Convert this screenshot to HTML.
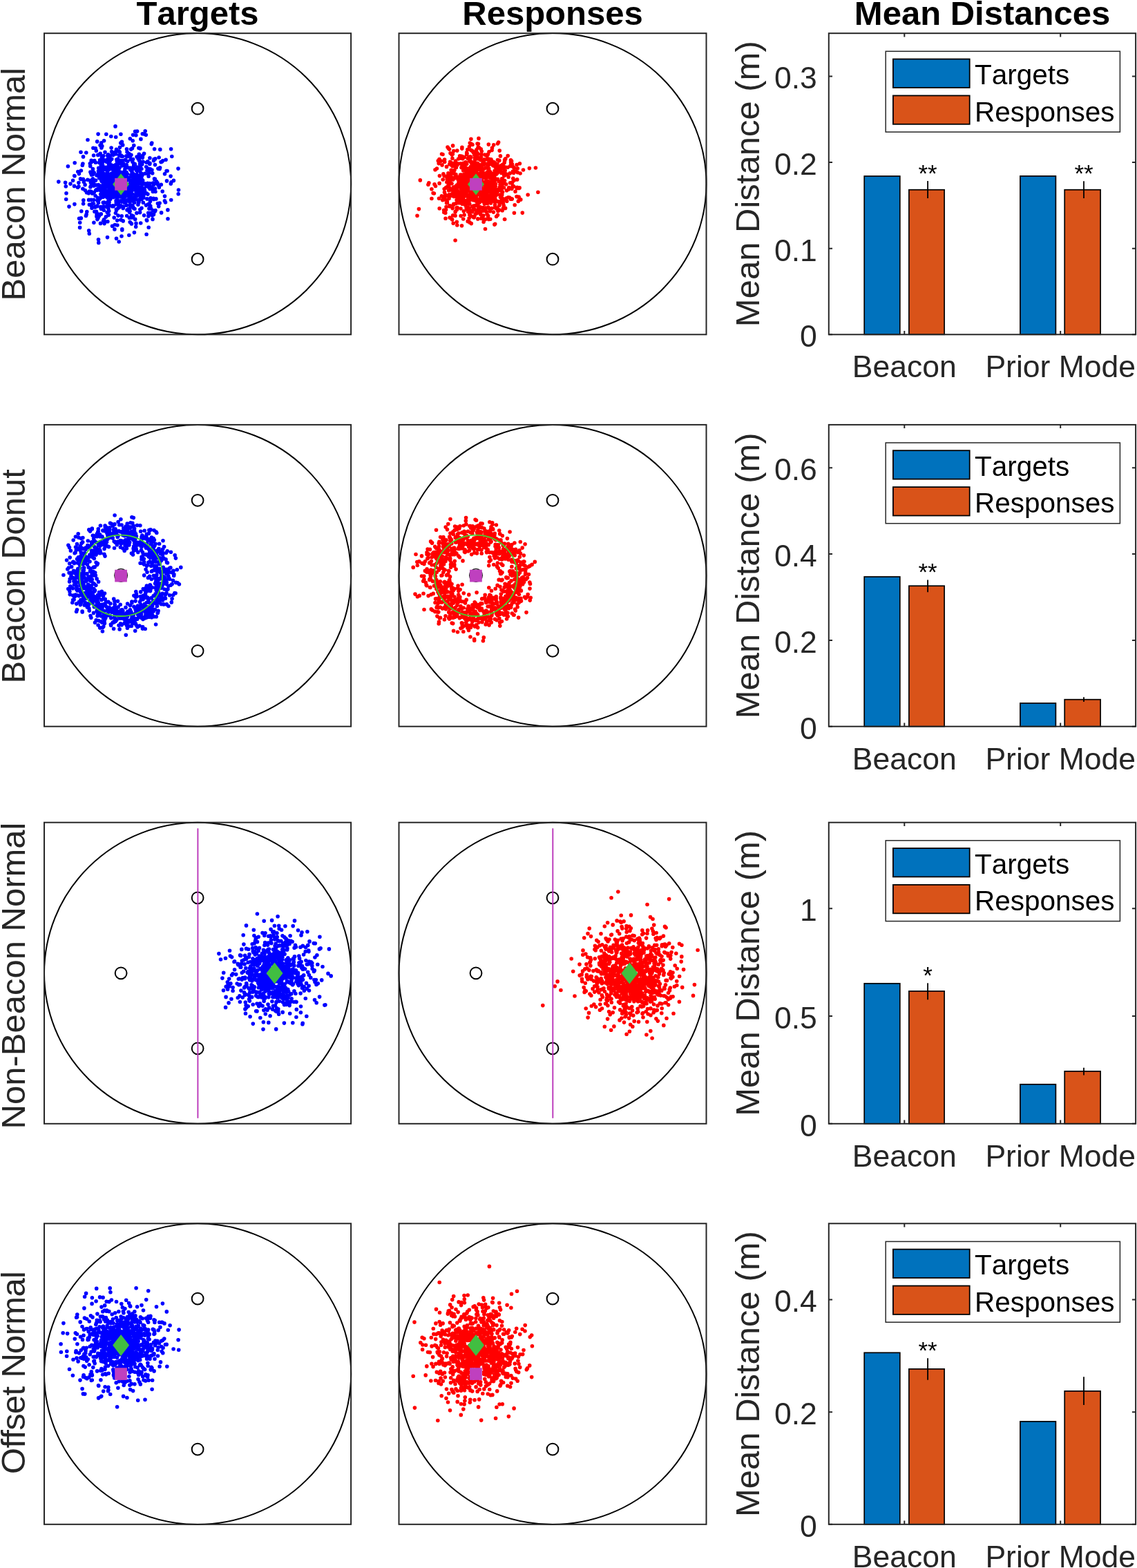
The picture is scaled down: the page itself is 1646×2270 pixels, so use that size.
<!DOCTYPE html>
<html><head><meta charset="utf-8"><style>html,body{margin:0;padding:0;background:#fff;overflow:hidden}svg{display:block}</style></head><body>
<svg width="1646" height="2270" viewBox="0 0 1646 2270" font-family="'Liberation Sans', Arial, Helvetica, sans-serif" style="font-kerning:none">
<rect width="1646" height="2270" fill="#fff"/>
<text x="286" y="35.8" font-size="49" font-weight="bold" text-anchor="middle" fill="#000">Targets</text>
<text x="800" y="35.8" font-size="49" font-weight="bold" text-anchor="middle" fill="#000">Responses</text>
<text x="1422" y="35.8" font-size="49" font-weight="bold" text-anchor="middle" fill="#000">Mean Distances</text>
<text transform="translate(36 266.6) rotate(-90)" font-size="49" text-anchor="middle" fill="#262626">Beacon Normal</text>
<text transform="translate(36 834.3) rotate(-90)" font-size="49" text-anchor="middle" fill="#262626">Beacon Donut</text>
<text transform="translate(36 1412.5) rotate(-90)" font-size="49" text-anchor="middle" fill="#262626">Non-Beacon Normal</text>
<text transform="translate(36 1987.1) rotate(-90)" font-size="49" text-anchor="middle" fill="#262626" textLength="293.9">Offset Normal</text>
<path d="M177.9 263.7h0M189.8 269.2h0M162.7 275.1h0M205 288.5h0M158.9 237.6h0M160.7 267.7h0M121.6 261.7h0M146.4 249.9h0M162.5 259.5h0M184.5 290.7h0M172.1 298.2h0M159.8 274.8h0M195.8 268.9h0M157.9 245.6h0M164.5 271.8h0M151.8 261.9h0M171.4 279.2h0M180 274.9h0M160 263.8h0M193.1 301.1h0M146.1 301.6h0M206 284.7h0M181.1 259.5h0M208.6 311.8h0M216.5 297h0M183.3 239h0M174.9 281.8h0M145.4 275.8h0M184.9 282.8h0M147.8 251.5h0M165 239.8h0M215.1 255.3h0M182.6 260.8h0M211.5 297.1h0M189.6 216.1h0M176.2 282.5h0M198.1 252.5h0M217 236.4h0M159.8 288.3h0M176.2 312.8h0M179.4 252.2h0M166.4 241.7h0M145.7 281.2h0M188.4 296.5h0M157.7 305.6h0M168.4 303h0M165.1 249.8h0M180.8 290.5h0M178.8 253.3h0M144.2 234.5h0M186.6 289.5h0M171.3 242h0M195.1 237.3h0M158.6 281h0M123.3 275.6h0M161.7 269.3h0M173.3 271.4h0M191 249.3h0M207.7 283.5h0M194.5 293.5h0M193.2 286.2h0M176.8 233.9h0M171.9 249.1h0M142.3 272.7h0M162 243.1h0M151.1 272.9h0M183.3 297.2h0M174.7 290.7h0M207.3 293.2h0M120.6 295h0M182.9 276.5h0M183.6 275.6h0M182.4 258.5h0M131.3 264.2h0M156.6 291.6h0M168.4 268.7h0M155.5 255h0M174.8 232.6h0M182 264.3h0M147.8 211.6h0M186.9 259.9h0M162.9 261.3h0M216.8 265.6h0M177 232.5h0M212.9 287.9h0M199.6 267.8h0M196.1 275.3h0M189.2 263.2h0M141.2 290.4h0M130.5 261.2h0M170.3 242.8h0M189.2 262.1h0M165 278.7h0M164.1 298.7h0M183.1 255.8h0M130.3 236.7h0M200 265.6h0M168.5 304.5h0M145.5 253.3h0M164.2 280.2h0M159.8 252.6h0M138.1 283.5h0M193.6 255.8h0M178.8 237h0M164.2 298.4h0M178.2 319.9h0M156.9 280.1h0M170.6 279.8h0M174.9 253.8h0M173.3 220.4h0M160.1 282.3h0M163.5 298h0M198.1 263.2h0M164.2 243.6h0M159 232.9h0M202.8 303.3h0M146.2 239.6h0M134.4 244.6h0M204.9 258.8h0M194.7 255.5h0M215.5 271.3h0M166.3 325.5h0M167.6 238.7h0M179.7 265.9h0M199.6 245.6h0M193.6 286.4h0M159.7 270.5h0M155.9 320.7h0M158.9 256.3h0M150.5 258.8h0M174.9 284.4h0M161 262.5h0M142.5 247.7h0M238.4 290.7h0M157.1 236h0M152.6 266.3h0M175.8 249.6h0M145.5 299.5h0M185.4 258.1h0M170 254.6h0M107.5 269.4h0M150.4 243.7h0M160.3 283.6h0M148.1 233.8h0M189.8 284.1h0M153 279.7h0M168.3 273.7h0M146 285.9h0M202.7 281.4h0M181 266.2h0M171.7 252.2h0M176.3 276.2h0M169 256.1h0M203.3 241.3h0M198.7 270.8h0M156.6 260.1h0M153.9 282.3h0M183.1 253.9h0M149.7 273.7h0M197.1 264.1h0M184.7 258.1h0M176.6 260.1h0M181.8 232h0M189.9 261.5h0M183.3 258.9h0M182.4 242.1h0M202.4 227.6h0M151.1 272.2h0M208.7 273.1h0M169.3 234h0M170.7 266.3h0M213.9 281.1h0M139.9 313.4h0M166 246.5h0M209 265.6h0M166.6 271.8h0M194.5 289.6h0M143.4 312.7h0M196.8 258h0M156.2 244.5h0M177.9 251.8h0M157.5 285.4h0M183.4 257.7h0M191.9 298.2h0M149.9 252.9h0M196.7 283.3h0M180.3 293.5h0M150 232.7h0M155.1 269.6h0M156.7 255.5h0M152.6 252.5h0M151.9 275.2h0M193.3 255.7h0M170.3 253.4h0M187.3 268.8h0M211.7 241.6h0M183.4 277h0M166.8 280.2h0M142 315.5h0M144.2 287.9h0M149.3 293.2h0M166.2 270.4h0M176.3 292.1h0M167.7 198.5h0M157.6 271h0M164.9 284.5h0M198.4 263.4h0M140.8 298.6h0M200 259.9h0M223.5 258.7h0M148.9 263.2h0M199.8 245.2h0M219.9 246.1h0M197 279.3h0M171.5 291.6h0M140.6 298h0M173.6 254.3h0M192.3 291.1h0M192.8 312.7h0M199.9 296.3h0M162.6 269.2h0M188 266.3h0M182 276.6h0M194.5 264.4h0M167 247.7h0M154.5 293.7h0M173.1 284.8h0M145.2 222.2h0M150.9 293.1h0M199.6 274.4h0M156.6 263.7h0M168.2 258.8h0M117.4 247h0M170.7 301.6h0M178.7 299h0M166 260.9h0M187.6 307.3h0M163.9 268.9h0M158.8 239.7h0M158.6 258.8h0M206.2 266.8h0M156.9 270h0M180.1 251.2h0M201.3 223.3h0M170.1 282h0M144.3 275.1h0M204.8 277.2h0M136.2 250h0M203.4 273.6h0M174.8 276.9h0M191.6 250.5h0M168.4 270h0M162.5 263.7h0M204.9 244.5h0M219.4 310h0M135.6 263.5h0M182.9 249.2h0M158 261.3h0M192.1 255h0M217.1 273.4h0M172.7 300.1h0M189.5 275.2h0M167.4 308.5h0M193.7 262.1h0M138.8 275.3h0M148.7 227.3h0M168.6 273.2h0M204.5 273.2h0M193.6 238.6h0M174.5 269.6h0M194.9 269.4h0M193.5 255.2h0M183.3 276.3h0M146.3 270.8h0M167.7 223h0M197.1 258.4h0M155.4 258.1h0M178.2 301.4h0M171.2 277.6h0M206.6 279h0M199.6 255.8h0M192.8 265.4h0M199.8 243.7h0M157.1 295.9h0M170.5 258.5h0M176.8 250.9h0M205.7 238h0M171.6 274.7h0M172.6 248.3h0M155.1 276.5h0M151.3 281.6h0M140 254h0M175.9 238h0M190 266.3h0M151.2 231.8h0M139 267.9h0M148.4 235.4h0M169.7 319.1h0M181.4 284.3h0M179.9 284.8h0M144.2 256.8h0M181.1 266.3h0M170.6 251.4h0M169.1 248.9h0M119.3 239.3h0M186 302.6h0M216.8 269h0M195.6 287.6h0M159.1 227.7h0M175.8 226.2h0M167.7 280.7h0M142.4 267.5h0M203.6 275.1h0M187.1 287.6h0M214.9 270.2h0M203.3 265.3h0M162.5 274h0M161.1 253.6h0M161.1 214h0M177.5 237.7h0M172.6 300.1h0M163.1 254.3h0M206.4 279.3h0M197.5 258.6h0M192.3 251h0M159.5 280.5h0M161.3 284.4h0M230.1 228h0M157.7 292.5h0M171.7 293.5h0M151.8 274.4h0M171.6 270h0M182.7 238.7h0M150.3 298.9h0M181.8 269.2h0M174 275h0M148.5 243.8h0M205.1 270.2h0M194.6 252.8h0M206.7 274.7h0M186.1 279.4h0M156.7 223.8h0M150.3 304.3h0M205 258.8h0M168.1 290.6h0M171.2 236.9h0M204.2 277.7h0M117.2 259.5h0M178.4 277.8h0M178.5 252.1h0M172.4 273.5h0M168.9 258.2h0M203.8 245h0M167 220h0M187.5 285.8h0M187.7 287.9h0M185.2 274.6h0M186 260.6h0M202.4 258.7h0M141.4 286.3h0M217.6 244.7h0M172.7 251h0M166.3 267.8h0M146.5 260.4h0M141.3 253.7h0M147.8 242.4h0M135.5 294.8h0M186.8 222.6h0M161.3 251.3h0M159.2 233.5h0M192.4 257.6h0M185.8 278.9h0M206.7 225h0M215 295.9h0M188.2 321.6h0M179.8 285.6h0M158.1 292.8h0M178.9 256.4h0M223.7 259.7h0M175.3 262.2h0M157.7 279h0M192 274.9h0M120.8 289.9h0M167 238.8h0M188.9 279.7h0M151.1 323.6h0M147.2 226.9h0M148.5 299.4h0M171 258.2h0M173.6 253h0M159.2 252h0M191.3 290.2h0M150.8 272.3h0M193.2 241.9h0M163.5 242.9h0M145.4 269.1h0M158.1 281.3h0M174.4 276.2h0M168.3 252.1h0M173 266.6h0M158.8 276.6h0M192.2 270.4h0M214.5 252.2h0M187 257.3h0M180.4 247.7h0M200.7 270.8h0M202.5 237.6h0M163.7 246.2h0M162.8 250.8h0M172.3 266.4h0M174.1 254h0M179.4 286.9h0M154.3 266.8h0M173.3 277.5h0M173.6 266.4h0M152.3 267.2h0M153.8 278.6h0M172.7 267.7h0M154.6 285.2h0M191 286.6h0M226.3 265.5h0M202.7 263.9h0M184.1 275.2h0M181.1 281.9h0M168.1 267.7h0M187.4 307h0M155.7 225.2h0M163.9 268.8h0M179.1 268.9h0M202.3 289.2h0M173.9 256h0M167.1 258.6h0M169.9 230.6h0M164.4 257h0M170.7 260.9h0M190.5 254.5h0M165 279.2h0M169.6 271.7h0M190.4 276.5h0M180.8 262.2h0M190.7 270.8h0M163.4 263.3h0M147 244.6h0M131.7 251.1h0M205.8 254h0M193.2 266.7h0M158.9 297.5h0M188.4 226.5h0M199 242h0M171 282.1h0M168.2 292.5h0M192.6 230.5h0M164.2 273.2h0M161.8 261.8h0M193.4 274h0M153.9 270.8h0M161 238.8h0M149.1 273.3h0M174.4 266.9h0M148.7 262.5h0M151.2 245.4h0M171.3 234.9h0M190.4 323.9h0M185.6 242.8h0M168.8 231h0M166.4 278.4h0M188.6 243h0M181.9 293.3h0M215.4 250.6h0M155.2 268h0M107.7 254.5h0M168.8 256.2h0M138.6 261.1h0M157.2 284.2h0M153.9 260.3h0M169.7 279.8h0M116.5 258.9h0M192.5 258.4h0M139.9 274.3h0M182.8 260.5h0M148.4 249.7h0M167.8 246.6h0M130.9 249.1h0M173.6 255.1h0M173.3 268.7h0M195.7 317.4h0M191.9 234.5h0M113.9 264.6h0M176.7 240h0M181.3 249.1h0M184.3 259.3h0M184.2 226.7h0M165 263.3h0M142.3 310h0M162.6 298.7h0M159.8 261.5h0M202.3 273.7h0M179.5 272.9h0M143.6 257.8h0M153.1 271.3h0M162.5 265.7h0M173.3 265.9h0M174.3 251.7h0M150.8 251.5h0M199.7 275.4h0M188.5 298.5h0M147.9 278.5h0M150.3 259.1h0M186.2 303.9h0M157.1 264.6h0M201.6 232.5h0M183.4 259.7h0M154.8 270.1h0M188.7 245.8h0M183.8 270.7h0M146.5 302.5h0M200.1 247h0M161.6 284.5h0M163.7 224.4h0M199.2 267h0M132.2 277.5h0M203.9 286.9h0M139.5 306.4h0M201 292.8h0M202.6 307.6h0M258 244.1h0M176.8 331.7h0M125.5 278.8h0M149.6 266h0M192.6 195.3h0M138.3 214.7h0M166.5 241.3h0M231.1 244.4h0M238.5 251.7h0M185.1 268.2h0M175.5 225h0M187.4 281h0M183.8 289.7h0M144.7 255.7h0M150.6 203.7h0M188.6 243.2h0M172.2 350h0M183.6 270.7h0M214.8 312.9h0M242.1 247.5h0M241.5 261.9h0M132.2 232.4h0M216 295h0M222.5 232.6h0M162.5 222.4h0M102 266.1h0M233.6 307.9h0M146.3 309.9h0M153.7 278.3h0M205.6 251.7h0M142.3 290.8h0M168.5 246.3h0M198.5 258.8h0M189.2 231h0M201.8 231.7h0M160.8 197.5h0M217.9 270.2h0M192.2 203.8h0M180.7 252.2h0M219.3 208.6h0M188.1 305.8h0M130.9 270.8h0M134.9 268.3h0M187.4 315.5h0M181.3 241.2h0M196.4 266.8h0M215 244.4h0M224.5 273h0M184 303.9h0M155.4 247.8h0M193.8 263.6h0M176.8 251.8h0M163.7 298.7h0M247.6 215.7h0M231.1 294.1h0M219.7 273.4h0M147.9 259.3h0M140.7 204.9h0M172.2 276.3h0M164.6 273.8h0M117.8 305.8h0M169.2 268.2h0M201.5 245.9h0M220.6 272.4h0M148.7 285.3h0M148.1 275.4h0M183.7 312.5h0M191.4 272.3h0M226.4 262.5h0M155.4 247.9h0M229 267.9h0M153.8 194.3h0M136.4 278.3h0M196.7 328.3h0M149.3 285.2h0M133 301.3h0M190.4 311.7h0M199.1 278h0M170.4 238.1h0M196.9 195.7h0M168.2 295.6h0M132.4 297.9h0M211.3 269.6h0M169.4 287.3h0M198.8 257.5h0M212.3 318.6h0M223.6 215.7h0M182.9 225.8h0M198.6 283.2h0M204.9 276.2h0M169.5 238.7h0M191.1 246.9h0M189.7 253.4h0M141.8 224.4h0M205 270.6h0M147.1 245.2h0M142.5 346.7h0M189.3 273.6h0M231.6 242.8h0M134.5 248.1h0M181.5 259.2h0M162.2 272.4h0M158.5 225.8h0M202.4 256.3h0M163.6 285.2h0M189.9 224.3h0M146.9 213.9h0M129.3 277.1h0M155.8 230.6h0M124.4 312.5h0M158.2 274.1h0M170.7 230h0M189.6 269.9h0M222.1 287.3h0M126.9 260.2h0M169.1 262h0M127 202.5h0M168.2 277.7h0M128.7 333.9h0M197.5 246.7h0M135.6 225h0M216.8 237.4h0M200.6 274.4h0M151.6 269.9h0M129.4 296.2h0M136.8 232.6h0M198.8 247.4h0M243 316.7h0M112.5 271.2h0M168.5 345.3h0M153.4 242.4h0M166.6 257.6h0M140.4 275.2h0M154 234.1h0M230.4 271.2h0M134.9 214.3h0M161.6 219.5h0M125.8 306.6h0M168.5 244.8h0M180.9 244.8h0M176.8 332.9h0M172.9 243.3h0M131.9 289.3h0M167.9 280.9h0M114.4 251.6h0M177.8 285.4h0M183.8 255.7h0M221.4 265h0M172.3 274.2h0M124.8 221h0M187.8 275.6h0M187.9 292.4h0M176.5 236.8h0M221.6 304.7h0M238.5 284.1h0M180.8 276.5h0M188.3 200.7h0M171.6 256.1h0M191.3 280.9h0M166 253.1h0M128.3 279.7h0M160.3 256.3h0M217.6 308.2h0M165.9 331.9h0M204.1 270.7h0M143.6 235.5h0M211.3 195.3h0M239.5 293h0M162.5 327.2h0M184 220.1h0M149.8 225.6h0M129.3 338.3h0M177.7 258.6h0M203.3 286.7h0M147.8 227.7h0M100 299.1h0M163.4 297.9h0M173.5 213.3h0M149.6 320h0M149.8 282.9h0M208.9 194.1h0M212.9 246.7h0M151 319.2h0M155.1 307.2h0M160.4 281.2h0M214.7 308.2h0M167 182.9h0M241.1 247.5h0M224.5 238.6h0M161 272.6h0M176 342h0M112.8 248.6h0M187.5 285.3h0M178.6 276.3h0M215.3 248.2h0M156.4 264.6h0M202.9 214.9h0M247.1 255.1h0M153.1 255.3h0M135.5 233.3h0M164.3 285.6h0M203.5 253.2h0M165.1 284.7h0M105.6 261.3h0M215.2 329.2h0M168.5 216.3h0M153.3 313.9h0M251.4 261.4h0M119.9 273.3h0M205 301.2h0M135.9 322.3h0M217.8 298.4h0M147.2 262.6h0M131.6 269.3h0M186.5 288.9h0M130.7 240.4h0M95.3 269.8h0M136.9 306.3h0M155.3 286.1h0M161.1 265.9h0M167.4 222.4h0M207 234.1h0M156.2 297.3h0M206.3 193.8h0M181.6 272.7h0M184.3 251.8h0M144.8 272.7h0M195 302.2h0M170.8 234.9h0M200.9 214.2h0M147.5 241.6h0M173.4 272.1h0M247.7 289.5h0M209.8 251.2h0M134.5 252.6h0M155.5 343.6h0M229.7 298.8h0M172.2 218.9h0M163.5 243.9h0M147.2 283.1h0M168.9 271.6h0M188.2 243.4h0M225.9 287.9h0M180.3 289.2h0M159.9 260.4h0M224.3 305.9h0M183.5 215.9h0M213.8 233.9h0M200.3 292.7h0M191 314.9h0M114.6 316.2h0M165.2 252.7h0M178.9 287.2h0M187.1 257.1h0M204.8 257.6h0M225 304.6h0M150.6 317.8h0M128.6 289.4h0M248.8 226.5h0M162 240.7h0M228.9 244.1h0M174.9 284.9h0M214.5 295.7h0M142.1 194.1h0M212.1 269.7h0M199.3 244.6h0M175 318.2h0M120.3 259.4h0M117.3 315.9h0M181.3 231.2h0M114 270.1h0M180.4 260.4h0M224.7 229.9h0M203.7 323h0M153.5 299.1h0M231.8 216.4h0M152 220.2h0M194.4 336.6h0M123.1 267.6h0M198.9 289.1h0M156.8 300.9h0M189.2 263.4h0M165.2 315.1h0M180.9 239.2h0M156.6 278.3h0M191.5 214.8h0M208.6 222.2h0M108 254.7h0M187.6 302.8h0M132.5 253.3h0M213.7 265.2h0M217.5 291.4h0M119.9 237.1h0M206.7 261.2h0M142.8 351.4h0M142.7 243.3h0M164.2 255.3h0M195.6 282.4h0M215.9 301.9h0M193.8 210.6h0M203.8 250.3h0M135.8 268.9h0M200.1 230h0M135.8 289.3h0M213.8 246.7h0M183.1 267.3h0M225 277.5h0M108.2 235.8h0M221 317.4h0M224.3 259h0M142.4 293.6h0M170.6 257.7h0M149.8 279.6h0M141.9 251.8h0M248 263.8h0M221.2 275h0M190.7 273.7h0M258.2 280.8h0M185.6 273.4h0M156.9 311.4h0M145.1 210.2h0M184.8 283.8h0M131.1 277.1h0M174.7 207.1h0M96 279.7h0M175.1 297.8h0M125.1 310.5h0M179.4 283.6h0M247.3 265.9h0M168.6 250.9h0M121.4 263.5h0M120.5 226.9h0M107.9 295.6h0M171 312.1h0M154 252.3h0M148.6 231.5h0M222.5 310.4h0M158.2 272.1h0M233.3 267.2h0M98.4 240.8h0M223 230.6h0M220.7 250.7h0M202.4 247.4h0M149.6 254.9h0M95.7 288.5h0M94.6 264.3h0M133.6 279.9h0M222.5 267.5h0M163.6 277.4h0M192.6 299.6h0M157.4 310.7h0M137 261.2h0M258.5 275h0M203.2 282.8h0M186.8 340.5h0M177.7 209.9h0M168 274.8h0M154.8 245.6h0M222.5 288.4h0M235.2 277.1h0M134.4 258.9h0M164.7 254.7h0M203.9 201.4h0M169.9 326h0M133.5 294.7h0M176.4 205.4h0M140.9 317.6h0M150 269.9h0M172.5 225h0M218.6 302h0M191 261.7h0M144.6 231.9h0M210.2 189.7h0M212 279.9h0M193.1 267.1h0M138.4 235.2h0M169.9 283.4h0M221.4 277.5h0M195.4 238h0M207.9 286.3h0M242.9 303.9h0M177.4 226.5h0M234.4 234.1h0M188 305.7h0M206.4 228.1h0M140 310.6h0M146.7 206.9h0M132 235.1h0M160.8 278.7h0M187.2 257h0M147.6 278.5h0M156.9 302.2h0M163 244.9h0M220.4 312h0M235.6 232.8h0M212.7 319.3h0M184.8 233.6h0M170.9 290.5h0M180.4 271.7h0M212.1 339.2h0M233 234.6h0M115.6 329.4h0M228 264.7h0M115.7 322.2h0M157.4 237.6h0M167.8 270.9h0M117 220.3h0M174.2 268.7h0M218.1 286.8h0M198.6 190.1h0M178 286.5h0M179.1 279.3h0M197 323.4h0M215.3 247.4h0M215.3 250h0M182.9 279.1h0M174.7 259.9h0M185.2 279.3h0M84.8 263.1h0M145.5 323.4h0M181.3 239.2h0M192.4 271.9h0M195.6 190.2h0M161.8 230.2h0M228.4 294.6h0M165.9 262.9h0M171.1 247.6h0M139.3 218.3h0M216.9 228.7h0M190.6 297.4h0M195.2 264.1h0M196.1 244.2h0M137.7 299.9h0M197.9 308.4h0M174.9 194.2h0M157.3 240.9h0M212.2 235.2h0M209.5 275.6h0M185.9 276.7h0M198.1 227.1h0M219.8 207h0M148.8 239.7h0M202.8 236.4h0M240.1 231.2h0M208.2 281.3h0" stroke="#0000FF" stroke-width="5.6" stroke-linecap="round" fill="none"/>
<circle cx="286.1" cy="157.2" r="8.4" fill="none" stroke="#000" stroke-width="2"/>
<circle cx="286.1" cy="375.2" r="8.4" fill="none" stroke="#000" stroke-width="2"/>
<path d="M175.1 251.2L187.1 266.8L175.1 282.4L163.1 266.8Z" fill="#41BE41"/>
<rect x="166.2" y="257.9" width="17.7" height="17.7" fill="#BF40BF"/>
<ellipse cx="286.1" cy="266.2" rx="222.1" ry="218.1" fill="none" stroke="#000" stroke-width="2"/>
<rect x="64" y="48.2" width="444.1" height="436.1" fill="none" stroke="#262626" stroke-width="2"/>
<path d="M701 288.9h0M700.6 231.6h0M717.3 278.8h0M675.4 282.4h0M701.6 274.7h0M691.8 281.5h0M669.6 262.4h0M677 282.9h0M692.2 258.9h0M668.3 259.8h0M691.2 259.3h0M728.5 293.9h0M685.9 255.4h0M697.2 272.6h0M752.4 236.7h0M680 321.9h0M709.8 284.7h0M676.1 222.3h0M695.9 269.7h0M655.4 248.3h0M688.9 241.2h0M688.2 269.3h0M692 253.1h0M708.2 290.8h0M700.3 244.7h0M712.2 253.2h0M716.5 237.8h0M717.5 266.2h0M654.8 258.3h0M692.6 274.1h0M662.5 236.9h0M696.8 254.1h0M697.8 287.3h0M643.2 273.6h0M726.5 258.7h0M667.5 287.1h0M698.3 290.9h0M681 226.7h0M687.8 254.7h0M713.5 272h0M643.7 234.5h0M716.6 285.1h0M672.4 266.7h0M703.9 279.4h0M716.4 273.7h0M688.2 259.8h0M721.6 206h0M687 267.6h0M649.7 275.7h0M672.1 290h0M687.4 284.8h0M726.3 277.1h0M665.6 225.9h0M741.8 263.7h0M671 270.6h0M685.4 289.8h0M692 267.1h0M670.3 279.4h0M661 284.7h0M735.2 225.6h0M654.7 282.7h0M666.6 253.1h0M680.9 281.1h0M679.2 274.3h0M685.9 243.9h0M681.7 241.1h0M691.2 236.4h0M659.3 306.1h0M689.5 265.3h0M705.8 255.4h0M684.4 278.2h0M699.2 235.4h0M715.2 250.8h0M660.4 242.4h0M679.7 310.7h0M656.9 271.1h0M629 266.7h0M717.1 260.4h0M672.7 273h0M711.3 284.7h0M748.2 272.4h0M673.8 263.3h0M688.9 269.7h0M690.1 271.4h0M642.5 289.1h0M674.3 235.1h0M709.5 302.3h0M705.3 271.1h0M716.5 236h0M668.4 269.1h0M645.9 271.3h0M677.7 299.9h0M692.2 223.1h0M723.2 271.3h0M706.9 238h0M660.1 276.8h0M671.5 266.1h0M654.3 317.2h0M662.9 258.8h0M705.5 249.3h0M684.1 251.5h0M687.1 235.1h0M678.3 261.2h0M681.3 268.3h0M682.5 287.1h0M681.6 263.1h0M671.7 252.5h0M654.3 280.8h0M657.9 246.6h0M701.4 277.6h0M679.4 212.2h0M703.2 273.8h0M650 287.5h0M670.7 236.3h0M693.8 261.9h0M696.9 223.4h0M743.6 250.5h0M646.3 283.5h0M680.7 275.5h0M681.2 265.1h0M698.1 246.6h0M710.7 254.1h0M665.8 268.8h0M703.9 260.6h0M666 283.5h0M640 238.9h0M692.1 230h0M691.8 265.3h0M717.1 242.1h0M672.8 275.7h0M670.7 247h0M716 265.7h0M639.4 283.7h0M715.8 254.6h0M682.8 279.9h0M664.6 278.6h0M696.8 248.5h0M650.6 260.7h0M665.6 293.8h0M695.2 287.9h0M694.9 273.8h0M668.3 284.8h0M742.8 258.4h0M673.8 262.5h0M677 247.8h0M695 258.9h0M732.7 266.8h0M700.4 292.5h0M682.3 305.5h0M672.7 244.9h0M680.4 263.7h0M650.4 265.8h0M642.6 304.3h0M688.7 249.4h0M664.7 256.4h0M684.5 238.5h0M664.3 261.7h0M675.9 292.1h0M724 267.2h0M704.7 230.7h0M709.5 265.9h0M705.1 310h0M624.9 273.8h0M659.1 282.7h0M652.9 253.4h0M696.9 283.3h0M693.2 245.3h0M674.9 290.6h0M690.8 221.3h0M715.5 278h0M716.3 257.7h0M715 238.1h0M707.5 253.5h0M710.6 293.9h0M669.7 265.4h0M692.1 298.9h0M711.6 233.8h0M704.3 286.9h0M675.4 302.8h0M651.7 234.4h0M706 294.2h0M671.6 281.3h0M694.4 307.8h0M691 293.5h0M664.8 261.8h0M688.2 297.5h0M707.8 246.5h0M710.8 287.6h0M687.8 259.8h0M685.4 221h0M696.5 273.1h0M665.9 286.8h0M651.2 251.9h0M677.2 320.4h0M644.6 281.9h0M718.3 276.9h0M725.3 239.7h0M624.9 287.5h0M656.3 257.9h0M656.8 295.2h0M716.1 247.3h0M717.2 270h0M687 268.3h0M685.1 283.4h0M700 257.3h0M720.2 250.2h0M699.3 278.1h0M733.9 253.1h0M741.5 271.5h0M685.4 248.6h0M708 268.1h0M659 236.3h0M674.9 248.5h0M722.6 303.9h0M716.2 276.4h0M678.6 268.2h0M716.7 324.3h0M717.5 259.2h0M692.1 253.7h0M668.3 261.8h0M696.7 316.3h0M692.5 303.4h0M742.3 268.9h0M737.6 286.1h0M678.9 273.9h0M691.7 260.5h0M685.2 270.6h0M703.6 242.9h0M690.7 225.6h0M698.6 283.6h0M695.8 274.5h0M708.1 248.8h0M684.1 280.5h0M720.1 277.4h0M720 301h0M687.1 244.6h0M656.7 271.1h0M723.2 274.1h0M696 256.5h0M707.3 209.1h0M697.7 267.5h0M650.8 237.7h0M656.2 296.7h0M665.2 284.8h0M708 273.8h0M653.1 250.2h0M739.5 231.9h0M666.9 262.4h0M714.5 273.5h0M712.5 237.9h0M718.4 282.1h0M644.8 308.3h0M757.5 246h0M692.6 304.5h0M648 213h0M653.4 251.4h0M674.2 283.1h0M698.8 233.1h0M707.5 317.4h0M725.7 293.5h0M691.6 293.3h0M663 287h0M688.5 297.3h0M704.5 237.3h0M694.7 299.6h0M658.3 251.7h0M668.7 226.4h0M718.9 302.1h0M714.2 273.3h0M689.5 273.2h0M669.8 290.9h0M721.3 291.9h0M675.6 268.9h0M686.2 315h0M696.2 215.9h0M702.6 317.6h0M710.9 290.5h0M692 213.5h0M638.5 233.1h0M687.3 275.1h0M711 257.6h0M718.8 259.2h0M670.6 289.7h0M660.3 269.3h0M681.4 228.2h0M648 254.3h0M675.1 300.8h0M701.9 224.1h0M666.2 285.8h0M746 277.2h0M700 317h0M690.3 258.4h0M650 252.9h0M691.3 228.7h0M694.7 290.7h0M683.9 286.5h0M711.9 278.8h0M740.8 287.8h0M682.2 248.4h0M666.5 279.6h0M744.4 261h0M681.5 312.4h0M636.4 254.6h0M718.6 242.1h0M677.2 257.3h0M710.2 270.5h0M702.7 282.8h0M691.9 296.7h0M669.9 228h0M639.5 223h0M675 294.6h0M696.1 250.6h0M660 252.5h0M679.3 251.5h0M649.5 253.9h0M720.5 208h0M684 209.5h0M696.3 246.6h0M630.5 269.5h0M743.7 269.7h0M724.7 264.8h0M628.4 280h0M678.9 227.3h0M713.8 274.5h0M675.8 290.2h0M665.7 284.1h0M663.7 281.2h0M659.1 307h0M698.4 305.4h0M667.1 253.9h0M660.1 294.6h0M704.5 293.2h0M682 282h0M669.8 229.7h0M641.9 251.9h0M675.1 249.8h0M675.6 274.5h0M674.2 243.1h0M659.1 312.2h0M736.3 274.1h0M674.4 270.3h0M657.6 273.8h0M691.1 281.1h0M718.6 313.5h0M679.7 294.9h0M668 242.6h0M673.1 240.2h0M719.4 291.7h0M727.9 266.1h0M699 251.1h0M657.6 278.8h0M698.8 236.9h0M708 219.7h0M685.8 249.7h0M675.7 237.5h0M718.6 282h0M725.3 270.3h0M653.4 256.5h0M656.4 278.8h0M725.8 275.3h0M673.2 256.4h0M696.5 227.3h0M694.9 271.7h0M674.8 255h0M695.5 244.1h0M666.6 287.3h0M696.9 311.5h0M661.8 218.1h0M717.6 292h0M668.9 226.4h0M688.9 218.7h0M680.3 207.1h0M683.2 208.7h0M683.2 306.8h0M682.3 286.6h0M671.4 241.7h0M646.5 293.8h0M688.2 309.5h0M655.6 259.6h0M692 303.7h0M742.5 248h0M656.8 218.6h0M728.4 263.1h0M670.8 264h0M716.6 276h0M693.8 238.3h0M706.5 313.3h0M654 265.7h0M676.8 275.1h0M689.9 261.3h0M663.9 264.9h0M671.6 261.3h0M687.6 283h0M672.5 256.6h0M720.5 259.4h0M681.8 288.6h0M697.3 267.8h0M695.8 231.8h0M702.8 301.1h0M706.4 223.4h0M697.8 241h0M683.1 269h0M655.1 301.6h0M687.8 287h0M708.2 301.9h0M724.4 225.9h0M691.1 208.1h0M677 285.1h0M716.5 300.6h0M679.1 274.5h0M692.8 300.1h0M736.1 256.2h0M679.4 282.1h0M712.1 280.7h0M671.3 305.7h0M691.7 307.5h0M730.6 231.7h0M661.9 239.1h0M697.6 267.6h0M698.2 244.3h0M702.8 304.1h0M651.7 261h0M697.7 262.8h0M684.8 314.1h0M727.7 289.3h0M668.5 326.8h0M701 250.7h0M680.8 253.1h0M752.1 271.9h0M692.4 208.3h0M712 237.8h0M657.9 282.9h0M665.6 289h0M723.2 218.1h0M686.7 223.9h0M688.8 291h0M651.1 315.1h0M681.6 234.4h0M687 287.7h0M650.6 266.4h0M650.7 298.8h0M695 254.8h0M720.5 231.5h0M679.1 316.1h0M686.9 302.9h0M696.1 247.3h0M683.3 268.3h0M678.5 243.9h0M667.7 226.1h0M693.6 276.8h0M712.1 217.4h0M713.7 265.7h0M648.9 268.8h0M714 280.3h0M711.4 291.7h0M716.3 265.2h0M630 245.7h0M700.7 253.5h0M710.3 287.7h0M691.8 316.9h0M662.1 291.3h0M676.7 245.1h0M707.5 249.6h0M715.3 234.7h0M691.5 243.5h0M683.6 256.2h0M657.7 283.9h0M654.3 239.8h0M716.3 292.5h0M709.8 275.4h0M668.9 239.4h0M716.6 274.1h0M722.7 292.6h0M684 244.2h0M661.8 326h0M718.6 282.3h0M680.7 261h0M680.6 257.6h0M620.9 264.7h0M679.5 274.2h0M696.7 289.4h0M690.2 287.9h0M740.6 233.4h0M682.5 285.5h0M665 285.9h0M649.2 214.7h0M652 221.7h0M690.1 257.8h0M700.1 238.4h0M689.3 278.7h0M683.5 249.3h0M693.1 291.2h0M709.9 291.8h0M674.2 245.5h0M748.7 259.9h0M704.5 286.3h0M731.8 229.9h0M676.7 254.7h0M681.9 201.3h0M699.3 281h0M708 233.9h0M718.4 243.2h0M655.1 240h0M666.1 271.2h0M714.7 209.8h0M675.1 290.9h0M696.7 280.3h0M647.4 292.4h0M645.5 271.9h0M730.5 317.5h0M705.8 290.5h0M673.4 253.8h0M724.9 266.8h0M687.3 228.7h0M695.4 284.2h0M668 253.1h0M736.8 271.6h0M682.6 236.1h0M673 260h0M730.7 250.3h0M743 241.7h0M680.6 289.5h0M684 244.3h0M687.2 278.9h0M641.2 260h0M687.8 255.8h0M712.3 251.4h0M680.4 267.8h0M712.1 260.8h0M735 242.2h0M728.3 243.6h0M686.3 276.6h0M750.6 290.9h0M679.2 301.8h0M684.8 245.4h0M704 269.3h0M718.7 251.9h0M702.1 283.9h0M699.1 266h0M670.8 291.2h0M695 280.2h0M680.8 267.1h0M660.9 269.1h0M713.2 269.3h0M715.9 275.2h0M730.6 261.6h0M643.5 278.4h0M686.2 240.4h0M709.9 273.9h0M703.9 257.8h0M696.7 273.6h0M742.5 248.3h0M690.7 276.6h0M641 223.5h0M707.7 243.8h0M668.9 213.2h0M664.9 287.9h0M650.7 282.8h0M700.1 321.2h0M677.2 300.9h0M716.8 259h0M642.8 307.5h0M651.4 254h0M716.6 296.9h0M666.5 265.9h0M683.5 298.7h0M691.4 236.8h0M748.8 271.2h0M669.6 253.3h0M674.3 271.8h0M686.4 284.5h0M735.7 285.7h0M655.4 222.9h0M669.1 295.2h0M681.3 248.7h0M695 228.5h0M658 280.5h0M682.2 254.5h0M700.2 251h0M671.1 254.3h0M708.5 268.4h0M656.4 258.6h0M709.8 317.3h0M657.9 275.9h0M683.5 289h0M704 306.5h0M706.1 252h0M675.4 277.7h0M702.5 331.5h0M739.6 235.1h0M701.2 230.8h0M643 286.8h0M707 238.7h0M738.7 240.4h0M657.1 284.4h0M697.4 262.4h0M689.1 272.8h0M687 262.1h0M636 230.5h0M708.7 247.7h0M706.8 300.1h0M680.7 274.4h0M751.2 285.5h0M744.4 308.2h0M712.8 263.7h0M666.6 236.7h0M705.1 279.4h0M685.9 289.7h0M673.5 296.7h0M692.2 265.8h0M691 264.1h0M696.1 300.3h0M711.8 258.6h0M741.5 237.9h0M653.1 282.1h0M716.6 287.3h0M712.2 253.6h0M696.3 240.7h0M741.3 288.1h0M712.5 214.1h0M714.4 307.1h0M726.3 288.1h0M691 257.5h0M708.4 277.1h0M697.9 258.4h0M739.8 235.2h0M690.3 251.1h0M720.9 305.4h0M727.1 287.1h0M706 263.8h0M691.6 257.6h0M703.3 275.1h0M690 279.6h0M706.3 262.6h0M704.1 294.5h0M677.4 306.3h0M634.3 232.7h0M662 300.5h0M727 269.4h0M740.9 273.2h0M676.6 273.3h0M687 286.6h0M647.4 293.7h0M677.7 289.8h0M646.3 255.4h0M693.3 291.1h0M655.7 311.8h0M705 252.6h0M726.3 269.5h0M713.3 252.5h0M678.7 282.5h0M699.3 244.3h0M671.6 284.7h0M712 261.1h0M713.6 290.2h0M692.5 239.3h0M650.5 216.1h0M726.4 261.1h0M675.3 259.3h0M652.2 275h0M729.2 297.5h0M645.6 303.6h0M668.8 215.1h0M655.3 240.7h0M690.8 238.9h0M647.2 259.6h0M746.8 247.8h0M704.5 268.9h0M722.8 232.2h0M673.8 264.1h0M636.2 301.8h0M666.7 260.2h0M690.3 269.4h0M686.1 274h0M702.2 289.8h0M678.6 246.5h0M660.2 282.8h0M689.7 281.7h0M706.6 312.3h0M697 287.1h0M656.1 237.6h0M682 233.9h0M711 230.8h0M693 200.4h0M659 257.6h0M683.5 218.4h0M694.2 293.1h0M709.8 249h0M674 234.7h0M709.3 305.7h0M675.7 220.9h0M696.8 285.9h0M753.8 288.9h0M707 277.6h0M721.8 241.3h0M666.5 277.8h0M671.1 273.7h0M635.5 287.2h0M715.6 267.9h0M695.8 310.5h0M659.6 242.1h0M659.3 255.3h0M661.7 267.8h0M672.1 227.6h0M646 299.5h0M689 260.6h0M691.8 264.5h0M712.9 281.9h0M673.9 244.5h0M659.5 233h0M731.7 242h0M632.4 244h0M668.1 275.7h0M665.3 281.2h0M702.3 301h0M730.2 235.4h0M679.3 273.4h0M751 285h0M725.9 262.1h0M708.1 286.1h0M677.8 287.7h0M722.1 262.5h0M720.5 311.2h0M692.9 266.8h0M682 250h0M695.5 255.6h0M682 245.9h0M646.5 241.4h0M700.5 234.8h0M672.2 311.1h0M723.7 248h0M708.5 249.2h0M738.2 250.9h0M693.4 304.1h0M667 302h0M667.3 273.2h0M682.4 264.4h0M695.6 264.7h0M661.5 290.1h0M711.9 301.6h0M731.2 230.5h0M728.3 301.8h0M675.6 294.8h0M733.6 252.2h0M651 257h0M655.8 259.9h0M662.2 256h0M701.5 304.9h0M685.3 256.4h0M722.7 232.6h0M654.9 229.2h0M686.4 277.4h0M688.4 281.6h0M715.1 280.2h0M667.5 259.5h0M727.2 238.5h0M683.7 255.5h0M685.8 237.7h0M718.4 247.5h0M689.3 285h0M681 283.4h0M673.2 257.1h0M688.5 254.4h0M619.9 267.3h0M698.6 279.6h0M662.2 276h0M697.3 219h0M627.1 279.6h0M663.3 293.8h0M753.1 251h0M671 266.4h0M710.6 236.1h0M727.1 293.5h0M710.2 252.2h0M717.6 289.9h0M656.2 323.2h0M682.3 276.7h0M675.8 277.1h0M724.6 245h0M643 254.6h0M653.1 246.3h0M687.3 265h0M728.4 239.4h0M701.2 253h0M699.8 312h0M675.6 223.6h0M654.2 224.1h0M663.3 260.3h0M724.4 285.6h0M704.4 255.3h0M670.1 267.6h0M695 273.7h0M701.8 263.6h0M635.2 236.6h0M667.1 312.6h0M678.6 285h0M733.5 275.8h0M679.6 258.8h0M661.4 275h0M723.7 282.1h0M713.4 286.1h0M749.1 249.6h0M695.6 285.8h0M675.9 261.1h0M661.1 289.6h0M697.4 256h0M643.6 231h0M662.4 279h0M655.6 210.9h0M648.9 250.8h0M677 292.2h0M731.6 301.4h0M687.6 231.6h0M676.8 216.5h0M697.9 287.7h0M636.1 265.4h0M699.5 300.5h0M731 288.4h0M671.1 256.8h0M725.9 250.4h0M689.8 308.9h0M694.7 229.6h0M682.4 284h0M685.5 298.1h0M728.2 249.2h0M676.4 263.9h0M656.1 277h0M685.8 288h0M673.6 243h0M744.3 243h0M674 247h0M682.2 242h0M689.7 247.7h0M678.9 276.5h0M711.3 279.4h0M669.7 277.5h0M687.5 263.9h0M641.1 284.9h0M687 312.8h0M709.6 236.6h0M651.2 297.8h0M665.6 285.2h0M682.3 323.6h0M693.3 307.7h0M729.7 254.3h0M681.5 307h0M691.2 243.5h0M690.3 305h0M686.9 304h0M684.9 303.6h0M707.8 262.8h0M699 253.2h0M659.6 239.5h0M690.8 239.6h0M705.3 282.6h0M706.3 255h0M694.4 267.8h0M731.2 246.7h0M681.8 262.2h0M688.8 248.3h0M674.7 296h0M674.5 293.4h0M640.6 289.6h0M706.9 283.4h0M645.9 289.2h0M661.4 303.6h0M681.7 227.4h0M723.3 292.1h0M681.8 305.2h0M712.8 233.7h0M682.6 256.4h0M689.6 273.6h0M672.6 263.1h0M709.9 266.4h0M684.9 260.2h0M689.9 216.7h0M697.4 240.6h0M695.8 228.6h0M719.5 274.8h0M653.6 274.8h0M670.7 317h0M707 246.9h0M699.3 267.5h0M727.6 278.1h0M707.8 238.3h0M715.9 325.1h0M711.4 267.5h0M697.7 242.8h0M698.3 238.9h0M694.2 258.1h0M668.9 284.3h0M649.8 267.5h0M654.6 318h0M750.3 291.5h0M748 284.6h0M708.7 257.1h0M667 272h0M677.4 256.8h0M714.1 265.1h0M647.7 262.7h0M670.8 260.6h0M661.1 300.9h0M748.1 238.5h0M711.7 284.6h0M661.7 271.2h0M733.8 291.3h0M739.8 236.8h0M671.1 276.3h0M703 269h0M681.5 257.2h0M675 280.4h0M677.2 229.5h0M708.3 230.2h0M703.6 257.2h0M709.5 289.3h0M729.9 254.6h0M683.8 267.6h0M651.2 283.9h0M695.9 231.6h0M727.2 304.7h0M653.9 283.2h0M728.3 290.4h0M663.6 230h0M688.7 254.3h0M691.7 264.9h0M707.2 252.5h0M688.1 287.4h0M700.2 273.4h0M665.4 281.7h0M690.3 289.5h0M751.2 272.4h0M713.8 239.8h0M695.1 309.3h0M689.9 250.2h0M697.7 262.4h0M684.7 257.3h0M749.3 243.8h0M679.7 251.9h0M727.6 259.8h0M729.5 271.8h0M690.9 227.9h0M726.8 281.9h0M703.4 264.2h0M679.5 233.1h0M719 274.6h0M681.2 250.3h0M695 264.9h0M739.3 288.2h0M674.3 237.5h0M684.8 242.7h0M693.8 278.3h0M710.1 278.6h0M686.2 283.6h0M665.9 265.3h0M715.3 275.2h0M654.9 236.3h0M645 316.2h0M646.9 263.8h0M745.2 296.7h0M730.1 254.1h0M690.9 278.8h0M682.8 267.3h0M702.8 305.1h0M665.9 229.1h0M692.8 273.3h0M733 287.1h0M673.9 283h0M724.4 275.5h0M682.2 286h0M681.8 217.3h0M730.6 232.9h0M682.3 259.1h0M682.3 260h0M650.2 281.8h0M692.7 268.6h0M722.9 297.2h0M730.7 317.5h0M705 226h0M698 267.9h0M693.8 251.3h0M666 289h0M719.9 237.3h0M707.5 262.9h0M680.6 286h0M690.3 252.5h0M693.4 213.6h0M674.6 255.5h0M651.1 272.1h0M699.4 251h0M686.6 285.4h0M722.2 246.6h0M701.3 295.1h0M690.5 246.2h0M669.1 258.3h0M661.3 321.3h0M674.7 277.1h0M696.5 284.1h0M679.9 231.7h0M738.6 264.7h0M694.4 272.2h0M608.3 260.9h0M606.4 302.6h0M604 312.2h0M659.1 348h0M766.4 243.6h0M775.4 243h0M778.9 278.2h0M764.2 282h0M756.3 308.1h0" stroke="#FF0000" stroke-width="5.6" stroke-linecap="round" fill="none"/>
<circle cx="800" cy="157.2" r="8.4" fill="none" stroke="#000" stroke-width="2"/>
<circle cx="800" cy="375.2" r="8.4" fill="none" stroke="#000" stroke-width="2"/>
<path d="M689 251.2L701 266.8L689 282.4L677 266.8Z" fill="#41BE41"/>
<rect x="680.1" y="257.9" width="17.7" height="17.7" fill="#BF40BF"/>
<ellipse cx="800" cy="266.2" rx="222.5" ry="218.1" fill="none" stroke="#000" stroke-width="2"/>
<rect x="577.5" y="48.2" width="445" height="436.1" fill="none" stroke="#262626" stroke-width="2"/>
<path d="M224.4 819.3h0M205 777.6h0M113.7 828.4h0M148.8 768.1h0M126.3 857.9h0M197.9 788.6h0M122.3 806.1h0M196.7 792.3h0M198.2 863.2h0M216.8 883.3h0M182 879.4h0M151.6 896.9h0M137.7 829.1h0M160.4 904h0M141.1 891.7h0M196.4 864.5h0M170.7 891h0M226.3 892.8h0M128.1 875.8h0M204.8 784.8h0M147.8 876.6h0M111.4 850.9h0M109.1 800.1h0M145.8 800.6h0M181.2 891.3h0M241 828h0M205.5 787.2h0M142.6 842.3h0M126.7 807.3h0M168.2 884.9h0M218.1 853.1h0M225.2 787.3h0M192.5 802.9h0M120.1 826.4h0M198.7 896.3h0M165.9 885.7h0M144.6 773.8h0M132.4 826.9h0M126 830.6h0M200.3 881h0M135.6 780.1h0M140.1 794.3h0M206.6 907.5h0M149.6 866.7h0M158.2 768.4h0M232.9 849.8h0M175.1 883.4h0M190.5 773.7h0M229.2 837.7h0M125.1 874.4h0M183.5 905.6h0M218.9 889.1h0M143.9 861.8h0M172 905.2h0M109.4 861h0M195 776.4h0M210.2 910.5h0M105.6 813.8h0M166 874.8h0M136 799.8h0M230.5 816.6h0M139.3 870h0M227.5 877.2h0M220.9 794.6h0M167.4 784.5h0M132.3 850.3h0M213 828.2h0M130.7 852.5h0M185.4 789.1h0M106.6 826.3h0M229.5 798.6h0M218.1 787.6h0M225.7 841.7h0M119.2 842.6h0M250.4 840.2h0M189 756.7h0M189.8 885.7h0M215 868.6h0M151.4 781.2h0M206.4 787h0M209.9 788.8h0M123.5 872.6h0M224.2 822h0M102.9 834.4h0M248.3 871.9h0M223.4 825.4h0M149.5 862.5h0M132.7 833.3h0M185.6 886.3h0M149.4 892.7h0M173.8 895.1h0M223.8 872.7h0M141.6 870.5h0M122.7 804.1h0M130.7 823h0M225 873.3h0M191.3 898.7h0M158.4 769.7h0M188.3 771h0M230.4 826.6h0M146.6 861.1h0M126.4 839.8h0M218.6 882.2h0M147.4 883.9h0M202.5 883.4h0M202.4 880.5h0M196.8 885.3h0M210.5 886.4h0M221.8 869.5h0M215.6 888.6h0M219.9 887.8h0M110.2 828.6h0M241.3 845.8h0M229.2 813.7h0M236 782.7h0M169 897.3h0M151.5 859h0M172.7 759.7h0M118 786.6h0M140.1 884.8h0M205 806.4h0M131.5 805.5h0M208.6 853.6h0M165.2 783.8h0M136.3 878.6h0M231.2 816.4h0M251.1 826.4h0M142.5 789.6h0M116.6 857.1h0M126.2 855.2h0M235.1 859.4h0M128.4 792.7h0M163.2 901.4h0M222.2 885h0M124.3 852.4h0M223.9 862.3h0M220.6 890.5h0M117.9 851.5h0M212.1 852.8h0M174.4 792.2h0M225.3 835.4h0M154.9 772.1h0M154.5 784.8h0M120.8 834.8h0M102.5 830.6h0M144.3 795.7h0M105.4 851.8h0M137.1 783.4h0M113.3 833.4h0M227.6 847.5h0M180 765.5h0M112.1 815h0M206.4 910.1h0M229.6 845.2h0M208.9 817.2h0M226.3 867.1h0M156.8 767h0M127.9 811.6h0M199.4 788.8h0M259.4 845.7h0M216.8 802.4h0M174.5 902.9h0M188.1 764.7h0M130 813h0M197.3 776.7h0M131.1 841.1h0M145.5 882.1h0M219.3 806.1h0M187.3 906.2h0M207.4 816.1h0M152.3 791.3h0M234.5 838h0M131 891.5h0M218 766.8h0M237.9 853h0M254.4 808.1h0M221.5 813.4h0M209.2 768.2h0M120.2 806.9h0M183.4 794h0M170.8 776.3h0M137 791.9h0M144.9 784.6h0M214.5 879.7h0M131.6 863h0M168.1 897.4h0M215.8 767.6h0M140.6 817.6h0M237.6 791.6h0M147.6 859.8h0M109.7 842.1h0M213.7 865h0M228.1 838.9h0M240.9 840h0M251.7 833.5h0M97.8 824h0M186.9 788.9h0M176.9 882.8h0M103.7 830.3h0M234.2 827.6h0M109.7 836.9h0M221.7 783.3h0M112 825.5h0M113.9 836.6h0M182 762h0M130.5 869.6h0M163.2 778.9h0M229.9 862.8h0M227.4 863.8h0M220.7 826.2h0M117.9 814.2h0M196.3 895.6h0M108.4 863.5h0M230 794.2h0M100.9 856.3h0M144.9 887.2h0M167.5 879.9h0M214.6 794.3h0M193.1 794.1h0M164.9 771.9h0M205.8 775h0M110.6 885.5h0M195.5 796.2h0M134 873.3h0M106.2 782h0M111.5 787.6h0M184.4 909.2h0M203.1 815.3h0M194.7 770.4h0M148.1 901.2h0M119.7 784.8h0M96.6 811h0M243 852.9h0M239.4 860.9h0M135.6 775.6h0M240.6 824.4h0M199 907.8h0M126 864.5h0M236.5 807.7h0M170.2 776.6h0M121 847.9h0M230.8 827.3h0M140.4 867.5h0M207 867.8h0M204.9 780h0M210.7 779.8h0M117.2 857.2h0M156.3 791.1h0M165.5 793.5h0M237.5 866.5h0M216.7 813.1h0M127.7 847.8h0M227.3 861.9h0M215 878.7h0M137.5 901.2h0M145.4 761h0M211 878.7h0M128.8 860h0M149.8 907.1h0M193.9 862.3h0M214.1 782.9h0M111.5 882.7h0M132.1 848.1h0M228.2 887.4h0M227.5 863.1h0M234.7 848.2h0M234 831.3h0M152.8 894.7h0M113.8 829.3h0M243 830.3h0M174.9 751.7h0M230.7 838.5h0M214.9 886.1h0M158.6 883.3h0M229.2 850.9h0M215.5 772.3h0M122.5 800.5h0M150 874.8h0M147 884.6h0M158.5 773.2h0M100.1 829.3h0M125.8 850.4h0M236.4 827.7h0M240.4 800.5h0M140.1 837.9h0M227.6 805.1h0M134.4 861.4h0M197.8 886.1h0M104.1 836.7h0M116 830.8h0M106.9 841.6h0M147.2 875.3h0M205.1 791.5h0M222.3 862.6h0M137.5 854.8h0M109.5 792h0M164.7 879.9h0M214.9 814.3h0M171.1 755.5h0M144.7 790.5h0M111.6 809.4h0M164.7 882h0M117.9 835.4h0M147.3 856.2h0M193.9 878.3h0M140.6 796.6h0M207 896.4h0M203.4 863.6h0M241.4 854h0M103.7 820.6h0M212.3 893.7h0M115.5 817.7h0M211.9 776.2h0M229 795.8h0M232.6 801.7h0M112.6 793.3h0M230.5 845.7h0M232.8 800h0M194.6 774.2h0M191.8 757.3h0M130.5 871.4h0M159.9 873.7h0M229.7 859.1h0M188.9 763.4h0M184.8 775.8h0M193.1 781.7h0M208.3 778.4h0M121.3 821.9h0M115.4 795.9h0M211.2 802.5h0M117.9 801.4h0M112.9 830.8h0M224.6 851h0M172.1 768.9h0M206.5 799.5h0M210.8 858.3h0M217.5 813.8h0M224.6 844.8h0M224.6 862.3h0M257.1 843.7h0M237.2 840h0M161.3 758.2h0M118.5 839h0M237.4 865.9h0M244.6 837.1h0M135.6 863.9h0M168.8 773.9h0M222.6 808.1h0M138.9 847.3h0M108.3 838.4h0M251.8 833h0M132.1 801.6h0M174.2 875.2h0M196.5 772.9h0M110.9 850.7h0M241.5 828.6h0M135.8 852.3h0M146.9 786.2h0M230.2 796.5h0M105.7 836.3h0M235.4 800h0M217.8 879.4h0M226.1 803.4h0M124.1 840.2h0M233.8 831h0M261.8 821.4h0M208.7 832.9h0M182.8 887.9h0M194.4 776.3h0M226.1 821.9h0M107.1 868.1h0M153.4 871.3h0M110.3 847.8h0M149.5 875.8h0M237.1 842.3h0M212.3 787.2h0M202.4 787.3h0M179.3 774.1h0M222.2 793.4h0M135.3 832.9h0M135.7 856.4h0M144.4 773.8h0M196.4 785.7h0M122.1 875.9h0M213.8 818.1h0M213.6 792h0M134.3 857.6h0M195.2 791.5h0M195.7 913.3h0M133.4 869h0M176.5 783h0M110.3 796.4h0M109 861.2h0M206.9 862.5h0M140.4 772.8h0M219.5 893.8h0M167.7 896h0M110.9 853.5h0M178.2 771.2h0M124.1 795.5h0M98.8 852.6h0M223.4 781.8h0M208.7 778.4h0M160.7 774.9h0M143.7 875.2h0M237 874.9h0M212.3 773.4h0M127.9 861.9h0M152.6 876.4h0M181 789.6h0M219.3 838.5h0M183.6 763.1h0M126.9 789.5h0M133.8 868.8h0M182.8 785.4h0M233.8 832.4h0M194.6 775h0M148.8 908.2h0M217.6 855.6h0M229.1 884.2h0M147.9 786.4h0M115.4 839.4h0M160.7 905.5h0M133.6 868.3h0M248.2 828.6h0M138.9 798.4h0M227.1 827.1h0M144.6 776.8h0M216.1 848.4h0M190.9 872.7h0M131.1 865.4h0M203.9 889.4h0M211.6 850.5h0M226.9 832.3h0M186.2 898.4h0M120.3 847.7h0M191.2 899.6h0M142.7 898.6h0M101.2 807.1h0M199.3 881.9h0M215.9 854.5h0M115.6 822.2h0M126.2 806.9h0M217.3 801.8h0M166.1 870.8h0M117.4 779.4h0M236.9 808.1h0M133.9 864.7h0M227.7 869.8h0M203.7 769.3h0M133 829.8h0M204.9 809.7h0M235.6 868.9h0M226.2 854.6h0M221.2 807.9h0M116.9 805.3h0M208.3 809.1h0M165.4 883h0M142.6 798.4h0M169.2 886.4h0M190.9 871h0M244 848.2h0M189.4 775.1h0M142.2 887.2h0M133.6 859.5h0M170.2 777.4h0M202.7 888.3h0M175.2 787.3h0M226 797.9h0M192.6 893.6h0M213.5 883.6h0M139.6 785.2h0M254.7 843.4h0M124.7 858.6h0M132.6 798.9h0M197.2 880.9h0M230.6 787.2h0M127.4 839.1h0M207.3 893.8h0M196.4 902.8h0M105.7 862h0M171.1 878.7h0M223.8 811.6h0M184.4 762.2h0M194.7 786.7h0M100.6 842.1h0M161.7 881.2h0M184.8 768.9h0M197.2 905.1h0M134.3 775.3h0M167.1 883.6h0M193.3 749.6h0M217.1 768h0M229.7 838.2h0M219.4 886.2h0M179.2 785.8h0M190.6 896h0M154.4 878.8h0M124.3 859.7h0M102.6 829.4h0M122.5 849.2h0M222.6 812.3h0M195.7 780.8h0M226.1 860.5h0M198 886.7h0M191.4 774.7h0M138.6 868.4h0M112 855.1h0M218 873.5h0M239.5 866.2h0M199.3 785.3h0M209.8 864.7h0M213.8 803.1h0M174.7 888.4h0M163.6 885.6h0M226.6 800.8h0M245.6 838.3h0M249.1 866.7h0M110.7 832.8h0M119.5 830h0M229.2 823.2h0M188.4 876.6h0M118.6 811.8h0M212.5 802.8h0M235.2 833.7h0M230.2 852.1h0M193.5 761.2h0M146 899.8h0M140.8 878.3h0M163.2 772.5h0M230.9 823.4h0M141.4 815.7h0M233.3 811.8h0M190.4 801.1h0M102.4 797.3h0M137.1 855.8h0M141.6 861.5h0M121 794.7h0M251.9 831.6h0M207.3 803.4h0M220.3 784.7h0M235.7 795.1h0M159.5 757.2h0M117.3 799.9h0M126.3 878.9h0M148.4 914h0M207.3 852.6h0M226.7 851.1h0M153.9 889.7h0M218.8 892.5h0M158.1 879.4h0M150.1 893h0M123.6 830.7h0M205.7 878.1h0M182.6 772.7h0M212.2 878.3h0M233 866.8h0M204.1 783.3h0M131.6 872.8h0M167.6 897.2h0M194.7 786.5h0M169.3 788.8h0M91.9 832.5h0M132.6 797h0M181.9 894.9h0M245.6 861.8h0M213.2 793.3h0M224.8 801.6h0M182.9 896.2h0M167.1 773.5h0M222.6 872.6h0M131.4 790.1h0M218.8 819.5h0M184.6 874h0M233.5 844.7h0M211.9 894.1h0M224.4 882.4h0M245.1 822.8h0M136.5 863.6h0M204.1 790.7h0M212.7 872.1h0M155 766.7h0M119.5 835.9h0M157.5 769.7h0M233 851.3h0M139.2 897.9h0M112.9 853h0M190.6 769.6h0M190.4 906.2h0M240.1 809.9h0M235.5 803.2h0M126 858.4h0M238.3 860.1h0M227 822.7h0M171 786h0M222.4 833.2h0M141.7 877.2h0M250.6 861.5h0M99.4 822.1h0M167 785.2h0M112.1 861.7h0M219.9 815.6h0M236.2 821.4h0M149.3 876.4h0M226.2 835.1h0M113.2 772.7h0M224.3 809.9h0M160.5 885h0M119.5 778.7h0M162.2 778h0M138.4 877.2h0M215.4 888h0M120.5 863.9h0M174.4 770h0M143.6 857.6h0M193.1 890.7h0M144.5 800.7h0M107.3 837.6h0M200.8 886.7h0M152 805.1h0M143 797.2h0M226.8 771.5h0M223.8 790.3h0M134.5 870.5h0M242.5 814.8h0M193.7 791h0M234.2 860.8h0M107.4 846.5h0M178 774.7h0M132.8 841.6h0M147.9 776.9h0M181.9 783.8h0M156.8 871.4h0M230.2 823.8h0M140.6 872.6h0M120.6 826.6h0M197.1 789.7h0M140.7 883h0M164.7 867h0M139.9 868.5h0M230.8 825.6h0M180 902.4h0M216.7 801.6h0M119.2 885.9h0M244.3 827.4h0M209.5 874.4h0M186 888.2h0M121 827.1h0M190.5 895.4h0M226 770h0M136 797h0M130.3 855.7h0M210.7 862h0M220 815h0M202.9 760.7h0M187.2 772.2h0M221.4 798.3h0M256.3 824.7h0M130.7 805.8h0M236.1 826.7h0M135.2 802.8h0M178.8 764.8h0M169.3 768.9h0M108.7 830h0M142.2 769.3h0M247.4 847.1h0M220.6 877.1h0M238.3 842.2h0M240.7 830.7h0M222.2 882.4h0M212.5 819.2h0M136.3 845.3h0M156 780.3h0M237.6 823.9h0M174.3 782.6h0M116.5 831.9h0M128.2 834.7h0M120.2 816.8h0M117.3 861.4h0M202.7 884.4h0M184.6 892.3h0M150.5 888.4h0M130.5 769.1h0M142.8 884h0M191.9 902.4h0M114.1 862.6h0M139.1 803.1h0M127.1 876.3h0M143.8 877.6h0M215.8 795.6h0M227.6 852.2h0M192.8 902.5h0M164.2 767.1h0M202 906.1h0M152.3 763.2h0M131.9 894.2h0M164.9 769.9h0M158.5 765.8h0M197.5 859.7h0M243.9 877.5h0M118.3 793.3h0M179.9 766.8h0M104.8 872.5h0M199 787h0M220.1 799.6h0M191.8 895.1h0M229.3 856.8h0M219.4 778h0M194 767.6h0M106.1 813.2h0M219.2 865.6h0M240.2 859.5h0M207.8 777.4h0M107.5 815.4h0M122.6 866h0M134.8 827.4h0M106.6 862h0M193.5 796.6h0M172.9 886.7h0M150.8 884.5h0M112.9 823.2h0M112.5 827.5h0M127.5 877.3h0M205.9 884.6h0M211.9 865.5h0M208 881.8h0M153.8 763.3h0M183.2 781.9h0M155.1 891.1h0M119.1 885.1h0M110.1 844.2h0M120.9 869.1h0M131.3 836.5h0M171 775.6h0M218.5 806h0M188.2 778.8h0M228.7 868.3h0M119.9 778.5h0M177.9 794h0M113.7 824.5h0M116.3 875.6h0M116.3 790.6h0M132.5 784.7h0M158.3 885.2h0M225.5 860.8h0M203.7 856.9h0M191.6 780.2h0M185 783.9h0M231.4 849.7h0M146.6 784.8h0M107.3 814.2h0M249.2 845.5h0M177.9 884.5h0M126.5 817.2h0M132.6 869h0M238.5 836.1h0M158.7 763.7h0M231.5 798.9h0M200.3 887.5h0M146.1 891.8h0M128.7 856.7h0M239.5 841.2h0M247.4 799.2h0M181.6 781.9h0M128.3 821.5h0M165.7 870h0M225.6 904h0M143.2 787.5h0M233.4 874.6h0M145 881.7h0M222 795.7h0M226.1 806.2h0M145 797.5h0M118.3 852.9h0M227.9 859.5h0M233.1 836.3h0M159.5 891.6h0M216.7 802.7h0M223.7 819.6h0M143.7 795.5h0M196.1 870.1h0M216.5 880.5h0M127.8 837h0M197.4 776.3h0M147.6 785.4h0M151.4 902.4h0M136.3 808.4h0M231.5 848.6h0M149 768h0M170.2 885.3h0M129.8 803.4h0M204.4 894.2h0M197.6 882.7h0M102.6 849.5h0M178.2 773.1h0M214.8 780.6h0M127.4 854.6h0M217.4 807.4h0M210.8 791.4h0M117 868.2h0M167.6 899.3h0M100.5 792.6h0M98.9 789.3h0M127.3 855.9h0M205.6 780.2h0M221.9 802.5h0M110.7 828.8h0M179.1 895.8h0M171.9 892.1h0M193.7 797.5h0M162 886.2h0M123.3 814h0M148.1 879.8h0M140.3 776.8h0M208.7 813.7h0M212.4 848h0M227.6 798.1h0M128.9 880.8h0M139.7 864.9h0M182.3 919.3h0M176.5 769.6h0M189.3 898h0M213.6 890h0M127.6 877.9h0M219.4 827.2h0M252.9 858.5h0M182.2 897.6h0M147.1 868.4h0M184.8 774.3h0M217.1 883.4h0M101.3 860.6h0M128.1 807.1h0M207.1 867.2h0M235 847.5h0M180.5 775.7h0M199.6 889.7h0M238.5 838.8h0M227.4 877.5h0M198.6 760.5h0M184.2 758.1h0M208.1 879h0M186.9 762.9h0M168.6 881.9h0M128.4 855.4h0M181.7 773.6h0M215.6 893.2h0M130.5 826.9h0M124.4 841.2h0M121 845.1h0M217.2 846.7h0M141.8 769.9h0M175.7 893.7h0M116.7 809.9h0M175.2 784.7h0M216.6 798.8h0M165.6 893.9h0M187.7 785.2h0M184.3 765.8h0M119.4 858.6h0M241.5 814.3h0M117.8 871.9h0M217.6 847.1h0M181 898.1h0M116.3 795.2h0M113.4 806.8h0M242.2 797.7h0M181.6 774.6h0M177.6 784.8h0M199.5 877.1h0M224.4 806.8h0M100.7 815.7h0M152.1 761h0M167 765.8h0M128.8 766.9h0M229.2 857.7h0M196.8 856.5h0M243.8 834.1h0M222.9 892.7h0M222.3 825.7h0M157.5 791.6h0M138.4 833.1h0M149.6 785.8h0M173.7 894h0M121.3 825.5h0M184.7 901.2h0M134.9 844.4h0M123.9 815.5h0M151 899.2h0M188.4 779.5h0M108.1 800.8h0M123.9 793h0M169.8 887.9h0M180.2 797.5h0M133.8 785.6h0M209.9 861.1h0M187.5 900.1h0M234.4 829.5h0M185.7 906.3h0M131.8 856.8h0M133.3 766h0M154.9 884h0M114.7 842.9h0M194.3 899.5h0M226.3 819.1h0M233.1 848.4h0M196 882h0M190.8 890.9h0M166 758.9h0M174.7 892.7h0M142.3 765.8h0M101.7 848.9h0M244.6 828.3h0M120.1 851.6h0M241.1 858.6h0M132 864.1h0M177.9 888.5h0M237.3 836h0M220 850.2h0M114.2 810.1h0M234.6 810.1h0M143.2 865.5h0M136.2 863.9h0M151.6 768.7h0M204.2 875.5h0M194 895.8h0M190.9 748.8h0M145.2 858.9h0M143.3 883.7h0M244 837.5h0M151 794.6h0M140.1 800.8h0M117.3 816h0M241.3 843.4h0M193.3 889.2h0M145.9 787.5h0M120 859.9h0M200.9 893.1h0M193.8 771.7h0M133.6 789.3h0M225 859.8h0M183.8 781.4h0M110.7 874.1h0M132.9 787h0M223.1 800.2h0M129.9 790.7h0M222.1 779.5h0M194.6 765.2h0M246.9 821.9h0M156.8 886.2h0M240.4 842.3h0M194.7 769.3h0M208.8 882.5h0M176.1 760h0M165.4 899.2h0M223.2 798.6h0M167.3 879.7h0M210.9 890.2h0M118.2 846.2h0M123.6 866.7h0M201.4 885.4h0M204.7 787h0M226.2 862.9h0M254.1 858.7h0M215.2 806h0M223 767.7h0M175.2 895.1h0M227.5 828h0M219.3 782h0M211.1 824.2h0M191.3 769.6h0M238.2 836.4h0M142.1 905h0M188.4 882.8h0M219.4 801.9h0M232.2 828.8h0M117.3 812.5h0M123 858.6h0M213.9 855.2h0M127.4 846h0M253.2 803.8h0M183 770.4h0M125.3 838.9h0M120 835.6h0M109.4 777h0M192.9 895.8h0M118.1 810.1h0M187.2 887.6h0M241.3 874.9h0M166.3 875.3h0M225.5 813.1h0M176.1 904.8h0M215.3 804.8h0M204.6 888.9h0M129.3 856h0M173.1 910.9h0M140 872.5h0M101.2 838.3h0M209.8 895h0M160.8 894.7h0M165.3 900.8h0M106.5 862.7h0M178.7 784.7h0M100.3 853.3h0M226.4 849.4h0M202.5 871.4h0M114 778.3h0M129.2 884h0M148.4 788.4h0M134.5 806.7h0M229 808h0M127.3 783h0M189.9 763.1h0M117 844.6h0M144.6 908.7h0M114.5 871.4h0M233.5 863.8h0M211.4 802.8h0M235.6 834h0M149.5 895.1h0M129.3 884.1h0M127.3 846.2h0M231.6 807.7h0M147.9 901.3h0M224.3 836.9h0M122.5 836.6h0M222.1 802.3h0M176.1 892.3h0M133 858.8h0M224.5 797.8h0M212.3 803.3h0M159 778.3h0M209.4 879.1h0M197.2 795h0M164.6 910.2h0M164 771.7h0M141.3 883.3h0M215.8 852.2h0M195.5 879.2h0M228.7 842.2h0M141.6 888.7h0M166.1 890.1h0M150.7 780.6h0M163.3 761.6h0M121.7 822h0M133.3 838.7h0M223.1 819.2h0M195.1 899.2h0M124.1 841.1h0M204.5 796.4h0M128.2 846.9h0M199.8 799.4h0M143.5 786.6h0M217.6 782.8h0M139.1 814.3h0M114.5 836.5h0M129.2 862.6h0M216.6 834.2h0M142.3 872.5h0M135.3 821.2h0M126 811.3h0M114.2 836.5h0M166.1 746h0M115.9 847.2h0M134.1 859.4h0M211.5 793.2h0M214.4 836.4h0M155.9 775.6h0M122 810.4h0M133.3 765h0M125.8 873.9h0M217 872.9h0M170.9 784h0M165.3 771.5h0M230.8 849.9h0M170.5 870.3h0M122.7 851.3h0M129 863.1h0M150.9 802.2h0M184.9 885.4h0M184.1 761.4h0M105.7 868.5h0M119.2 847.2h0M231.4 869.4h0M180.6 890h0M144.9 908.9h0M153.2 787.2h0M125.4 866h0M228.6 886.7h0M236.8 844.9h0M135.5 887.4h0M148.4 884.1h0M116.4 853.7h0M187.7 780h0M204.2 867.9h0M228.8 873.1h0M221.2 790.4h0M224.1 819.3h0M137.1 820.9h0M152.2 867.4h0M115 822.5h0" stroke="#0000FF" stroke-width="5.6" stroke-linecap="round" fill="none"/>
<circle cx="286.1" cy="724.3" r="8.4" fill="none" stroke="#000" stroke-width="2"/>
<circle cx="286.1" cy="942.3" r="8.4" fill="none" stroke="#000" stroke-width="2"/>
<circle cx="175.1" cy="832.9" r="9.3" fill="none" stroke="#222" stroke-width="1.5"/>
<rect x="166.2" y="824.8" width="17.7" height="17.7" fill="#BF40BF"/>
<ellipse cx="175.1" cy="833.3" rx="59.9" ry="58.7" fill="none" stroke="#46D22C" stroke-width="1.8"/>
<ellipse cx="286.1" cy="833.3" rx="222.1" ry="218.4" fill="none" stroke="#000" stroke-width="2"/>
<rect x="64" y="614.9" width="444.1" height="436.8" fill="none" stroke="#262626" stroke-width="2"/>
<path d="M741.3 888h0M647.7 802.7h0M719.6 874.3h0M740.8 857.8h0M721.2 822.5h0M650.4 874.9h0M659.7 785.3h0M730.4 882.1h0M662.4 784.7h0M716.2 772.2h0M727 828.7h0M642.5 817h0M660.3 871.1h0M692.9 875.6h0M728.3 790h0M635.2 844.6h0M743.6 864.7h0M640.1 856.4h0M655.9 769.9h0M727.6 805.8h0M748.9 845.9h0M665.6 867.3h0M728.1 807.1h0M657.3 883.8h0M715 874.1h0M622.5 850.5h0M748.5 854.6h0M712.1 799.8h0M665.3 894.7h0M741.9 866.5h0M756.3 843.8h0M632.5 845.4h0M684.2 761.8h0M749.9 858.3h0M740.1 794.1h0M713.5 765.5h0M735.5 864h0M669.2 905h0M651.5 834.9h0M702.1 896h0M686.7 878.2h0M727.8 818.2h0M620.1 862.6h0M687.8 779.2h0M744.8 858.5h0M691.6 917.6h0M686.4 782.8h0M647.5 766.6h0M698.4 785.9h0M723 880h0M719 871.3h0M703 772.9h0M692.2 778.3h0M656.2 873.2h0M744.5 832.9h0M691.7 908.6h0M768.2 865.2h0M654.9 794h0M613.8 834.1h0M652.7 802.9h0M752.8 849.1h0M637.8 814.8h0M661.6 887.2h0M654.1 880h0M668.1 881.5h0M714.8 817.5h0M747.6 868.5h0M752.8 818.4h0M665.9 761.8h0M713.7 766.5h0M719.2 871.8h0M738.2 849.1h0M679 783.4h0M693 772.2h0M697.2 801.3h0M728.5 879.7h0M623.5 834.2h0M650.8 803.3h0M693.3 901h0M635.5 900.3h0M673.2 894.3h0M632.8 866.5h0M660.9 779.6h0M687.2 871.7h0M748.9 874.6h0M632.2 815.2h0M726.2 887.9h0M702.1 772.7h0M737.3 799h0M672.1 886.6h0M655.2 886.5h0M735.8 787.4h0M686.7 763.8h0M699 785.9h0M642.6 812.9h0M641.5 816.2h0M676 788.1h0M630.4 834.7h0M734.2 869.9h0M632.9 892.1h0M642 789.5h0M653.7 850.3h0M735 887.3h0M636.4 865h0M630 833.5h0M626.8 828.6h0M755 838.1h0M622.9 850.4h0M731.1 845.3h0M611 815.3h0M644.3 858.4h0M677.4 782.5h0M675 890.8h0M729.6 788.4h0M643.9 852.4h0M686 795.1h0M749.3 866.3h0M651.6 877.2h0M738.2 857h0M700.4 892.1h0M685.5 781h0M753.3 845.2h0M651.9 844.8h0M731 797.4h0M630 872.5h0M654.1 872.7h0M626.5 801.3h0M651.9 772h0M747.3 799h0M739.7 879.3h0M710.4 810.7h0M634.3 796.6h0M645.1 878.2h0M668.8 908.7h0M659.7 890.8h0M646.5 832.7h0M750.2 820.7h0M623.4 838.6h0M719.7 820.6h0M658.7 886.8h0M639.1 799.8h0M733.7 879.2h0M632.1 879.6h0M627.6 826h0M726.6 810h0M712.9 759.2h0M635.3 825.2h0M647.2 863.8h0M703.9 786.3h0M725.9 840.2h0M678.7 783h0M652.8 874.8h0M720.2 884.5h0M636.2 798.6h0M716.5 802.4h0M701.1 780.7h0M722.9 839.2h0M698.5 896.6h0M744.1 890.3h0M633.5 809.8h0M657.1 869.2h0M638.2 806.2h0M637.3 879h0M652.4 864.6h0M602 802.5h0M663.1 794.5h0M701.1 887.7h0M687.2 763.2h0M715.3 778.9h0M732.3 878.3h0M709.6 894.9h0M660.5 764.4h0M632.2 828.5h0M734.7 855h0M662.3 773.6h0M669.2 902.1h0M679.3 895.4h0M689.9 888.3h0M718.4 760h0M764.5 820.8h0M678.8 860.9h0M668.1 887.8h0M733.7 867.6h0M727 839.4h0M733 805.2h0M680.6 896.7h0M735.1 791.6h0M640.6 880.9h0M702.3 784.2h0M723.8 906.1h0M692.5 762.5h0M729.3 802.6h0M636.6 861.6h0M740 791.4h0M644.4 810.1h0M629.8 885.4h0M632.3 804.2h0M672.8 771.8h0M725 781.9h0M645.4 878.3h0M639.4 871.9h0M743.3 869.1h0M641.8 828.5h0M728.6 795h0M646.4 794.7h0M733.6 896h0M618.7 808.7h0M711 885.4h0M664.8 882h0M642.7 796h0M662.9 884.5h0M647.2 876.6h0M648.6 843.3h0M685.9 890.2h0M753.9 814h0M715.2 804.8h0M737.7 827.3h0M741 813.3h0M620.8 802.3h0M680.7 785.8h0M663.6 804.7h0M758.5 842.7h0M637.3 841.7h0M682.7 904.6h0M740.9 828.8h0M751.3 819.1h0M716.4 879.8h0M637.5 894.4h0M721.4 878.3h0M719.6 819.7h0M657.9 801.8h0M686.1 766h0M647.9 870.5h0M744 872h0M697.3 881.1h0M658.6 893.5h0M654.1 894.2h0M718.8 780.1h0M757.2 835.6h0M728.3 789h0M683.2 791.9h0M699.5 884.8h0M691.6 889.9h0M662.9 776.9h0M689.9 904.9h0M749.1 851h0M742.4 826.9h0M636.1 803.3h0M723.1 809.2h0M756 825h0M722.1 884.7h0M651.7 808.4h0M659.2 778.3h0M658 796.3h0M656.2 773.5h0M617.7 828.1h0M725 876.9h0M636 855.7h0M671 871h0M677.5 786.9h0M724.3 826.7h0M741.7 872.6h0M758 813.1h0M675.2 868.4h0M639.7 849.9h0M617.8 847.7h0M680.8 890.4h0M678.1 877.6h0M661.9 871.1h0M722.6 885.9h0M753.5 801.2h0M717 791h0M719.9 807.2h0M719.1 897.8h0M760.8 828.5h0M689.8 778.1h0M742 829h0M735.3 892.6h0M649.3 863.8h0M623.2 832.9h0M748.6 840.3h0M658.3 812.2h0M745.1 811.6h0M684.9 792.9h0M729.2 855.9h0M691.8 788.7h0M708.8 755.7h0M763.5 836.6h0M648.3 848.5h0M685.9 878.4h0M664.7 868.8h0M721.5 890.2h0M635.6 790.9h0M724.8 864.9h0M701.4 865.6h0M708 864.4h0M697.7 866.9h0M626.4 841.4h0M656 871.2h0M738.2 866.6h0M720.5 891.3h0M717.9 802.9h0M707.1 893.1h0M761 865.9h0M659.1 867.8h0M739.8 862.8h0M658.6 762h0M627.1 826.8h0M745.6 882.1h0M652.5 817.4h0M761.1 824.2h0M637.9 802.1h0M671 780.7h0M625.6 785.8h0M653.3 877h0M762.6 837.2h0M677.2 777h0M673.6 896.3h0M712.3 879.8h0M717.2 788.3h0M740.8 810.4h0M671.6 778.3h0M603.8 813.5h0M629 817.8h0M671.3 858.7h0M678.7 792h0M614 882.5h0M674.1 905.5h0M766.9 819.4h0M708.2 813h0M701 892.5h0M664.9 764.9h0M758.9 813.1h0M683 785.6h0M704.6 900.5h0M656.1 894.2h0M754.1 854.5h0M653.9 794.5h0M722.4 782.1h0M720.3 788.8h0M683.7 899.9h0M613 859.2h0M654.9 859.8h0M619.1 795.1h0M653.2 862.9h0M640 832.8h0M756.2 793.1h0M634 857h0M737.7 803.2h0M710.3 767.2h0M634.3 856.3h0M690.6 896.8h0M606.8 812.9h0M658 864.1h0M667.5 792.3h0M750.2 844.6h0M694.7 785.6h0M640.1 821.7h0M645 812.6h0M760.1 787.7h0M618 802.6h0M640.3 805.6h0M735.9 876.7h0M722.9 895.2h0M640.4 778h0M651.7 809.4h0M738.8 867.2h0M736.3 859h0M751.3 866.9h0M735.9 869.3h0M693.6 777.8h0M687 794.3h0M678.4 877.8h0M733.7 856.1h0M630.5 799.4h0M735.2 850.3h0M642 811.3h0M745.6 852.1h0M679.8 886.2h0M630 818.7h0M625.5 786.3h0M694.7 883.6h0M635.1 805h0M653.9 797.1h0M657.7 884.9h0M729.1 856.5h0M647.5 846h0M630.2 806.5h0M736.4 880.7h0M730.2 850.2h0M725.9 854.1h0M651.6 846h0M737.3 843.5h0M700.3 922.9h0M696.2 874.3h0M645 891.7h0M650.7 839.5h0M629.7 791.3h0M683.5 880.5h0M687.4 906.9h0M647.6 800.2h0M656.6 913.2h0M631.2 793.2h0M622.8 826.2h0M644.9 790.3h0M663.8 865.4h0M734 862.2h0M627.2 859.4h0M653.1 861.6h0M636.9 811.7h0M719.3 798.6h0M643.7 879.3h0M604.3 818.5h0M742.4 848.3h0M635.2 868.9h0M682.6 782.4h0M749.5 837.7h0M652.8 857.3h0M641 781.5h0M666.6 893.7h0M598.2 821.4h0M632.9 877.8h0M630.9 841.5h0M618.1 823.8h0M730.4 787.1h0M736.7 798.2h0M658.2 767.6h0M710.1 862.1h0M665.4 806.7h0M663.9 885.9h0M703.1 903.9h0M750.5 831.7h0M654.2 902.1h0M748.9 821.2h0M727.1 876.2h0M689.3 904.8h0M710.9 772.2h0M693.3 772.2h0M662.5 915h0M659.8 887.4h0M724.3 889.1h0M751.9 842.8h0M707.6 867.1h0M718.2 863.6h0M683.9 875.8h0M709.6 779.8h0M685.4 767.7h0M615.4 812.7h0M702.2 861.3h0M643.1 862.8h0M767.2 869.1h0M762 886.6h0M681.7 764.6h0M651.9 751.6h0M650 867.7h0M648.7 831h0M671 779.5h0M713.1 775.2h0M613.9 838.9h0M626.4 802.5h0M681 770.8h0M744.1 813h0M663.1 848h0M717.8 781.7h0M705.2 868.9h0M684.8 786.6h0M684.9 883.1h0M727.3 775.6h0M624.4 812.5h0M701.3 891.2h0M718.6 807h0M665.8 778.7h0M622.4 795.4h0M625 806.7h0M621.7 839.4h0M637.7 847.1h0M680.2 785.9h0M696.7 770.4h0M754.5 870.1h0M664 883.1h0M657.6 890.3h0M698.1 758h0M671.2 788.4h0M721.2 788.9h0M672.4 798.7h0M689.4 787.4h0M686.9 800.1h0M729.4 872.4h0M692.6 760.9h0M741.5 795.3h0M719.4 780.8h0M749.3 856.5h0M649.5 826.4h0M693.7 878h0M752.5 829.1h0M662.7 851.3h0M739 831.8h0M670.8 786.5h0M643.7 865.9h0M643.5 843.4h0M643 870.3h0M631.5 767.3h0M633.7 811h0M740.8 820.5h0M751.7 851.7h0M682.7 896.1h0M663.8 855.4h0M635.2 903h0M674.6 888.7h0M697.9 873.8h0M700.9 765h0M621.3 829h0M680.9 922h0M653.3 814.7h0M676.9 908.9h0M683.5 904.7h0M700.8 792.4h0M643.4 897h0M722.3 792.9h0M682.7 791h0M702 769h0M656.2 855h0M746 845.3h0M650.2 790.6h0M623.8 825h0M748.9 844.3h0M748 855.7h0M666.1 853.5h0M738.9 855.4h0M740.7 812.1h0M685.5 894h0M741.2 833.5h0M623.6 783.9h0M647.5 799.5h0M641.6 791.8h0M650.7 777.1h0M701.4 893.9h0M692.5 878h0M679.4 885.7h0M706.8 774.2h0M718.2 794.2h0M630.6 866.9h0M610.5 804.9h0M746.4 812.7h0M696 772.9h0M703.8 870.7h0M688.6 889h0M734.4 807h0M622.1 838.2h0M738.6 826.5h0M711.7 882.6h0M676.4 885.3h0M695.2 763.1h0M717.7 868.3h0M666.9 877.5h0M694.4 790.8h0M646 781.9h0M722.7 801.8h0M675.4 775.3h0M746.5 795.4h0M711.8 867.3h0M646.6 878.3h0M709.2 774.7h0M666.1 784.6h0M733.9 888.8h0M651.8 783h0M640.7 786.5h0M765.5 831.5h0M734.4 779.6h0M684.9 764.4h0M734.1 857.5h0M745.2 803.9h0M669.8 886.3h0M648.5 787.7h0M708.8 771.3h0M686.9 779h0M670.1 785.2h0M654.7 799h0M675 776.7h0M747.8 836.1h0M657.8 802.8h0M652.6 821.2h0M672.8 891.2h0M692.9 893.8h0M673.5 872.9h0M728.6 797.9h0M729 871.8h0M749.2 878.7h0M738.1 770h0M639 833.3h0M670.8 914.5h0M752.2 824.1h0M621.7 814.9h0M763.5 863.9h0M712.4 867.9h0M688.1 780.3h0M637.2 797.5h0M693.4 780h0M668.9 782.9h0M657.8 817.3h0M708.7 799.6h0M695.4 784h0M647 847.5h0M659.3 879.5h0M604.4 863.8h0M673 786.6h0M652.1 857.2h0M743.6 831.5h0M655.6 852.1h0M689 875.5h0M690.5 770.7h0M672.5 894.7h0M749.6 799.6h0M742.2 800.6h0M686 779.4h0M746.7 865.1h0M691.2 879.6h0M752.3 806.3h0M670 811.9h0M648.8 758.6h0M725.5 868.2h0M624.6 830.8h0M670.5 888.6h0M651.9 889.9h0M725.8 816.2h0M640.7 871.2h0M688.1 898h0M750.4 812.2h0M713.5 865.3h0M726.4 899.5h0M631.9 839.6h0M633.3 885.9h0M646.1 878.4h0M670.7 789h0M734.2 846.6h0M740 857h0M660.1 824.1h0M711.9 891.1h0M725 871.8h0M651.1 778.4h0M648.5 808.8h0M726.7 871.2h0M655.1 851.1h0M735.3 836.6h0M647.8 794.6h0M645.9 863.5h0M663.7 871.2h0M718.7 870.7h0M697.9 776.7h0M650.3 840.3h0M743.5 890.2h0M706 886.1h0M669.1 846.3h0M641.8 777.5h0M722.2 839.4h0M744.5 813.8h0M723.7 772.9h0M659.9 777.4h0M680.8 761.5h0M732.5 890.5h0M638.7 853.1h0M691.7 787h0M744.9 829.4h0M660.1 800.6h0M733.9 871.7h0M680.1 880.2h0M698 900.6h0M638.3 857.9h0M733.2 802h0M695.5 782.5h0M683.3 765.6h0M740.9 820.4h0M737.8 796.4h0M650.5 895.9h0M634.2 873.2h0M705.4 788.8h0M695.7 895.1h0M754 866.4h0M743.7 848.1h0M709 861.3h0M732.3 809h0M723.4 797.8h0M675 776.9h0M607.2 862.4h0M649.8 886.4h0M645.5 806.5h0M760.5 831.4h0M687 875.3h0M703.9 884.1h0M689.1 898.5h0M729.8 869.1h0M666.9 909.6h0M612.7 841.2h0M654 845.5h0M631.8 808.7h0M732.8 835.9h0M651.6 810.9h0M688.5 876h0M671.1 880h0M648.8 797h0M681.5 908.2h0M625.1 817.8h0M747.9 853.5h0M748.3 844.3h0M711.4 871.9h0M697.1 782h0M627.8 799.7h0M672.1 769.3h0M652.3 780.9h0M651.1 842h0M700.7 896.1h0M708.9 806.5h0M708.6 871.1h0M676.4 898.1h0M636.4 842.4h0M617.1 846.9h0M720.4 815.1h0M703.9 769.1h0M746.3 884.1h0M764.2 860.5h0M644.9 791.8h0M753.3 784.5h0M655.8 801h0M718.9 790.9h0M755.3 836.7h0M664.9 794.4h0M734 877.9h0M641.5 785.5h0M645.2 763.1h0M653.5 781.3h0M644.8 847.4h0M683.7 772.5h0M674.8 758.9h0M725.5 808.6h0M754.4 855.3h0M645.2 878h0M616.3 843.3h0M707.9 770.4h0M709.1 898.5h0M759.9 818.9h0M751.3 872.2h0M654.7 802.7h0M710.3 896.6h0M708 776.1h0M635.9 872.1h0M712.7 756.7h0M645.2 875.5h0M713.7 800.6h0M665.5 869h0M634.5 879.9h0M703 783.4h0M715.7 779.8h0M631.6 805.8h0M672.7 772.9h0M634.9 811.2h0M624.3 881.9h0M642.4 783.2h0M688.3 885.4h0M663.9 793.1h0M653.1 868.3h0M619.8 807.6h0M752 796.7h0M674.8 901h0M736.6 869.7h0M757.2 824.5h0M634.4 806h0M668.3 870.8h0M719.1 889.2h0M736.2 810.2h0M638 818.2h0M661 801.6h0M634.7 850h0M725.3 860.1h0M668.9 794h0M680.2 884.6h0M718.3 867h0M715.9 774.8h0M732.7 805.7h0M713.7 778.5h0M766.8 843.1h0M742.7 800.1h0M644.1 864.3h0M740.4 875.6h0M653.8 786.9h0M746.8 833.6h0M715.9 778.2h0M740.2 858.6h0M735.7 858.1h0M711.1 784h0M635.8 869.1h0M647.3 864.4h0M613.9 816.4h0M706.5 772.2h0M649.9 885.7h0M671.6 772.2h0M770.1 817.4h0M649.7 895h0M720.1 847.4h0M670.6 907h0M724.6 830.6h0M703.9 872.5h0M644.5 853.4h0M631.2 844.9h0M733.5 804.9h0M664.1 772h0M723.6 901.2h0M638.2 850.2h0M767.5 845.2h0M740.3 866.1h0M645.4 881.8h0M757.9 817.7h0M635.1 870.2h0M674.1 778.5h0M682.7 802.6h0M724.7 900.3h0M731.2 808.9h0M710.8 765.4h0M708.3 769h0M637.5 812.1h0M640.7 780.4h0M737.7 852.6h0M706.2 795.7h0M661.9 891.9h0M727.1 873.3h0M687.2 877.8h0M686.9 789h0M656.6 854.5h0M759.5 864.3h0M732.1 881.9h0M674.3 753.9h0M648.1 831.5h0M640.3 814h0M632.2 849.2h0M747.7 838.9h0M704.4 798.9h0M707.2 781h0M657.5 793h0M683.8 793.1h0M662.9 872.4h0M695.9 795.8h0M732.1 863h0M744.9 838.9h0M731.7 808h0M691 772h0M678.5 912.4h0M733.9 794.7h0M624.1 860.8h0M656.4 817.8h0M677.4 769.2h0M711 762.8h0M716.4 807.9h0M767 852.1h0M653.7 852.2h0M708.1 904.9h0M710.2 784.9h0M742.4 803.2h0M674.6 749.5h0M615.4 826.4h0M741.3 795.2h0M642.9 843.1h0M645.5 846.5h0M676.6 881.6h0M728.5 872.9h0M738.4 801.4h0M747.2 815.2h0M734 837h0M644.1 825h0M744.9 786h0M725.7 785.5h0M684 789h0M671.4 892.4h0M677.8 905.3h0M635.6 795.6h0M708.8 871.8h0M637.5 822.8h0M679.7 796.8h0M665.6 787.8h0M703.8 793.4h0M657.7 819.5h0M639.6 858h0M706.1 878h0M704.6 799.8h0M635 858.9h0M716.4 896.2h0M648 856.9h0M635.9 784.4h0M717 798.9h0M758.2 840.5h0M707.8 850.8h0M731.3 883h0M661.7 889.1h0M691.8 767.2h0M718.4 888.1h0M749.6 810.9h0M676.9 884.4h0M723.9 849.2h0M635.3 786.6h0M707.3 788.8h0M618 799.8h0M701.7 789.4h0M692.5 774.8h0M696.3 789.4h0M632.7 801.9h0M658.1 852.5h0M717.6 882.4h0M640.4 814.7h0M639 864.1h0M663.7 861h0M703.4 773.7h0M636.5 811.7h0M774.3 813.4h0M640.8 809.9h0M703.1 870.1h0M703.9 893.4h0M711.3 901.1h0M722.7 768h0M690.1 857.7h0M743.1 849.4h0M639.7 808.2h0M743.2 795.8h0M690.4 800.9h0M634.8 886.1h0M653.5 801.9h0M688.4 873.3h0M663.4 781.2h0M743.3 861.4h0M673.1 795.7h0M690.4 761.9h0M675.3 894.8h0M646 800.1h0M636.6 799.3h0M752 820.5h0M707.8 898.6h0M703 895.2h0M634.8 806.3h0M671.2 761h0M643.8 785h0M668.4 901.8h0M648.3 863.2h0M726.6 875.7h0M752.2 841.6h0M665.2 790.2h0M695.9 769.7h0M686.6 925.2h0M643.3 799.7h0M758.3 804.1h0M723.5 826.7h0M650.9 788.8h0M717.2 852.3h0M702 887.7h0M636.4 846.2h0M761.5 838.7h0M642.1 779h0M649.8 868.6h0M740 840.9h0M696 757.8h0M725.4 830.4h0M689.5 753.2h0M661.7 763h0M724.9 866.2h0M707.7 818.8h0M726.8 887.6h0M711.5 855.3h0M651 881.2h0M601 860.1h0M665.8 864.2h0M631.8 852.6h0M673.2 799.4h0M637.7 821.5h0M695.9 777.5h0M679.7 761.5h0M740.9 788.6h0M686.2 787.9h0M668.8 771.1h0M748.8 821.2h0M713.3 882.5h0M643.5 810.9h0M674.1 895.6h0M655.7 902.6h0M728.2 866.4h0M677.8 798h0M699.4 927.7h0M651.8 779h0M697.7 763.7h0M751.4 860.6h0M636 823.4h0M703.6 776.4h0M750.6 894.1h0M691.4 795.8h0M659.2 884.5h0M756.7 845.7h0M645.2 788.3h0M737 846.4h0M624.5 827.2h0M745.1 838.8h0M695.8 787.1h0M679.2 786.7h0M683.6 888.4h0M710.5 896.3h0M610.5 834h0M665.9 881.8h0M696.1 873.5h0M754.8 842.1h0M730.3 850h0M688.1 752.2h0M696.9 796.1h0M712.3 888.1h0M747.4 822.9h0M628.5 848.1h0M661.7 766.6h0M668.8 893.1h0M661.7 876.3h0M708.1 877.9h0M725.4 800.8h0M725.9 870.3h0M652.2 880.8h0M626.2 883.5h0M685.4 789.1h0M747.6 829.2h0M629.7 802h0M645.6 852.2h0M692 895.8h0M718.4 866h0M640.8 853.3h0M696.5 894h0M642.2 823.8h0M655.8 802.4h0M658 887.4h0M724.8 880.5h0M631.3 821.5h0M707.2 865.4h0M669.7 792.5h0M732.1 885.6h0M686.7 927.2h0M693.9 881.6h0M637.6 777.5h0M655 853.6h0M643.7 842.4h0M729.3 890.1h0M736.8 854.4h0M737 805.5h0M712.7 872.5h0M717.1 867.1h0M636.3 894.8h0M651 892.1h0M663.4 781.6h0M650 826.7h0M712.3 876.1h0M692.8 795.2h0M628.1 803.1h0" stroke="#FF0000" stroke-width="5.6" stroke-linecap="round" fill="none"/>
<circle cx="800" cy="724.3" r="8.4" fill="none" stroke="#000" stroke-width="2"/>
<circle cx="800" cy="942.3" r="8.4" fill="none" stroke="#000" stroke-width="2"/>
<circle cx="689" cy="832.9" r="9.3" fill="none" stroke="#222" stroke-width="1.5"/>
<rect x="680.1" y="824.8" width="17.7" height="17.7" fill="#BF40BF"/>
<ellipse cx="689" cy="833.3" rx="59.9" ry="58.7" fill="none" stroke="#46D22C" stroke-width="1.8"/>
<ellipse cx="800" cy="833.3" rx="222.5" ry="218.4" fill="none" stroke="#000" stroke-width="2"/>
<rect x="577.5" y="614.9" width="445" height="436.8" fill="none" stroke="#262626" stroke-width="2"/>
<path d="M389.5 1435.5h0M428.2 1416h0M406.6 1398.3h0M377.3 1389.2h0M375.5 1429.5h0M396.2 1411.9h0M383.4 1385.1h0M371 1390.5h0M410.6 1409.5h0M387.4 1403.8h0M366 1436.1h0M370.7 1410h0M366.5 1393.1h0M400 1371.3h0M392.3 1408.4h0M401.2 1356.5h0M411.7 1444.2h0M407.1 1393.1h0M384 1350.8h0M407.9 1442.1h0M388.1 1406.8h0M386.8 1431.8h0M359.1 1393.3h0M410.6 1430.9h0M401.2 1432.3h0M408.9 1385.7h0M425.9 1397.9h0M361.6 1418.7h0M437.4 1430.2h0M419.4 1413.2h0M343.2 1424h0M400.9 1350.9h0M383.1 1389.7h0M420.8 1411.8h0M404 1414.4h0M368.2 1365.8h0M398.7 1402.6h0M397.1 1405.4h0M386.5 1421.3h0M401.7 1395.3h0M365.8 1405.7h0M417.5 1399.8h0M412.3 1434.6h0M449.8 1415.4h0M430.3 1414.2h0M370.2 1359.1h0M404 1428.6h0M451.8 1394.3h0M408.2 1406.5h0M345.3 1417.3h0M390.4 1381h0M434.6 1395.5h0M407.8 1403.2h0M381.7 1405.4h0M414.9 1393.9h0M361.1 1448.6h0M407.1 1388h0M395.4 1374.6h0M396 1428h0M355 1428.1h0M415.2 1403.1h0M399.7 1401.7h0M387.6 1368.1h0M433.3 1394.3h0M400.4 1404h0M407.5 1421.5h0M375 1417h0M391.5 1389.6h0M426 1435h0M377.6 1402.4h0M375.2 1384h0M375.8 1421.3h0M366.3 1376.9h0M403.8 1393.2h0M424.5 1387.9h0M386.8 1392h0M346.5 1416.7h0M412.7 1430.1h0M393.3 1423.7h0M394.1 1407h0M379.8 1405.6h0M376.7 1422.2h0M382.6 1386h0M395.1 1407.8h0M360.3 1385.5h0M384.6 1417.4h0M408.9 1426.3h0M391.6 1390.6h0M365.8 1411.2h0M388.2 1418.2h0M419.3 1452.6h0M378 1421.2h0M360.9 1431.8h0M370.6 1406h0M373.2 1443.2h0M409.5 1428.7h0M394.3 1417.4h0M373.1 1398.4h0M427.5 1368.2h0M398.9 1435.7h0M421.2 1423.7h0M397.8 1438.8h0M391.1 1408.1h0M360.4 1415.9h0M390.5 1409h0M347.6 1382.9h0M394.1 1382.3h0M411.5 1454.6h0M396.5 1418.4h0M387.3 1398.3h0M364.8 1419.9h0M367.2 1396.4h0M383.1 1380.4h0M379.8 1404.1h0M418.1 1406.2h0M423.1 1413.6h0M397.6 1416.7h0M388.2 1426h0M397.4 1408.5h0M433.6 1387.6h0M373.2 1404.5h0M400.9 1399.2h0M414.1 1413.6h0M402.5 1378.3h0M431.4 1408.4h0M375.8 1436.3h0M394.9 1391.2h0M371.4 1406.9h0M381.7 1385.8h0M393.6 1402.1h0M383.7 1427.6h0M427.9 1438.5h0M387.7 1396.1h0M361.6 1401.6h0M374.9 1411.2h0M389.8 1421.1h0M394.7 1417.3h0M409 1354.7h0M373.8 1412.8h0M395.9 1411.7h0M385.1 1423h0M385.9 1401.8h0M381.9 1422.4h0M413.4 1406.4h0M403.8 1362.5h0M416.7 1364.2h0M382.8 1354.5h0M382.7 1393.1h0M439.6 1382h0M337 1409.7h0M388.3 1432.3h0M412.9 1369.3h0M387.6 1399.9h0M397.5 1399.8h0M392.8 1412.9h0M355.7 1385.8h0M425.9 1434.8h0M401.1 1420.7h0M419.3 1440.5h0M395.7 1394.9h0M423.9 1403h0M378.4 1422.1h0M393.7 1407.4h0M395.6 1426.1h0M400.6 1411.8h0M366.6 1378h0M372.5 1394.9h0M422.9 1396.6h0M388 1454.1h0M406.2 1401.3h0M413.2 1412.5h0M432.3 1426.6h0M381.3 1438.3h0M375.1 1456.6h0M413.2 1368.8h0M451.8 1398.2h0M383.8 1411.1h0M397.4 1416.2h0M415.7 1374.9h0M402.9 1428.6h0M405.4 1432.6h0M416.8 1432.4h0M413.1 1410.4h0M406.8 1404.2h0M412.1 1381.3h0M367.5 1431.1h0M364.5 1418.2h0M414 1358.8h0M401.5 1444.8h0M384.1 1443.5h0M371.2 1357.8h0M374.7 1388h0M414.5 1400h0M378.9 1389.7h0M423.2 1363.2h0M362.7 1392.6h0M392.7 1421.1h0M419.7 1389.8h0M405.4 1382h0M454.4 1406.5h0M362.8 1430.6h0M398.8 1434.2h0M415.8 1368.3h0M411.9 1398.7h0M384.7 1407.9h0M392.8 1412.4h0M419.8 1409.5h0M403.9 1442.2h0M393.4 1419.2h0M400.8 1436.7h0M378.5 1416.3h0M422.3 1417.3h0M413.2 1409.2h0M412 1408.9h0M419.4 1410.7h0M390.3 1413.3h0M391.1 1470.8h0M414.3 1415.8h0M395 1430.6h0M389.7 1403.1h0M387.6 1403.4h0M392.8 1388.4h0M406.2 1386.2h0M410.4 1435.9h0M384.5 1398.6h0M421.3 1397.1h0M400.9 1408.7h0M394.6 1392.9h0M413 1412.2h0M390.2 1403.7h0M373.7 1422.9h0M409.3 1444.2h0M382.1 1449.5h0M401 1439.3h0M362 1415.7h0M411.6 1375.6h0M408.3 1431.6h0M379 1431.1h0M407.5 1431.8h0M390.3 1384.9h0M386.4 1413.4h0M350.2 1418.1h0M397.7 1406.3h0M390.2 1397.4h0M404.6 1388.5h0M379.2 1426.9h0M410.8 1402.1h0M382.9 1368.5h0M406.5 1397.1h0M432.9 1393.7h0M397.2 1393.9h0M403.6 1468.2h0M390 1388.8h0M405.9 1415.2h0M359.8 1430.2h0M374.4 1429.8h0M399.9 1397.5h0M405.1 1395.1h0M367.4 1395.7h0M395 1381.5h0M397.2 1383.8h0M409.7 1407.2h0M388.7 1355.3h0M402.4 1361.5h0M381.4 1375.3h0M428.5 1404.9h0M399.9 1420.1h0M386.3 1421.9h0M365.6 1427.1h0M408.7 1408.7h0M352.9 1367.1h0M369.9 1396.4h0M409 1401.6h0M389.6 1405.3h0M380.6 1390.5h0M388.6 1425.6h0M397.7 1414.5h0M426.1 1372.3h0M374.3 1418.7h0M402.8 1396h0M361.9 1407.5h0M398.1 1428.3h0M380.7 1411.7h0M365.2 1366.8h0M437.3 1398.4h0M416.2 1421.7h0M399.2 1435.6h0M437.9 1400.2h0M399.5 1381.8h0M402.6 1420.3h0M386.8 1401.3h0M383.3 1404.5h0M421.2 1404.7h0M393.9 1388.6h0M408 1415.7h0M388.8 1443.6h0M367.5 1434.9h0M407.6 1383.2h0M409.6 1444h0M422.1 1420.1h0M426.4 1384.8h0M401.9 1382.5h0M392.1 1409.9h0M398 1411.7h0M390.9 1412.3h0M408.1 1439.4h0M400.4 1442.1h0M380.3 1426.4h0M410.7 1415.9h0M445.7 1407.3h0M408.3 1389.4h0M381.6 1402.8h0M431.7 1418.1h0M386 1419.5h0M436.5 1400.9h0M404.5 1400.2h0M393 1430.6h0M379.5 1415.1h0M404.5 1403.9h0M382.3 1422.1h0M382.9 1385.3h0M431.5 1410h0M365.5 1395.4h0M387.2 1407.7h0M387.9 1426.7h0M409.4 1450.8h0M348.8 1400.3h0M391.4 1354.7h0M382.1 1447.3h0M385.3 1417.1h0M399.2 1366h0M376.4 1423.5h0M422.1 1445.7h0M378.6 1419.2h0M378.9 1401.3h0M351.5 1415.6h0M436.8 1417h0M401.4 1419.5h0M408.8 1379.9h0M416.9 1397.9h0M440.1 1428.3h0M400 1412.2h0M341.7 1410.6h0M399.2 1408.5h0M381.4 1423.4h0M406.6 1401h0M398.3 1373.3h0M417.4 1401.1h0M354.8 1415h0M400.3 1441.6h0M397.1 1379.1h0M370.2 1436h0M395.4 1392h0M410.8 1446.3h0M417.8 1406.9h0M414 1389.7h0M380.1 1411.7h0M377.7 1455.2h0M421.3 1362.3h0M389.4 1379.1h0M413.2 1399.8h0M413.8 1433.6h0M389.9 1410.1h0M423.6 1425.7h0M431 1424.2h0M378.5 1443.7h0M372.1 1389.7h0M354.6 1383.4h0M417.4 1402.7h0M410.1 1380.8h0M404.5 1435.4h0M424.5 1407.6h0M419.1 1455.6h0M388 1426h0M406.5 1410h0M385.5 1401.6h0M402.8 1429.7h0M398.2 1417.4h0M406.3 1423.2h0M354.1 1396h0M389.8 1406.2h0M413.4 1430h0M415.5 1420.2h0M387.1 1386.3h0M383.8 1445.1h0M391.8 1402.3h0M430.8 1416h0M379.4 1409.8h0M375.5 1372.4h0M414.3 1454.5h0M426.6 1384.9h0M372 1436.3h0M411.7 1427h0M419 1403.7h0M444.3 1396.1h0M438.5 1418.3h0M389.2 1416.9h0M361 1381.5h0M406.6 1392.7h0M411.1 1441.7h0M412.9 1399.7h0M411.5 1406h0M389.2 1405.3h0M387 1375.9h0M395.9 1353.8h0M416.4 1393.3h0M389.4 1415.1h0M425.2 1389.1h0M376.4 1411.2h0M376.4 1419.6h0M371.6 1406.1h0M388.8 1392.9h0M375.7 1386.2h0M395.8 1396.2h0M419.2 1366.4h0M408.2 1417.8h0M426 1404.1h0M418.2 1407.9h0M392 1438.2h0M408.7 1398.7h0M368.4 1428.8h0M416 1373.1h0M394.9 1443.5h0M393.9 1449.8h0M408.8 1384.4h0M382.4 1431.7h0M407.3 1442.5h0M384.7 1404.8h0M437.9 1413.5h0M361.1 1410.4h0M400.1 1419.4h0M424.9 1393.3h0M412.9 1358.1h0M416 1399h0M364.4 1404.7h0M406.8 1362.3h0M419 1451.5h0M403.1 1438.6h0M388.6 1384.8h0M409.2 1465.4h0M403.7 1388.9h0M381.6 1413.9h0M394.4 1385.4h0M416 1396.9h0M413.6 1363.6h0M402 1385.2h0M396.8 1421.8h0M419.8 1409.7h0M394.9 1402h0M384.1 1435.1h0M374.1 1443.4h0M398.7 1382.6h0M462.4 1373.9h0M381.9 1462.6h0M368.8 1414.7h0M376.3 1452.7h0M410.6 1376.9h0M374.6 1456.6h0M400.5 1464.4h0M347.4 1450.5h0M362.7 1398.9h0M389.6 1396.5h0M350.3 1408.2h0M409.2 1431.6h0M445.8 1368.4h0M416.9 1386.8h0M412.2 1424.6h0M388.8 1418.2h0M395.3 1403.2h0M476.4 1373.9h0M376.2 1385.2h0M418.1 1403.2h0M402.8 1464.1h0M378.2 1383.9h0M354.6 1416.7h0M456.3 1365.7h0M347 1397.5h0M398.2 1388.1h0M370.7 1463.8h0M403.1 1435.5h0M349.6 1395.2h0M329.3 1421.7h0M384.7 1397.3h0M403.7 1340.3h0M333.9 1423.9h0M370.7 1441.6h0M380 1350.6h0M359.7 1374.3h0M394.2 1395.7h0M391.6 1364.2h0M380.1 1456.2h0M434.9 1371.2h0M383.9 1377.1h0M406.6 1397.9h0M362.8 1413.4h0M348 1400.3h0M421.8 1438.8h0M408.8 1385.4h0M435.4 1465.7h0M436.2 1425.6h0M384.6 1397.4h0M397.8 1380.2h0M369.3 1381.9h0M458.9 1382.7h0M392.8 1365.4h0M355.3 1451h0M385 1392.6h0M400.2 1450.2h0M432.8 1384h0M402.8 1427.7h0M418.7 1394.6h0M447.7 1393.5h0M397.5 1356.7h0M366.2 1454.2h0M369.9 1391.9h0M366.3 1482.1h0M402.8 1460.8h0M452.2 1402.5h0M373.9 1394.2h0M353.6 1429.9h0M437.9 1482.8h0M335.6 1385.6h0M399.7 1489.9h0M392.5 1426.6h0M379.4 1380.2h0M402.7 1409.9h0M448.1 1363.1h0M390 1400.7h0M399.9 1451.3h0M459.8 1396.2h0M365.9 1387.7h0M417.9 1361.7h0M431.7 1422.5h0M455.3 1404.9h0M356.7 1423.5h0M352.2 1353.7h0M447.5 1434h0M402.4 1418.4h0M363.7 1405.4h0M397.4 1340.2h0M372 1463.9h0M409.8 1395h0M372.4 1323h0M376.1 1414.2h0M416.7 1391.2h0M436 1353.9h0M431.5 1346.8h0M321.9 1416.1h0M442.9 1390.5h0M479.2 1412.9h0M374.3 1412.7h0M394.7 1438.6h0M323.7 1408.2h0M368.9 1389.7h0M408.2 1433.4h0M410.4 1370.3h0M415.6 1440.8h0M370.3 1407.1h0M378.9 1432.6h0M388.4 1374.4h0M339 1392.5h0M392.1 1345.4h0M434.8 1416h0M398.7 1391.3h0M376.5 1438.7h0M441.6 1402.8h0M393.6 1332.4h0M398.5 1455.8h0M424.5 1424.5h0M331.8 1427.9h0M330.2 1424.6h0M400.7 1459.6h0M381 1490.1h0M393.7 1409.2h0M404.4 1449.5h0M447.1 1427.3h0M394.5 1461.1h0M438.3 1403.3h0M404.2 1344.4h0M389.6 1458.9h0M365 1402.1h0M405.7 1410.6h0M384.1 1393.7h0M347.5 1425.3h0M388.7 1378.7h0M425.4 1450.5h0M414.7 1451.5h0M369.5 1362.4h0M440.3 1434.2h0M420.6 1421.8h0M386.8 1432.6h0M438.4 1430.1h0M397.1 1443.3h0M351.2 1444h0M422.4 1404.2h0M364.3 1430.9h0M337.1 1434.5h0M372.1 1387.7h0M394.8 1349.2h0M378.5 1387.8h0M407.6 1346.3h0M429 1450.6h0M460.3 1423.7h0M371.1 1373.4h0M352.6 1406.2h0M404.9 1368.6h0M368.6 1378.2h0M327.1 1443.4h0M384.5 1460.8h0M361.7 1436.7h0M386.8 1423.5h0M465.7 1418.9h0M444.9 1348.8h0M327.2 1428.4h0M398.6 1463.3h0M359.2 1456.8h0M365.6 1372.5h0M356.6 1373.4h0M411.6 1402.7h0M428.9 1472.5h0M358.2 1407.8h0M388.2 1365h0M442.3 1445.5h0M428.5 1371h0M423.8 1480.7h0M402.4 1444.2h0M428.4 1450.2h0M399.8 1386.5h0M395.1 1443.6h0M371.5 1419.1h0M450.4 1392.8h0M391 1430.2h0M383.7 1364.6h0M374.2 1356.2h0M348.9 1434.1h0M417 1414.5h0M367.9 1402h0M349.8 1374.4h0M426.5 1332.9h0M319.5 1389h0M392.4 1361.1h0M411.5 1356.6h0M369.9 1405.3h0M429.3 1461.4h0M409.7 1365.5h0M387.4 1389.3h0M406.8 1395.6h0M410.8 1441.1h0M408.3 1410.5h0M444.3 1431.4h0M457.4 1418.6h0M372.7 1419.7h0M424.2 1340.6h0M361.3 1442.3h0M369.6 1411.2h0M417 1444.3h0M454.9 1418.5h0M356.6 1388.1h0M339.6 1403.7h0M381.9 1441.2h0M427 1408.8h0M399.6 1375.8h0M376.8 1473.5h0M400.4 1406.4h0M430.8 1411.6h0M353.5 1436.9h0M366.8 1378.7h0M326.6 1458.4h0M389.3 1438.1h0M364 1425.7h0M358.5 1408.3h0M401.1 1397.8h0M408.7 1374.5h0M443.5 1423.4h0M435 1420.9h0M331.7 1417.1h0M455.9 1386h0M375.1 1424.4h0M372.5 1363.6h0M316.9 1380.6h0M339.6 1391.8h0M398.2 1413h0M435.5 1457h0M371.1 1436.9h0M402.8 1408.5h0M475 1409.4h0M364.4 1402.9h0M401 1411.2h0M415.5 1448.6h0M419.3 1415.2h0M335.5 1411.8h0M411 1411.8h0M333.4 1384.1h0M356.5 1459.1h0M355.9 1401.6h0M381.4 1479.8h0M424.6 1415.5h0M442.6 1371.4h0M438.2 1481.4h0M353 1389.8h0M361.9 1413.1h0M397 1375.1h0M365.1 1404.3h0M420 1450.1h0M467 1399.5h0M363.2 1416.2h0M359.5 1440.3h0M395.5 1456.4h0M439.7 1411.9h0M404.8 1392.3h0M332.5 1376.2h0M401.9 1377.9h0M355.5 1467.2h0M397.4 1406.2h0M395.5 1415.4h0M409.3 1445.6h0M350.3 1391.1h0M462.6 1443.1h0M462.9 1356.2h0M383.8 1366.5h0M375.1 1425.1h0M393.3 1410.7h0M362.2 1436.8h0M346.8 1441.9h0M406.4 1379.3h0M458 1425.5h0M382.2 1333.2h0M419.7 1467.2h0M360.6 1446.5h0M403.9 1417.3h0M398.1 1369.4h0M388.8 1480.4h0M371.3 1380.4h0M362.1 1471.8h0M396.7 1436.6h0M373.8 1393.2h0M386.9 1462.5h0M378.4 1428.1h0M422.4 1410h0M369.4 1390.8h0M401.7 1417.3h0M323.5 1433.7h0M361.4 1449.1h0M447 1377.6h0M366.2 1416.7h0M411.5 1442.6h0M419.2 1422.6h0M354.4 1440.6h0M364.7 1443.4h0M389.5 1374.1h0M382.7 1409h0M372 1453h0M425.3 1392.9h0M356.1 1439.5h0M376.1 1393h0M356.5 1339.9h0M413.4 1405.2h0M348.7 1383.4h0M401.5 1434.2h0M382.3 1396.3h0M448 1362.7h0M357.1 1425.6h0M354.9 1460.9h0M377 1402.6h0M359.6 1406.3h0M470.9 1454.7h0M379.8 1423.8h0M337.1 1429.6h0M446.7 1376h0M411.4 1481.1h0M446.9 1395.6h0M397.7 1360h0M407.8 1408.7h0M370.8 1418.5h0M345.8 1425.7h0M435.1 1438.1h0M383.7 1418.9h0M406.5 1368.9h0M380.6 1399.4h0M442.2 1377.6h0M392.6 1389.3h0M394 1416.9h0M436.6 1416.8h0M409.6 1414.1h0M420 1421.1h0M407.6 1421.7h0M454.3 1365.6h0M326.5 1387.2h0M331.1 1451.9h0M438.3 1369.4h0M398.6 1396.1h0M384.3 1468h0M409.6 1378.8h0M405.1 1383.6h0M407.2 1444h0M415.3 1412.1h0M354 1395.8h0M329.6 1432.2h0M404.5 1423.1h0M403.2 1404.9h0M378.1 1439.5h0M431.9 1398.2h0M393.2 1410.3h0M439.5 1401.7h0M398.2 1402.9h0M344.2 1395.4h0M387.4 1433.4h0M421.1 1449.9h0M356.1 1455.2h0M412.9 1340.7h0M334.9 1446.2h0M344.8 1396.8h0M392 1356.5h0M346.6 1396.4h0M403.8 1369.1h0M413.1 1430.9h0M464.1 1372.8h0M367.3 1346.3h0M389.7 1439.4h0M436 1417.6h0M381.6 1439.8h0M417.7 1435.3h0M402.1 1326.8h0M381.2 1411.2h0M418.7 1398.3h0M370.1 1371.6h0M374.8 1425.3h0M443.8 1471.3h0M414.3 1436.5h0M381.5 1416.6h0M469.9 1455.1h0M384.8 1389.8h0M374.2 1376.6h0M458.2 1451.7h0M375.5 1395h0M393.7 1403.8h0M415.2 1360.5h0M393.9 1407.5h0M455.5 1447.6h0M375.8 1413.6h0M396 1395.5h0M419.2 1412.9h0M395.9 1393.2h0M394.7 1436.5h0M370.2 1405.2h0M437.9 1428.6h0M435.6 1421.3h0M420.1 1354.8h0M431.2 1414h0M389.9 1385.7h0M436.1 1392.2h0M447.4 1411.6h0M437 1349.7h0M399.4 1410.3h0M396.2 1406h0M456 1421.7h0M408 1414.8h0M428.8 1421h0M447.7 1392h0M396.5 1348.7h0M363.9 1408.3h0M344.3 1444.5h0M415.7 1447.9h0M368.9 1390.5h0M415.3 1412.9h0M400.4 1462.7h0M418.2 1396.3h0M370 1418.6h0M367.9 1354.5h0M434.6 1414.8h0" stroke="#0000FF" stroke-width="5.6" stroke-linecap="round" fill="none"/>
<circle cx="286.1" cy="1299.8" r="8.4" fill="none" stroke="#000" stroke-width="2"/>
<circle cx="286.1" cy="1517.8" r="8.4" fill="none" stroke="#000" stroke-width="2"/>
<circle cx="175.1" cy="1408.8" r="8.4" fill="none" stroke="#000" stroke-width="2"/>
<path d="M397.5 1393.5L409.5 1409L397.5 1424.6L385.5 1409Z" fill="#41BE41"/>
<line x1="286.4" y1="1199.9" x2="286.4" y2="1618" stroke="#BA36BA" stroke-width="1.9" stroke-linecap="round"/>
<ellipse cx="286.1" cy="1408.8" rx="222.1" ry="218" fill="none" stroke="#000" stroke-width="2"/>
<rect x="64" y="1190.7" width="444.1" height="436.1" fill="none" stroke="#262626" stroke-width="2"/>
<path d="M923.2 1460.4h0M852.5 1466.4h0M909.8 1381.9h0M884.9 1372.2h0M904 1437.4h0M930.7 1430.8h0M855.5 1355.6h0M962.7 1442h0M983.4 1450.2h0M877.6 1452.7h0M932.1 1416.4h0M884.3 1409.1h0M906.5 1439.4h0M915.5 1462.9h0M885.8 1425.1h0M927.9 1379.7h0M872.4 1443.5h0M928.5 1403.5h0M924.4 1386.1h0M919.3 1388.5h0M917.6 1442.6h0M900.2 1437.9h0M877.3 1399.2h0M866.4 1405.6h0M914 1402.3h0M902.6 1454.6h0M958.4 1367.7h0M950.1 1350.5h0M887.2 1403.2h0M915.1 1373.4h0M887.6 1411.7h0M888.5 1387.2h0M933.4 1440.7h0M909.4 1409.7h0M910.8 1393.6h0M894.5 1373.8h0M932.8 1406.2h0M906.9 1415.9h0M928.9 1457.4h0M902.4 1395.4h0M918 1380.3h0M953.4 1440.5h0M934.3 1405h0M935.8 1444.8h0M927.9 1399.5h0M855.8 1441.2h0M899.7 1380.4h0M940.8 1420.5h0M864.6 1405.7h0M902.5 1442.8h0M848.9 1395.9h0M906.8 1457.3h0M865.7 1418h0M938.1 1468h0M924.6 1381.8h0M940.6 1408.7h0M904.8 1409.6h0M953.5 1378.4h0M877.6 1406.8h0M909.2 1381.4h0M882.4 1421.9h0M955.5 1433.3h0M934 1451.4h0M845.7 1357.7h0M888.1 1368.4h0M878.7 1411.4h0M869 1394h0M844 1375.9h0M955.8 1390.6h0M922.1 1433.1h0M895.2 1428.7h0M918.5 1432.8h0M890.4 1360.1h0M877.7 1390.2h0M929.1 1402.1h0M898.2 1402.9h0M947.7 1389.5h0M961.3 1367.3h0M891.9 1438.1h0M928.5 1380h0M907.8 1384.9h0M939.5 1427.4h0M887.9 1422.6h0M899.3 1406.6h0M913.5 1389.9h0M925.4 1424.7h0M925.5 1446.6h0M902.4 1358.6h0M895.3 1415.9h0M912.1 1428.7h0M938 1405.1h0M907.8 1375.5h0M945.5 1400.1h0M875.7 1371.2h0M897.7 1461.9h0M936.9 1351.5h0M907.3 1418h0M932.1 1420.7h0M890.3 1423.1h0M893.1 1332.9h0M888 1385.7h0M942.9 1445h0M876.9 1415h0M914.4 1360.2h0M843.6 1405.9h0M915.9 1388.8h0M892.3 1378.8h0M900.7 1370.7h0M929.9 1409.4h0M892.9 1418.6h0M910.3 1357.4h0M906.6 1393.5h0M854 1386.9h0M925.5 1388h0M957.8 1466.8h0M901.3 1427.9h0M977.2 1397.8h0M881.7 1394.7h0M866.1 1363.2h0M918.3 1394.9h0M919.5 1425.7h0M886.2 1402.4h0M902.5 1386.3h0M883.8 1419.8h0M906.8 1420.3h0M944.4 1443.5h0M874.7 1380h0M902.9 1413.3h0M942.4 1376.3h0M897 1417.4h0M952 1455.9h0M878.2 1401.8h0M884.7 1437.9h0M926.1 1396.9h0M891.2 1419.1h0M943.7 1383h0M900.7 1412.9h0M912 1420.5h0M878.4 1388.8h0M842.1 1410.9h0M946.7 1339.1h0M890.6 1439.6h0M906.7 1344.6h0M950 1360.6h0M956.6 1389.2h0M888.1 1410h0M910.7 1429.5h0M928 1404h0M955 1433.3h0M920.4 1413.6h0M908.3 1406.4h0M933.3 1425.2h0M912.7 1443.6h0M902.7 1423.9h0M939.8 1371.1h0M902.7 1465.8h0M879.8 1448.2h0M876.4 1422.8h0M876.3 1388.1h0M899 1390.4h0M944.7 1437.4h0M940.1 1415.6h0M965.4 1444h0M922.1 1373.4h0M934 1431.2h0M914.5 1433.3h0M936.8 1398.9h0M930.1 1420.9h0M921.7 1397.4h0M896.1 1413.1h0M899.2 1373.2h0M900.1 1380.7h0M897.6 1422.5h0M881.2 1429.8h0M937.5 1460.6h0M971.4 1443h0M986.2 1392.1h0M920.5 1414.9h0M925.9 1443.9h0M900.7 1467.3h0M953.5 1421.1h0M927 1376.3h0M829.7 1406.3h0M922.1 1417.1h0M875.4 1394h0M969.5 1434.1h0M932 1398.9h0M936 1453h0M936.7 1395.7h0M921.1 1379.7h0M901.8 1429.5h0M894.3 1401.7h0M958.9 1403.8h0M937 1399.4h0M874.5 1409.7h0M900.1 1341.6h0M872.5 1395.3h0M960.2 1390.1h0M910.8 1430.8h0M921.4 1398.1h0M967.6 1454.8h0M832 1442h0M929.7 1442.6h0M914.8 1437.4h0M975 1467.3h0M970.5 1445.1h0M942.1 1441.3h0M875.3 1486.2h0M919.7 1420.5h0M915.8 1425.6h0M842.5 1417.3h0M870.4 1376.3h0M851 1351.6h0M931.1 1393h0M908.5 1403.7h0M873.8 1385.6h0M870.5 1398.9h0M839 1396.1h0M941.5 1450.1h0M949.1 1426h0M878.6 1439.9h0M928.6 1418.2h0M871.8 1422.4h0M957.8 1434.2h0M904 1427.6h0M911.6 1415.2h0M939.2 1420.7h0M913.9 1422.1h0M884.6 1375.4h0M927.3 1389.1h0M929.8 1346.9h0M950.7 1405.7h0M856.3 1456.5h0M916.6 1419.4h0M915.6 1414.6h0M929.2 1375.1h0M906.1 1453.1h0M917.5 1388.3h0M914.7 1444.5h0M905.1 1403.2h0M927.7 1438h0M960 1404.9h0M923.1 1444.6h0M849.3 1414.2h0M926.9 1406.6h0M883.8 1429.3h0M952.6 1406.5h0M896.1 1402.3h0M963 1451.7h0M913.4 1372.6h0M870.5 1398.9h0M901.7 1418.8h0M875 1405.6h0M929.7 1352.8h0M987.7 1429.4h0M929.6 1365.9h0M878.6 1444.5h0M941.5 1327.6h0M950.4 1434.8h0M933 1372.5h0M921 1389.7h0M931 1472.7h0M933.7 1444.8h0M902.4 1375.7h0M913.2 1445.6h0M961.2 1408.5h0M921.2 1397h0M856.3 1413.5h0M924.3 1396.5h0M907.2 1349.5h0M914.8 1457.5h0M912.2 1430.8h0M927.6 1384.9h0M919.9 1382.8h0M877.1 1358.5h0M962.1 1431.5h0M926 1364.4h0M894.4 1369.4h0M949.1 1392.8h0M976.4 1428.2h0M902.3 1456.1h0M843.8 1382.3h0M899.7 1446.9h0M948.4 1422.7h0M854.4 1392.6h0M876.5 1453h0M898.4 1430.6h0M974 1408.1h0M935.9 1397.5h0M914.4 1412h0M913.4 1412.9h0M899.9 1474h0M891.5 1418.9h0M903.1 1333.8h0M944.9 1418.3h0M867.5 1385.7h0M859.5 1420.1h0M964.2 1451.7h0M870 1351.7h0M930 1467.5h0M914.2 1445.9h0M866.5 1406.3h0M927 1396.1h0M904.9 1433.3h0M891.7 1376.2h0M936.9 1418.2h0M879.3 1424.6h0M893.7 1431.6h0M911.9 1400.1h0M886.6 1416.7h0M910.6 1474.1h0M910.6 1363.9h0M966.5 1380.4h0M957.9 1403.4h0M929.9 1410.7h0M908.3 1427.3h0M890.7 1425.8h0M876.2 1384.7h0M895.1 1406.1h0M951.9 1381h0M883.4 1371.2h0M898.3 1428.5h0M887.1 1399.4h0M892.2 1412.2h0M845.2 1429.5h0M942.1 1380.9h0M909.3 1378.4h0M944.7 1430.7h0M882.8 1393h0M870.2 1416.5h0M922 1440.9h0M925.2 1395.5h0M954.6 1429.3h0M939.4 1369.9h0M884.5 1387.9h0M899.2 1335.5h0M951.9 1402.8h0M940.3 1436.3h0M961.7 1429.7h0M925 1385.1h0M916.8 1470.1h0M854.7 1386.6h0M922.1 1465.7h0M876.9 1395.6h0M884.9 1406h0M938.2 1387.5h0M926.5 1425.6h0M902 1423.6h0M970.9 1416.1h0M900.1 1386.5h0M921.9 1447.3h0M919.2 1422.7h0M878.9 1421.5h0M907.4 1431.7h0M955.3 1424.4h0M908 1429.9h0M930.4 1409.1h0M895.5 1434.9h0M907.8 1373.3h0M936.9 1394.5h0M896.6 1434.2h0M888.5 1406h0M881.9 1360.1h0M923.8 1464.7h0M885.3 1451.3h0M949.2 1462.9h0M878.8 1389.6h0M968.3 1410.1h0M913.9 1436h0M934.4 1393.4h0M907.3 1433.7h0M923.3 1387.5h0M956.6 1441.1h0M904.1 1393.6h0M945 1330.5h0M918.2 1392.3h0M892.5 1442.5h0M907.9 1425.3h0M869.1 1447.2h0M895.7 1420.5h0M958 1453.2h0M931.6 1456.6h0M900.9 1381.7h0M865.4 1432.1h0M980.2 1402.2h0M915.8 1402.5h0M931.4 1351.3h0M943.5 1449.8h0M892.9 1378.9h0M886.3 1431.8h0M962.9 1379.3h0M864.4 1416.4h0M924 1436.9h0M892.3 1437.7h0M951.2 1357.2h0M905.1 1433.4h0M940 1393.7h0M850.6 1385.8h0M867.6 1394.4h0M948.2 1390.5h0M917 1370.8h0M944.7 1390.5h0M879.6 1475.1h0M925 1434.9h0M848.2 1460h0M970.5 1406.9h0M903.9 1391.8h0M949.2 1358.2h0M924.5 1479.2h0M918.2 1478.4h0M914.5 1401h0M943.7 1408.9h0M916.9 1397.6h0M873.8 1400.9h0M936.9 1448h0M911.3 1421.8h0M883 1405.4h0M908.5 1406.7h0M915.7 1423.4h0M953.9 1437.6h0M930.7 1370.1h0M887.2 1413.1h0M917.1 1436.3h0M855.9 1417.6h0M918 1400.2h0M887.8 1419.3h0M908.7 1427.6h0M847.9 1381h0M964.1 1419.4h0M888.6 1400.9h0M871.5 1460h0M961.1 1441.8h0M953.7 1427.8h0M957.5 1433.5h0M960.7 1411.4h0M911.7 1393.3h0M899.2 1359.1h0M958.2 1459.7h0M938.6 1446.2h0M922.2 1429h0M870.6 1410h0M855.5 1389.6h0M905.3 1401.9h0M879.9 1455.7h0M947.1 1394.7h0M874.5 1395.9h0M945.3 1348h0M940.8 1407.9h0M901.5 1446.6h0M915.2 1400.4h0M955 1358.7h0M967.3 1383.8h0M887.2 1465.7h0M887.2 1338.9h0M922.5 1412.5h0M895.5 1408h0M892.5 1440.7h0M911.8 1405.3h0M842.7 1420.8h0M867 1437h0M913.3 1343.8h0M903.4 1371.9h0M932.5 1427.1h0M948.8 1386h0M930.3 1365.6h0M924.8 1404h0M921.8 1411.4h0M947.4 1400.1h0M908 1458.8h0M911.7 1393.8h0M884.5 1412.1h0M912.8 1433.3h0M908.3 1434.8h0M905.2 1465.3h0M912.3 1434.5h0M926.5 1367.3h0M947.6 1397.4h0M943.9 1344.2h0M853.2 1344.1h0M854.9 1398.1h0M912.3 1378h0M902.1 1388h0M937.3 1434.8h0M923 1432.6h0M969.2 1432.6h0M863.4 1403.7h0M903.3 1438.3h0M928.7 1439.8h0M862.6 1457.7h0M908.1 1443h0M928.7 1380.9h0M886.1 1430.7h0M950 1379.7h0M875.3 1341h0M881.9 1384.9h0M902.5 1430.1h0M895.9 1372h0M899.3 1406.7h0M916.4 1413.7h0M905.8 1427.6h0M901.9 1373.9h0M905.7 1471.3h0M884.6 1491.3h0M894.9 1433h0M858.9 1405.6h0M958.2 1369.7h0M887.8 1419.7h0M922.8 1359.3h0M870.4 1418.7h0M921 1433.7h0M906 1430.1h0M950.7 1368.2h0M944.5 1434.4h0M953.1 1396.2h0M910.4 1411.8h0M896 1442.9h0M918.9 1375.9h0M920 1373.7h0M860.9 1374.5h0M912.2 1413.1h0M908.1 1427.3h0M973.8 1371.6h0M925.4 1418.4h0M873.1 1392.5h0M918.1 1410.2h0M884.7 1434.7h0M919.3 1430.5h0M962.8 1367h0M943.4 1425h0M883.4 1407.3h0M898.1 1370.4h0M937.5 1383.5h0M846.1 1436.4h0M895.8 1421.4h0M918.1 1398.9h0M899.2 1325.3h0M898.2 1371.4h0M927.6 1383.2h0M890.4 1412.3h0M874.4 1385.5h0M895.7 1422.3h0M864.7 1434.3h0M906.7 1392.3h0M922.3 1442.4h0M948.3 1374.5h0M954.4 1410.1h0M953.3 1373.9h0M905.8 1405.2h0M870.5 1393.9h0M940.2 1445.7h0M932.3 1418.1h0M897 1476.9h0M868 1368.9h0M886.4 1414.6h0M896.3 1434.2h0M860.7 1436.1h0M967.5 1437.5h0M901.4 1388.7h0M945.9 1352.3h0M885.4 1353h0M906.3 1469.3h0M897 1444h0M876.2 1390.3h0M892.5 1443.3h0M882.7 1386.2h0M911 1459.6h0M912.8 1467.2h0M923.6 1400.1h0M947.7 1389.3h0M881.6 1412h0M861.4 1369.2h0M885 1409.6h0M944.2 1446.4h0M904.6 1416.2h0M901 1361.7h0M923.9 1384.4h0M935 1390.6h0M878.5 1419.4h0M893.3 1365.1h0M944 1419h0M920.9 1411h0M892.8 1393.8h0M924.3 1365.2h0M926 1409.5h0M958 1384.5h0M911.3 1416.7h0M929.8 1451.2h0M926.3 1362.3h0M964.1 1343h0M931.7 1452.3h0M889.3 1407.3h0M908.9 1372h0M923.2 1377.2h0M921.7 1429h0M946.5 1454h0M925 1425.3h0M904.4 1407h0M939.9 1435h0M926.7 1408.8h0M944.7 1371.9h0M894.5 1416.5h0M947.7 1368.3h0M877.2 1369.2h0M934.9 1435.6h0M960.8 1484.4h0M873 1403h0M893.9 1373.1h0M912.8 1391h0M916.2 1397.4h0M865 1428.7h0M929.6 1394.7h0M867.1 1421.3h0M932.7 1411.3h0M913.5 1324.9h0M922.9 1386.1h0M902.3 1376.8h0M846.9 1433.8h0M923.1 1373.4h0M861.3 1387.8h0M938.8 1426.5h0M912.6 1438.7h0M921.8 1377.1h0M931.6 1406.4h0M884.2 1446.1h0M924.5 1360.8h0M935.4 1415h0M899.2 1393.2h0M877.9 1360.1h0M919.7 1424h0M900.1 1416.9h0M898.7 1396.8h0M927.1 1424.6h0M956.3 1393.2h0M922 1403h0M917.9 1449.8h0M923.7 1382.9h0M896.2 1389.1h0M902.5 1386.7h0M895.1 1402.9h0M921.2 1380.6h0M913 1409.9h0M937.7 1416.8h0M927.4 1417.4h0M947 1404.3h0M863.4 1419.8h0M879.6 1335.7h0M925.6 1406.8h0M916.5 1422.8h0M904.7 1442.9h0M912.2 1397.8h0M911 1341.4h0M926.1 1359.9h0M922.4 1403.2h0M912.3 1381.3h0M962.5 1341.4h0M905.7 1378.4h0M859.9 1454h0M915.8 1486.2h0M934.4 1423.7h0M927.8 1366.1h0M868.8 1454h0M935.7 1384h0M913.7 1413.3h0M948.7 1419.3h0M888.9 1434.5h0M894 1427h0M961.8 1378.6h0M942.4 1429.2h0M894.7 1371.4h0M971.6 1416.6h0M951.9 1420.2h0M941.3 1416.9h0M871.4 1384.5h0M923.9 1371.1h0M901.2 1406.2h0M946.7 1462h0M847.3 1423.2h0M968.7 1365.7h0M878 1447.6h0M917.4 1391.8h0M918.5 1433.2h0M915.2 1422.5h0M919.2 1423.4h0M919.5 1424.5h0M908.4 1447.2h0M904.2 1395.2h0M868.8 1387.7h0M918.8 1406h0M932.8 1374.1h0M894.1 1347.9h0M905.5 1442.6h0M928.5 1398.5h0M928.7 1420.2h0M885.6 1378.5h0M884.5 1425.5h0M931.5 1423.9h0M905.1 1472h0M906.9 1426.8h0M919 1444.6h0M860.7 1427.8h0M907.3 1408.2h0M880.5 1387.5h0M951.3 1439.1h0M868.5 1418.9h0M898.1 1445.6h0M927.4 1435.6h0M911.5 1412.5h0M892.9 1362.6h0M895.5 1450.5h0M955.2 1382.6h0M886.3 1386.5h0M888.3 1372.5h0M891 1431.1h0M935.2 1464.5h0M907 1340.5h0M894.3 1375h0M900.9 1385.5h0M941.8 1382.1h0M911.6 1467h0M911 1355.7h0M939.4 1424h0M928.3 1431.1h0M881.7 1377h0M916 1354.4h0M885.1 1446h0M871.6 1420.1h0M944.3 1406.9h0M897.2 1450.9h0M868.4 1462.3h0M883.2 1409.8h0M876.9 1374.1h0M942 1411.1h0M927.3 1366.9h0M900 1368.9h0M910.2 1423.5h0M926.7 1425.3h0M890.6 1427.2h0M897.5 1452.3h0M905.8 1447.2h0M899.9 1430.1h0M918.3 1361.6h0M932 1379.3h0M855.3 1413.3h0M946.5 1432.5h0M884.7 1353.6h0M827.2 1388h0M894.7 1403.4h0M949.7 1402.2h0M877.1 1372.5h0M881.1 1387h0M921.1 1398.3h0M908.6 1411.9h0M917.5 1429.6h0M947.7 1376.6h0M901.9 1405h0M906.2 1435.2h0M933.9 1388.5h0M963.5 1425.7h0M933 1389.6h0M936.1 1398.7h0M881.7 1413h0M879.5 1374h0M925.6 1434.7h0M890 1440h0M948.2 1446.3h0M922.2 1399.4h0M959.9 1397.1h0M926.6 1445.7h0M965.5 1419.4h0M920.5 1427h0M919.3 1446.1h0M946.1 1466h0M911.2 1434.5h0M890.7 1397.6h0M957.7 1402.2h0M853.9 1393.3h0M896.7 1351.8h0M919.2 1437.8h0M896.8 1442.1h0M848.3 1434.8h0M912.6 1483.3h0M913.6 1409.8h0M912.2 1399.5h0M901.1 1433h0M921.5 1420.3h0M921.7 1388.8h0M972 1378.6h0M942.1 1405.4h0M945.6 1403.7h0M947.2 1426.9h0M949.9 1474.8h0M920.2 1416.3h0M839.2 1412.1h0M941.5 1403.4h0M915.7 1406.3h0M853.9 1439h0M891.5 1368.2h0M944.2 1424.2h0M931.4 1415.7h0M893.6 1440.2h0M887.2 1419.9h0M883.1 1376.6h0M939.3 1387.1h0M963.5 1370.5h0M947.1 1402.5h0M938.1 1434.3h0M858.1 1431.4h0M904.6 1382.2h0M946.6 1423.8h0M927.1 1456.6h0M945.6 1415.2h0M889.5 1458.8h0M894.5 1361.3h0M864.2 1424.2h0M870.8 1432.6h0M900.6 1368h0M944 1384.7h0M926.9 1391.1h0M967.3 1446.7h0M900.8 1344.1h0M926 1382.5h0M951.2 1462.4h0M914.9 1441.1h0M874 1430.7h0M965.1 1368.3h0M937 1419.6h0M940.9 1413.6h0M911.5 1449.5h0M914.7 1426.4h0M871.4 1423.7h0M934.8 1406.5h0M911.9 1347.6h0M881.1 1402.5h0M903.5 1480.1h0M937.2 1373h0M983.5 1366.3h0M877.5 1382.8h0M911.4 1493.2h0M905.1 1428.4h0M867.8 1396.6h0M941.9 1459.9h0M931.2 1428.4h0M880 1363h0M892.7 1400.6h0M888.4 1434.2h0M970.7 1410.9h0M864.7 1371.4h0M946.4 1437h0M920.9 1432.2h0M949.2 1412.9h0M923.4 1400.3h0M851.6 1414.8h0M912.4 1424h0M896.1 1424.3h0M925.4 1397.2h0M881.5 1388.3h0M923.7 1438.9h0M970.4 1407.6h0M928.9 1450h0M881.4 1431.2h0M898.5 1398.5h0M937.2 1403h0M923.6 1374.5h0M911 1382.1h0M913.8 1403.7h0M900.4 1385.5h0M970.7 1388.1h0M989.6 1403.6h0M952.8 1414.8h0M892.7 1404.7h0M955.7 1405.3h0M851.1 1473.1h0M890.6 1400h0M960.4 1355.1h0M896.8 1431.9h0M933.5 1429.9h0M882.1 1441.9h0M898.5 1417h0M883.2 1468.8h0M901.1 1408.5h0M895.5 1424.1h0M869.8 1407.8h0M906.1 1465.5h0M902.7 1405h0M918.3 1446h0M979.8 1426.5h0M930.7 1466.5h0M916.3 1426.4h0M894.9 1407.1h0M888.9 1485.9h0M940.1 1435.6h0M881.4 1416h0M891.7 1388.6h0M869.7 1389.9h0M936.8 1444.5h0M929.7 1437.9h0M881.6 1464.6h0M983.6 1413.5h0M891.2 1383.8h0M870.4 1432.6h0M942 1469.7h0M871.3 1440.8h0M936.8 1403h0M885.1 1421.7h0M986.9 1368.3h0M894.3 1393.6h0M909 1448.6h0M897.9 1334h0M871.8 1367.7h0M921.9 1416.3h0M875.5 1435.5h0M852.8 1404.4h0M956.2 1357.2h0M932.8 1445.8h0M897.8 1416h0M863.8 1422h0M873.1 1391.4h0M926.7 1397.5h0M876.3 1408.9h0M903.4 1382.6h0M846.8 1402.9h0M941.1 1388.6h0M893.6 1393.3h0M925.3 1358.1h0M936.8 1479.2h0M927.5 1411.6h0M926.4 1426h0M900.8 1405.3h0M905.2 1427.6h0M973.9 1414.3h0M978.8 1380.3h0M936.8 1385.7h0M916.4 1406.8h0M849.9 1401.7h0M925.4 1420.1h0M863.8 1361.2h0M932.4 1375.6h0M979.7 1420.5h0M923.2 1404h0M886.5 1419.2h0M905 1461.1h0M917.7 1418.5h0M947.5 1443.5h0M862.2 1375.7h0M902.7 1383.1h0M972.4 1411.3h0M875.2 1397.4h0M886.3 1387.1h0M925.4 1428.5h0M907.4 1365.5h0M891.6 1441.6h0M930.1 1399.6h0M937.6 1346.9h0M889.8 1411.5h0M922.8 1446.2h0M915.4 1420.5h0M917.8 1374.3h0M906.5 1458.9h0M936.5 1400h0M913.2 1469.1h0M965 1474.3h0M955.6 1406.1h0M906.7 1356.1h0M955.4 1452.6h0M986.8 1384.9h0M970.3 1430.1h0M918.4 1420.8h0M876.3 1409.4h0M881.6 1395.5h0M921.4 1395.9h0M937.8 1388.4h0M896.3 1392.7h0M921.2 1421h0M947.6 1402h0M892.9 1422.4h0M974.1 1442.8h0M853.5 1416.7h0M902.2 1406.6h0M942.7 1415.1h0M912.3 1359.2h0M912 1388.1h0M923.6 1449.8h0M886.8 1405.6h0M935.6 1358.1h0M892.3 1364.1h0M895 1409.7h0M904 1461.4h0M941.2 1419.5h0M952.3 1478.1h0M903.3 1407.4h0M926.8 1449.3h0M849.4 1411.4h0M941.8 1492.6h0M918.1 1354.8h0M900.8 1464.7h0M863.2 1414.9h0M850.8 1417.7h0M970.8 1383.3h0M887.7 1398.6h0M905.2 1434.9h0M894.8 1291h0M885 1299.7h0M968.6 1301.6h0M937 1309.5h0M785.8 1455.6h0M807.1 1420.9h0M803.2 1427.7h0M811.9 1433.5h0M1010.1 1375.5h0M1005.4 1425.6h0M1003.5 1441.4h0M944.1 1503h0M935.9 1498h0M907.1 1497.2h0" stroke="#FF0000" stroke-width="5.6" stroke-linecap="round" fill="none"/>
<circle cx="800" cy="1299.8" r="8.4" fill="none" stroke="#000" stroke-width="2"/>
<circle cx="800" cy="1517.8" r="8.4" fill="none" stroke="#000" stroke-width="2"/>
<circle cx="689" cy="1408.8" r="8.4" fill="none" stroke="#000" stroke-width="2"/>
<path d="M911.4 1393.5L923.4 1409L911.4 1424.6L899.4 1409Z" fill="#41BE41"/>
<line x1="800.3" y1="1199.9" x2="800.3" y2="1618" stroke="#BA36BA" stroke-width="1.9" stroke-linecap="round"/>
<ellipse cx="800" cy="1408.8" rx="222.5" ry="218" fill="none" stroke="#000" stroke-width="2"/>
<rect x="577.5" y="1190.7" width="445" height="436.1" fill="none" stroke="#262626" stroke-width="2"/>
<path d="M212.8 1964.5h0M151.8 1942.6h0M168.2 2001.8h0M152.4 1979.1h0M178 1971h0M175 1956.5h0M186.8 1950h0M190.7 1955.5h0M204.6 1989h0M172.9 1943.1h0M184.9 1909.3h0M182.4 1935.4h0M155.3 1911.1h0M169.7 1959.2h0M162.4 1926.5h0M161.5 1944h0M147.2 1935.2h0M149.2 1944.5h0M216.9 1951.3h0M222.9 1931.5h0M147.8 1940.9h0M177.1 1956.1h0M184.3 1940.2h0M196.3 1945.4h0M191.9 1957.8h0M181.1 1952.5h0M157.7 1959.9h0M189 1936.4h0M236.1 1951.2h0M144.2 1911.3h0M154.7 1897.1h0M184.8 1923h0M184.4 1915.8h0M180.4 1972.2h0M189.1 1907.4h0M176.5 1938.9h0M203.3 1957.1h0M220.5 1952.3h0M150 1927.6h0M204.7 1925.7h0M179.7 1997.7h0M176 1928.1h0M196.9 1957.3h0M147.5 1966.2h0M180.7 1964.7h0M160.5 1974.6h0M164 1977h0M149.5 1955.4h0M184.2 1918.8h0M130.2 1932.2h0M156.8 1933.2h0M172.3 1999.7h0M180.4 1985.6h0M184.9 1974h0M190 1950.1h0M187.9 1998.8h0M136.9 1954.4h0M191.3 1920.6h0M189.2 1952.8h0M205.9 1962.9h0M175.7 1954.9h0M124 1994.6h0M181.6 1916.1h0M152 1942.7h0M161.3 1951.6h0M158.7 1959.2h0M163.6 1945.2h0M141.3 1929.5h0M171.1 1924.9h0M168 1938.9h0M135.9 1970.8h0M140.6 1984.9h0M197.7 1958.8h0M172.5 1926.3h0M212.8 1992.6h0M157.2 1988.2h0M201.6 1967.3h0M187.1 1941h0M173 1952.7h0M207 1918.2h0M180.3 1922.7h0M177.1 1941.4h0M157.4 1961.5h0M191.4 1918.7h0M157.5 1958.3h0M162.9 1954.3h0M108.3 1938.2h0M166.9 1953.6h0M227.8 1941.2h0M170.9 1980h0M171.9 1985.1h0M193 1906.4h0M179.5 1983.8h0M180.3 1954.2h0M179.3 1950.8h0M205.1 1960.1h0M181 2001.4h0M140.1 1932.5h0M167.7 1938.9h0M172.9 1959.5h0M174.7 1920h0M230.5 1944.7h0M178.2 1946.4h0M182.2 1979.9h0M159.1 1922.7h0M188.5 1938h0M186.7 1951.5h0M162.3 1964.7h0M167.9 1920h0M138.2 1924.1h0M111.9 1945.8h0M179.7 1919.2h0M119 1920.5h0M196.3 1942.4h0M176.2 1952.1h0M173.9 1942.4h0M189.4 1960.5h0M156.4 1930.2h0M171.9 1954.2h0M188 1944.4h0M170.4 1920.2h0M203 1947.4h0M193 1940.2h0M148.9 1934.3h0M160.7 1958.7h0M165.8 1972.2h0M187.9 2005.2h0M134.8 1979.6h0M162.3 1946.7h0M182.2 1973.3h0M177.2 1937.7h0M216.2 1932.1h0M198.9 1943.4h0M204.8 1946.9h0M155.5 1921.7h0M158.7 1964h0M209.2 1949.6h0M183.4 1913.6h0M170.9 1972.7h0M200.3 1919h0M164.6 1934.7h0M182.2 1931.5h0M175.5 1978.1h0M179.2 1939.3h0M178.8 1914.4h0M173.2 1950.1h0M214.6 1925h0M200.7 1960.7h0M218.3 1983.1h0M187.4 1942.9h0M214 1990.7h0M172 1989.3h0M180.4 1971.1h0M153.4 1963.3h0M178.6 1949h0M161.5 1937.3h0M190.8 1942.6h0M133.1 1924.7h0M208.5 1949.6h0M172.2 1985.1h0M131.7 1923.7h0M191.9 1974.4h0M183.4 1921.1h0M199.6 1952.8h0M154.2 1898.2h0M175.5 1930h0M151.9 1928.7h0M165.4 1934.7h0M177.3 1978.9h0M121.5 1924.9h0M175.3 1948.2h0M187.2 1941.9h0M169.9 1954.4h0M199.5 1961.7h0M165.6 1964.4h0M184.7 1930h0M195.5 1964.9h0M151.9 1970.3h0M168.9 1993.3h0M151.2 1946.7h0M170.7 1923.7h0M162.1 1951.7h0M165.7 1953.1h0M161.5 1955h0M180.9 1923.6h0M110.1 1955.8h0M197.3 1939.9h0M191.2 1967.7h0M199.1 1979.7h0M218.7 1946.6h0M180.7 1966.3h0M141.8 1961.8h0M212.8 1951.8h0M199.1 1928.6h0M197.4 1910.1h0M167.4 1974.5h0M158.1 1961.1h0M149.4 1949.5h0M178.1 1940.4h0M154.1 1938.4h0M149.9 1926.8h0M146.4 1940.4h0M203.3 2003.9h0M188.2 1957.5h0M154.6 1931.3h0M195 1974.3h0M155.7 1937.4h0M204.3 1976.5h0M198.3 1937.1h0M164.1 1948.8h0M117.3 1954.8h0M196.9 1949.9h0M182.6 1923.5h0M184.1 1955.1h0M161.3 1950.9h0M145.6 1929.2h0M174 1928.3h0M149.3 1920.1h0M183.2 1971.1h0M205.5 1947.6h0M170.1 1947.1h0M196.8 1924.2h0M173.7 1950.3h0M166.4 1975.7h0M179.2 1936.5h0M208.7 1919.2h0M165.4 1940.5h0M153.7 1970.5h0M143.4 1946.4h0M147.5 1935.4h0M198.9 1921h0M150.5 1959.7h0M158.8 1958.3h0M213.6 1948.5h0M184.3 1961.2h0M148.6 1990h0M184.7 1931.1h0M182.1 1962.6h0M160 1962.9h0M217.3 1963.2h0M192.4 1951.6h0M194.2 1932.4h0M211 1958.8h0M206.7 1992.8h0M152.5 1948.5h0M145.9 1997.8h0M163.3 1925.9h0M188.8 1951h0M201.2 1929h0M203.3 1975.4h0M136.1 1939.7h0M148.7 1922.2h0M148.6 1932.1h0M160.5 1927.1h0M230.7 1914.3h0M162.4 1933.2h0M114.5 1958.7h0M188.9 1950.1h0M139.2 1948.4h0M140.2 1942.1h0M173.8 1952.7h0M168.2 1954.4h0M184.6 1945.5h0M156.5 1960.7h0M191.7 1971.2h0M175 1969.3h0M158.3 1944.6h0M179.8 1987h0M163.4 1944.1h0M160.9 1972.9h0M193.2 1944h0M139.4 1964.6h0M145.5 1966.3h0M137.6 1964h0M159.7 1913.5h0M186.7 1949h0M120.9 1977.5h0M168.2 1907.6h0M176.2 1959.6h0M179.8 1933.6h0M193.3 1934h0M147.9 1971h0M162.6 1936.2h0M210.1 1923.5h0M210.7 1943h0M179.1 1948h0M161.8 1955.1h0M203.8 1923.2h0M151.7 1951.7h0M164.5 1990.4h0M184.7 1943.2h0M152 1950.6h0M158.9 1969.4h0M140.9 1947.9h0M190.9 1921.2h0M152.3 1925.3h0M192.1 1953.7h0M130.3 1949.3h0M179.2 1959h0M206.2 1908.8h0M198.6 1914.1h0M157.8 1933.3h0M166.5 1937.6h0M171.9 1961.3h0M197.7 1961.7h0M171.4 1930.3h0M196.6 1962.2h0M188.2 1952.5h0M191.6 1901.9h0M195.9 1960.3h0M159.6 1968.4h0M160.5 1927.2h0M181 1978.2h0M182.6 1911.6h0M158.8 1961.7h0M186.8 1931.5h0M182.8 1981.1h0M162.7 1971.6h0M180.8 1938.1h0M169 1947.8h0M206.8 1955.8h0M181.5 1926.7h0M169.2 1927h0M153.1 1973.4h0M184.3 1913.9h0M187.7 1964.5h0M151.5 1936.3h0M166 1963.3h0M193.2 1946.5h0M173.6 1948.6h0M134 1906.9h0M198.4 1944.9h0M170.5 1921.2h0M152.6 1912.9h0M196.6 1938.9h0M185.4 1931.9h0M163.8 1982.9h0M189.3 1930.6h0M150.2 1931h0M169.7 1911.8h0M219.1 1962.7h0M125.9 1995.7h0M190.1 1981.8h0M215.2 1998.3h0M220.5 1954h0M180.5 1964.1h0M195.3 1938.2h0M164.7 1953.8h0M148.8 1898.7h0M213.6 1956.7h0M213.9 1973.3h0M202.7 1968.8h0M194.3 1969.2h0M152.4 1936.4h0M203.7 1937h0M147.9 1983.9h0M123.8 1958.9h0M166.5 1957.9h0M167.2 1938.6h0M176.1 1957.6h0M153.1 1941.5h0M164.9 1992.1h0M149.9 1971.4h0M137.5 1924.4h0M204.9 1930.7h0M210.9 1989.9h0M182.9 1955.8h0M138.5 1933.3h0M190 1905.5h0M200.1 1941.7h0M169.3 1972.1h0M141.2 1934.1h0M194.7 1936.6h0M158.7 1967h0M172.3 1911.4h0M166.7 1954.6h0M183.2 1962.1h0M221.4 1924.4h0M168.4 1971.5h0M168.1 1953.4h0M194.6 1952.3h0M184.1 1959h0M185.4 1910.6h0M191.1 1948.2h0M156.4 1915.5h0M177.7 1929.6h0M185.8 1930.4h0M191.2 1928.2h0M160.7 1932.8h0M200.6 1963.8h0M179.2 1937.9h0M188.8 1985.1h0M175.2 1969.5h0M184.5 1927.8h0M146.1 1942.5h0M149.7 1950h0M186.6 1886.5h0M169.1 1980.5h0M143.2 1913h0M155.6 1929.1h0M198.7 1935.5h0M219.2 1955.6h0M157.2 1952h0M213.2 1943.9h0M178.5 1916.3h0M161.2 1962.2h0M156.8 2008.4h0M179.4 1921.2h0M150.8 1962.1h0M169.9 1917.7h0M199.2 1941.5h0M168.9 1932.7h0M145.1 1913.6h0M195.8 1978.7h0M189.6 1926.7h0M171 1971h0M162.3 1960.8h0M146.2 1959.4h0M198.4 1966.3h0M161.3 1943h0M147.8 1934.8h0M183.9 1923.9h0M187.6 1915.8h0M158.8 1969.4h0M143.4 1948.2h0M199.2 1949.5h0M153.2 1943.3h0M189.3 1977.9h0M163.8 1950.3h0M181.7 1924.9h0M186.7 1953.9h0M138.5 1943.9h0M172.6 1931.5h0M190.1 1963.8h0M179.8 1926.1h0M153.3 1967.8h0M127.5 1937.3h0M151.9 1942.8h0M153.9 1937.6h0M197.7 1924h0M210.7 1925.6h0M180 1922.3h0M214.3 1938.3h0M191.6 1962h0M188.3 1961.1h0M185.2 1956h0M183.5 1924h0M176.3 1954.3h0M167 1936.9h0M146.4 1967.6h0M164.9 1988.1h0M214.5 1935.2h0M169.6 1949.1h0M224.5 1947.8h0M178.6 1961.8h0M213.7 1946h0M146.3 1965.4h0M205.9 1962.1h0M207.8 1943.3h0M172.4 1980.6h0M150 1922.2h0M207.7 1924.1h0M205.6 1931.6h0M201.9 2000.7h0M208.6 1962.4h0M181.8 1965.3h0M180 1940.1h0M198.1 1938.1h0M187.6 1932.6h0M152 1982.3h0M168.9 1971.3h0M170.5 1933.4h0M150.3 1907.3h0M159.9 1933.1h0M209.5 1933.1h0M179.3 1955.5h0M165.8 1995h0M228.5 1963h0M150.3 1925.8h0M188.9 1949.9h0M176.9 1966.8h0M176 1931.3h0M146.4 1949.3h0M164.1 1950.6h0M157.6 1945.9h0M191.2 1913.7h0M188 1965.9h0M143 1925.7h0M174.4 1932.8h0M223.9 1914.5h0M172.5 1939.9h0M201 1952.1h0M179.4 1948.3h0M187.9 1965.6h0M155.6 1936.4h0M198.7 1935h0M180.2 1955h0M137.2 1973.8h0M175.3 1944.1h0M200 1937.5h0M186.6 1942.3h0M148.2 1936.3h0M170.7 1946.1h0M116.7 1965.7h0M161.4 1882h0M207.6 1939.6h0M171.5 1917.1h0M177 1957.4h0M182.1 1979.4h0M211.8 1949.7h0M159.5 1931.5h0M153.5 1989.7h0M164.1 1935.8h0M179 1930.2h0M170.3 1934.8h0M186.1 1948.1h0M165.6 1948.4h0M197.9 1940.7h0M130.3 1960.8h0M167.1 1927.8h0M183.7 1982.4h0M147.4 1955.3h0M177.4 1999.9h0M179.6 1952.3h0M132.7 1947.2h0M154.6 1944.1h0M109.3 1929.7h0M131.4 1904.8h0M223.6 1927.7h0M201.6 1912.4h0M200.6 1926.2h0M214.6 1914.3h0M175.7 1937.1h0M161.1 1913.8h0M235.4 1887.1h0M116.5 1935.2h0M122.4 1908.1h0M220 1980.5h0M146.8 1946.1h0M188.7 1955.1h0M139.8 1923.2h0M133.3 1990.9h0M153.5 1989.1h0M238 1915.9h0M184 1977.5h0M234.8 1914.4h0M211 1947.1h0M161.4 1927.6h0M182.7 1933.6h0M200.3 1960.7h0M191.8 1960.6h0M136.4 1970h0M231.9 1921.4h0M151.9 1953.4h0M172.6 1954.7h0M156.5 1977.5h0M163.8 1948h0M160.2 1921.9h0M187.9 1931.5h0M128.2 1927.8h0M135.2 1964.2h0M105.4 1991.3h0M223 1910.9h0M132.3 1985.7h0M187 1968.6h0M175.1 1906.1h0M188 1986.7h0M183.6 1928.6h0M188.1 1890.4h0M100.5 1982.3h0M170.4 1924.3h0M116 1998.1h0M129.5 1935.7h0M183.1 1925.9h0M173.1 1926h0M195.1 1986.3h0M217.9 1905.4h0M223.8 1930.7h0M139.5 1915.4h0M178 1940.7h0M212.7 1932.6h0M153.4 1907.5h0M203.5 1954.3h0M203.2 1934h0M129.1 1975.8h0M197.7 1930.4h0M152.7 1966.5h0M171.3 1944.3h0M173.1 1960.6h0M147 1892.1h0M91.9 1915.6h0M177.9 1992.1h0M189.1 1947.1h0M187.1 1951.6h0M168.5 1884.5h0M202.8 1954h0M145.4 1906h0M133.3 1998h0M111.5 1931.5h0M97.6 1930.6h0M157.4 1938.8h0M199.7 2027.3h0M125.1 1951.3h0M135.2 1948h0M163.7 1954.9h0M150.5 1910h0M178.4 1952.8h0M193.1 1941.1h0M166.8 1994.7h0M163.9 1938.7h0M178.4 2000.2h0M185.5 1946.9h0M194.9 2003.8h0M136.2 1952.8h0M183.3 1937.9h0M121.9 1960.2h0M122 1965.5h0M177.5 1931h0M113.1 1970.9h0M192.7 1904.7h0M149.1 1878.4h0M229 1950.8h0M121.5 1951.8h0M168.5 1935h0M214.9 1905.9h0M228.3 1954.5h0M128.2 1939.2h0M193.8 1958.9h0M189.3 1982.3h0M210.7 1998.9h0M132.3 1998.5h0M135.3 1952.6h0M175.3 1960h0M174.5 1954h0M125.7 1909.5h0M166.6 1900.7h0M198.9 1986.9h0M161.1 1954.6h0M145.7 1984.3h0M148.3 1905.9h0M146.8 2021.3h0M219.1 1979.2h0M194.8 1898.8h0M177.9 1991h0M150.7 1949.1h0M218.2 1982.5h0M235.8 1958.8h0M169.2 1917h0M214.1 1928.4h0M182.2 1969h0M124 1955.4h0M136.5 1956.1h0M142.6 2023.9h0M223 1959.7h0M208.3 1930.7h0M231.1 1978.3h0M180.2 1971.2h0M190.4 2003.4h0M159.4 1947.4h0M139.4 1931.9h0M195 1968.9h0M164.5 1934.9h0M140.3 1911.3h0M181.5 1916.3h0M174.7 1972.9h0M122.8 2018.1h0M175.8 1887.6h0M225.8 1945h0M167 1946.2h0M172.7 1921.9h0M164.7 1921.1h0M222.6 1943.2h0M190.5 1908.3h0M206.4 1932.4h0M158.3 1950.2h0M186.9 1992.7h0M192.5 1948.4h0M147.2 1962.2h0M222.9 1961.1h0M122.6 1877.2h0M154.3 1934h0M88.1 1945.7h0M124.7 1923.7h0M174.9 1947.9h0M212.6 1967.3h0M188.7 1891.2h0M214.7 1868.8h0M175.2 1937.5h0M196.1 1932.9h0M208.5 1940.5h0M128.9 1993.9h0M214.4 1907.2h0M178.1 1954.6h0M201.3 1953.6h0M164.9 1929.7h0M190.5 1956.4h0M163.9 1915.3h0M155.9 1927.7h0M149.7 2014.1h0M178.6 2021.4h0M172.8 1935.3h0M91.2 1929.7h0M146.5 1970.6h0M120.4 2017.9h0M136.8 1928.9h0M182.3 1971.9h0M184.4 1906.6h0M180.9 1894.6h0M184.2 1999.2h0M195.1 1914h0M194.6 1923.4h0M208.7 1919h0M234.1 1956.3h0M151.1 1951.6h0M205 1986.4h0M158 1884.6h0M211.5 1908.4h0M196 1904.9h0M200 1996.7h0M188.2 1943.5h0M96.8 1956.3h0M157.3 1945.1h0M219.9 1951.8h0M184.6 1955.1h0M175.2 1935.6h0M170.1 1911.8h0M186.2 1899.5h0M182.4 1975.2h0M154 1960.8h0M200.3 1968.7h0M172.2 1924h0M152.1 2007.7h0M183.2 1929.9h0M193.3 1927.9h0M187.9 1972.6h0M173.6 1977.2h0M96.6 1963.2h0M136 1927h0M181.2 1920h0M220.1 2011.2h0M233.7 1949.6h0M144.1 1920.7h0M139.7 1865.4h0M187.8 1903.3h0M121.9 1893.9h0M180 1988.3h0M205.9 1953.9h0M195.4 1945.7h0M173.8 1995.5h0M161.3 1963.7h0M109.8 1957.7h0M178.4 1898.6h0M243.3 1925.5h0M241.3 1898.9h0M213.5 1911.9h0M133.1 1887.4h0M173 1948h0M116.2 1913.9h0M181.6 1959h0M139.5 1937.1h0M178.9 1900.7h0M142.4 1924.3h0M189.8 1930h0M157.6 1938.6h0M172.6 1970.4h0M191.5 1911.5h0M173.3 1970.7h0M208.2 1931.6h0M175.9 1916.5h0M220.1 1962h0M140.9 1902.1h0M169.4 1949.2h0M185 1914.7h0M182.3 1972.7h0M177.4 1892.7h0M169.9 1984.7h0M168.1 1948.6h0M167.7 1946.1h0M190.3 1953.7h0M111.6 1906.7h0M197.9 1951.1h0M162 1951.6h0M125.7 1970.3h0M210 2026.3h0M189.3 1915.5h0M149.2 1938.9h0M237.8 1938.1h0M162.2 1902.8h0M192.6 2013.6h0M131.2 1921.7h0M165.9 1943.6h0M203 1914.2h0M149.4 1939.7h0M216.1 1939h0M121.3 1967.3h0M147.7 1961.1h0M208 1981.4h0M211.7 1881.6h0M124.6 1872.4h0M229.2 1925.8h0M170.9 2009.3h0M183.9 2023.5h0M203.4 1906.7h0M148.6 1954.7h0M258.1 1939.8h0M172.2 1943.7h0M183.8 1933h0M146.9 1930h0M246.1 1918.8h0M209.7 1982.6h0M241.8 1978.3h0M182.8 1944.9h0M159.9 1870.8h0M200.7 1990.4h0M155.1 1919.4h0M213.6 1993.5h0M175.2 1977.1h0M207.5 1897h0M179.2 2005.5h0M180.6 1985.2h0M213.3 1929.1h0M144.6 1877.9h0M164.2 1984.9h0M179.3 1933.2h0M141.2 1950.9h0M119.5 1939.4h0M169.5 1965.3h0M196.8 1966.1h0M141.8 1959.4h0M201.9 1931.7h0M200 1969.6h0M190.9 1966.7h0M126 1923.6h0M197 1920.4h0M178.2 1952.4h0M151.7 1889.9h0M259.1 1925.1h0M127.1 1939.6h0M120.6 1993.3h0M220.6 1998.2h0M193.1 1922.7h0M203.7 1964h0M121.1 1990.7h0M154.2 1960h0M210.9 1991.2h0M251.1 1953h0M208 1998h0M188.6 2011.6h0M159.7 2018.5h0M151 1956h0M111 1966.1h0M133.2 1930.7h0M141.8 1962.2h0M177 1962.3h0M120.3 1951.8h0M233.6 1941.2h0M146.6 1965.2h0M169.1 1957.8h0M186.3 1926.5h0M123.2 1979.1h0M177.2 1955.3h0M146 2022h0M200.8 1984.9h0M135 1932.5h0M197.1 1864.8h0M224.9 1941.1h0M133.4 1878.8h0M189.9 1920.6h0M258.7 1954.3h0M185.8 1949.1h0M235.6 1940.3h0M217 1967.2h0M174.8 1913.4h0M205 1889.6h0M224.2 1911.5h0M178.5 1921.1h0M162.3 1938.1h0M205.6 1932.9h0M175.3 1933.1h0M121.1 1951.3h0M214.2 1977.5h0M210.7 1931.4h0M224 1967.3h0M178.9 1907.7h0M190.4 1906.5h0M139.1 1883.8h0M196.2 1941.4h0M176.7 1937.9h0M223.1 1984.9h0M157.9 1898.6h0M179 1941.6h0M180.4 1959.6h0M197.3 1934.6h0M194.8 1910.2h0M212.5 1958.4h0M182.5 1936.5h0M197.7 1966.6h0M118.6 1966.3h0M198.2 1937.4h0M191.7 1985.3h0M207.2 1953.2h0M156.5 2013.7h0M152.3 1988.8h0M212.8 1962.3h0M208.1 1924.5h0M180.2 1981.8h0M156.9 1955.3h0M216.2 1931.3h0M133.4 1991.1h0M241.2 1946.4h0M217.5 1908.3h0M159.2 1864.9h0M119.1 2010.6h0M202.7 1988.2h0M226.5 1891.8h0M154.2 1884.3h0M182.7 1882.3h0M206.3 1979.2h0M132.1 1957h0M166.7 1951.4h0M129.3 1913h0M163.5 1909.8h0M222.9 1925.3h0M175.8 1909.2h0M121 1933.3h0M232.5 1971.9h0M154.2 1969.9h0M204.8 1960.3h0M127.3 1967.8h0M183.4 1909h0M170.7 1925.7h0M212.7 1991.5h0M111.8 1903.1h0M217 1954.4h0M88.4 1957.5h0M186.4 1969h0M169.6 2036.8h0M171.8 1898.8h0M170.9 1933.1h0M234 1914.2h0M202.4 1964.5h0M133 1989.5h0M239.4 1946.5h0M156.9 2012.6h0M138.8 1917.5h0M199.6 1938.7h0M106 1968.2h0M185.3 1936.9h0M161.5 1948.3h0M142.5 2005.8h0M174.7 1955.6h0M202.5 1976.3h0M147.7 1958.9h0M160.3 1915.8h0M198.6 1891.8h0M179.1 1941.3h0M110.6 1907.2h0M124.7 1964.9h0M192.8 1948.3h0M162.3 1959.2h0M151.5 1897.1h0M197.9 1922.2h0M146.9 1981.6h0M139.3 1931.5h0M166.1 1925.9h0M192.1 1957.9h0M142.8 2006.2h0M120.1 1963.7h0M130.9 1989.8h0M185.5 1922.5h0" stroke="#0000FF" stroke-width="5.6" stroke-linecap="round" fill="none"/>
<circle cx="286.1" cy="1880.1" r="8.4" fill="none" stroke="#000" stroke-width="2"/>
<circle cx="286.1" cy="2098.1" r="8.4" fill="none" stroke="#000" stroke-width="2"/>
<path d="M175.1 1931.9L187.1 1947.5L175.1 1963.1L163.1 1947.5Z" fill="#41BE41"/>
<rect x="166.2" y="1980.2" width="17.7" height="17.7" fill="#BF40BF"/>
<ellipse cx="286.1" cy="1989.1" rx="222.1" ry="217.8" fill="none" stroke="#000" stroke-width="2"/>
<rect x="64" y="1771.3" width="444.1" height="435.5" fill="none" stroke="#262626" stroke-width="2"/>
<path d="M677.1 1964.2h0M707.2 1923.4h0M712 1963.9h0M712.5 1964.4h0M723.9 1924.5h0M742.3 1995.1h0M671 1977.2h0M702.3 1897.8h0M706.9 1936.1h0M681.5 1935.6h0M676.2 1957.8h0M691.9 1904h0M680.9 1911.1h0M650.9 1944h0M714.7 1976.3h0M670.9 1932h0M664.2 1960.2h0M717.1 1956h0M709.8 1965.9h0M734.1 1889.2h0M625.1 1948.9h0M708.1 1941.9h0M701.8 1916.7h0M651.2 1931.8h0M714.2 1978.4h0M667.6 1961.4h0M669.6 1956.1h0M655.6 1953.9h0M666.9 1954h0M669.4 1928.3h0M692.4 1944.3h0M689.7 1941.6h0M707.4 1928.5h0M712.1 1999.4h0M680.9 2013h0M749.9 1970.1h0M648.3 1902.1h0M683.7 2014.1h0M706.2 1980.5h0M681.5 1930.9h0M700.2 1918.9h0M683.1 1972.3h0M690.1 1972.8h0M675.6 1975.2h0M701.1 1901h0M657.7 1931.6h0M708.7 1965.4h0M697.5 1961.2h0M708.1 1986.6h0M672.4 1902.9h0M709 1948.5h0M690.5 1949.7h0M655.6 1905.6h0M717.9 1991.5h0M716.9 1962.3h0M697.1 1941.6h0M691 1942.2h0M672.7 1962.2h0M739.9 1893.3h0M707 1977.7h0M652.6 1965.8h0M692 1940.1h0M674.1 1909h0M736.6 1946h0M697.6 1967.9h0M664.6 1946.9h0M705 1941.5h0M636.2 1913.6h0M696.6 1944.3h0M680.1 2000.2h0M691.5 1931.8h0M687.1 2026.7h0M655.2 2014.4h0M732.2 1950.2h0M678.9 2002.3h0M696.3 1937.9h0M743.7 1961.2h0M699 1956.7h0M680 1959.5h0M677.9 1972.2h0M720.7 1991.3h0M724.7 2004.8h0M711.8 1935.5h0M717.9 1901h0M667.6 1965h0M638.5 2004h0M658.5 1906h0M666.2 1930.2h0M688.2 1950.2h0M719.9 1950h0M694.3 1922.8h0M703.9 1929.9h0M630.6 1998.5h0M657.3 1919.5h0M662.7 1976.9h0M643.3 1942.3h0M706.3 2018h0M680.3 1957.3h0M663 2020.8h0M684.8 1953.4h0M693.4 1925.2h0M688.7 1913.8h0M733.7 1950.5h0M684.1 1994h0M652.5 2001.7h0M734.7 1930.1h0M709.7 1952.2h0M715.5 1956.8h0M662 1976.2h0M682.4 1961.4h0M718.3 1995.6h0M707.9 1908.6h0M709.8 1945.5h0M721.2 1949h0M731.8 1972.4h0M689 1965.1h0M636.1 1974.4h0M692.4 1919.3h0M701.2 1966h0M699.7 1951.6h0M712.7 1981.9h0M691.8 1953.4h0M675.4 1935.8h0M707.4 1937.4h0M646.6 1963.6h0M722.2 1946.4h0M715 1971.3h0M658.8 1966.1h0M685.7 1978h0M711.2 1924.9h0M721.1 1950.5h0M694.5 1984h0M729.4 1961.2h0M709.6 1970.2h0M667.3 2009.7h0M712.4 1960.6h0M721.5 1973.7h0M672.7 1989h0M691.4 1976.4h0M718.2 1987.3h0M746 1962.7h0M684.6 1932.2h0M670.9 1978.3h0M702.5 1927.9h0M671.5 1942h0M736.7 1925.8h0M700.9 1903h0M683.3 2002.4h0M652.7 1994.7h0M633.6 1958.6h0M657.1 1956.1h0M683 1983.5h0M698.3 1962.3h0M673.9 1971.5h0M666.2 1935.6h0M671.4 1975.4h0M758 1954.6h0M747.7 1923.2h0M672.3 1973.9h0M708.4 1981.9h0M737.5 1950.1h0M722.7 1965h0M674.6 1960.6h0M706.3 1947.9h0M729.7 1925h0M689.7 1987.3h0M656.7 1998.4h0M719 1951.7h0M690.5 1954.1h0M691.1 1998.1h0M705.8 1911.6h0M644.2 1976.8h0M671.9 1956h0M730.6 1962.5h0M715.7 1990.1h0M686.8 1987.9h0M707.9 1964.3h0M671 1942.4h0M713.8 1955.3h0M702.1 1969.8h0M698.3 1957h0M707.6 1983.9h0M731.1 1973h0M673.1 1934.3h0M709.1 1906.3h0M674.4 1990.8h0M680.1 1935h0M687.7 1941.5h0M675.4 1986.4h0M734.9 1993.8h0M708.6 1967.3h0M682.7 1956.7h0M641.5 1939.4h0M707.8 1952.6h0M714.7 1905.4h0M673.2 1923.6h0M721.5 1947.9h0M681.2 1916.3h0M675 1923.3h0M672.9 2028h0M655.5 1947.9h0M663.2 1999.4h0M660.8 1927.9h0M700.8 2010.9h0M696.8 1937.6h0M687.3 1957h0M725 1971.5h0M681.8 1998.3h0M741.3 1934.6h0M717.3 1995.4h0M666.7 1974.7h0M688.6 1994.7h0M722.7 1886.2h0M682.8 2001.2h0M704.8 1922.2h0M675.1 1920.7h0M699.3 1913.1h0M726.1 1983.9h0M739.9 1991.5h0M720.1 1986.4h0M706.9 1892.7h0M706.5 1930.6h0M689.8 1903h0M699.2 1970.9h0M695.8 2005.1h0M656.7 1986.2h0M660.7 1972.1h0M709.5 1940.6h0M645.5 1941.1h0M663.1 1994h0M672.4 2000.5h0M676.6 1983.1h0M713.9 1960.3h0M711.4 1968h0M679.7 1972.8h0M724.7 1975.4h0M630.7 1938.6h0M730.2 1974.3h0M668.8 1948.9h0M694.2 2011.5h0M661.6 1963.9h0M734.7 1991.5h0M686.2 1947.6h0M636.5 1900.2h0M663.6 1984.3h0M714.6 1999.6h0M717.5 1981.8h0M695.2 1930.3h0M726.7 1944.1h0M635.5 1971.4h0M692.6 2036.9h0M681.9 1968h0M655.2 1978.9h0M697.7 1929.3h0M696.9 1913.9h0M706.9 1940.8h0M700.2 1925.8h0M666.2 1950.4h0M714.4 1960.1h0M617.8 1977.9h0M685.9 1976.7h0M723.8 1983h0M667.2 1943.6h0M704.2 1989.1h0M665.9 1934.6h0M659.4 1969h0M667.4 2032.5h0M714.3 1994.9h0M707.5 1935.9h0M698.5 1893h0M737.4 1947.5h0M635.8 1929.8h0M713.2 1885.7h0M673.2 1993.8h0M721.6 1958.4h0M611.9 1947h0M728.1 1984.7h0M677.4 1968.3h0M706.7 1942.7h0M667.1 1932.5h0M663.9 1953.2h0M688.1 1975.1h0M707 1951.3h0M624.9 1974.3h0M662.4 2013.5h0M680.3 2030.2h0M708.7 2011.5h0M695.4 1973h0M676.8 1940.4h0M675.3 1980.8h0M655.7 1989.8h0M681.7 1976.8h0M660 1958h0M638.2 1934.6h0M683.4 1922.3h0M682.3 1959.5h0M693.2 1888.1h0M680 1948.5h0M663.5 1923.7h0M746.7 1983.2h0M718.8 1994.9h0M660.9 1947h0M635.9 1961.7h0M631.6 1931.6h0M711.3 1973.3h0M659.6 1925.8h0M728.1 1970.2h0M673.9 1960.2h0M692.7 1919.9h0M672.4 1886h0M696.1 1958.2h0M720.1 1989.4h0M675.4 2008.3h0M667.1 1986.5h0M673.4 1935h0M651.7 1953.4h0M756.7 1960.6h0M703.2 1944.2h0M704.1 1976.1h0M703.4 2000.9h0M688.3 1969.3h0M735.6 1976.2h0M666.7 1997.7h0M708.4 1929.1h0M665.8 1942.7h0M714 1966.8h0M718.9 2037.3h0M741.4 1959.6h0M669.5 2001.9h0M668.2 1930.2h0M686 1965.2h0M681.7 1964.7h0M608.8 1943.8h0M690.5 1979.4h0M699.9 1948.5h0M708.1 1966.4h0M703.4 1929h0M658.8 1963.7h0M641.8 1975.7h0M677.9 1979.4h0M693.1 1928.7h0M668.4 1942.4h0M728.6 2001.5h0M683.9 1960.4h0M665.6 2002.6h0M696.8 1934.7h0M650.2 1973.1h0M745.7 1959h0M662.6 1927.3h0M672.3 1880.9h0M716.3 1936.9h0M699.4 1962.5h0M731.8 1988.4h0M676.7 1898.7h0M695.2 1936.5h0M691.5 1903h0M680 1947.9h0M650.5 1897.6h0M622.4 1957.8h0M725 1954.1h0M611.6 1953.8h0M638.6 1963.2h0M740.8 1966.9h0M698.8 2017.5h0M704 1978.2h0M635 2002.4h0M651.7 1888.9h0M704.1 1979.4h0M732.3 1993.4h0M700 1966.3h0M714.8 1967.3h0M702.7 1888.3h0M685.7 1943.3h0M704.3 1929.2h0M717.1 1980h0M655.2 1956.3h0M705.3 1919.6h0M616.5 1947.2h0M696.3 1956h0M721.5 1965.3h0M737.3 1936.6h0M738.6 1945.8h0M704 1893.4h0M665.7 1994.7h0M691 1955.8h0M652.8 1981.7h0M659 2003.8h0M707.5 1936.9h0M664.4 1938.1h0M700.3 1963.7h0M640.4 1966.9h0M656.8 2016.2h0M632.3 1986.4h0M653.1 1968.1h0M724.6 1971h0M653.7 1904.5h0M733.4 1928.7h0M712.5 1995.1h0M639.2 2020.8h0M685.2 1948.9h0M659.4 1963.1h0M703.5 1990.3h0M720.3 1989.5h0M685.7 1952.4h0M692.9 1961.8h0M727.2 1986h0M684.1 1925h0M631.5 1948.3h0M689.6 1893.5h0M678.2 1963.9h0M695.5 1908.7h0M668.9 1907.2h0M714.6 1964.6h0M767.3 1935.6h0M734.7 1956.5h0M691.6 1990.3h0M630.9 1915.9h0M734.8 1988.7h0M745.3 1974.1h0M674.7 1983.8h0M675.9 1953.2h0M685.4 1926.8h0M752.7 1979.4h0M693.1 1968.5h0M671.9 1943.2h0M692.7 1966.2h0M623.8 1999h0M627.3 1923.5h0M647.1 1959h0M635.8 1988.1h0M709.7 1986.1h0M712.9 1944.5h0M696.3 1923.5h0M675.8 1969.7h0M650.8 1945.4h0M673.8 1984.8h0M704.9 1940.8h0M712.9 2019.4h0M721.9 1958.5h0M692.8 1923.3h0M672.7 1964.7h0M700.3 1908.2h0M651.4 1914.8h0M654.2 1934.2h0M683.9 1916.1h0M667.6 1889.6h0M681.4 1962.6h0M671.8 1902.7h0M760 1927h0M700.6 1882.1h0M665.2 1958.6h0M685.2 1958.9h0M689.2 1929.1h0M660.4 1947.4h0M667.7 1933.7h0M699.5 1960.9h0M673.4 1989h0M685 1945.2h0M711.8 1961.4h0M639.5 1968.6h0M638.9 1942.8h0M695.7 1974.8h0M659.9 1941.2h0M710.3 2019.7h0M746.1 1981.3h0M737.2 1935.8h0M680.6 1980.4h0M711.6 1903.4h0M722.7 1925.7h0M684.3 1915.9h0M677 1989h0M648.8 1933h0M687.8 1973.5h0M739 1958.3h0M719.4 1903h0M672 1875.5h0M722.5 1935.2h0M706.1 1919.4h0M654.9 1920.8h0M666.5 1944.1h0M636.3 1956.8h0M704.6 1894h0M641.1 1915.9h0M660 2010.9h0M709.7 1911.9h0M649.3 1897.9h0M699 1898.6h0M692.1 1982.4h0M661.8 1929h0M662.1 1996.7h0M706.9 1969.9h0M712.8 1952.9h0M668 1964.2h0M715 1948.8h0M680.9 1922.7h0M729.6 1979.6h0M694.3 1960.9h0M699.6 1957.5h0M718 1961.3h0M711.6 1957.4h0M671.6 1993h0M724 2006.2h0M676.2 1934.6h0M633.2 1957.3h0M664.2 1995.1h0M654.1 1987h0M651.9 1951.6h0M727.1 1939.9h0M700.7 1978.6h0M648.5 2030h0M648.4 1945.6h0M695 1969h0M719.2 1994.8h0M648.8 1949.9h0M626.6 1964.6h0M668.9 1967h0M637.6 1918.2h0M703.9 1979.2h0M679.2 1940.3h0M672.1 1936h0M670.8 2040.1h0M710.4 1902.6h0M676 1921.6h0M693.7 2025.9h0M726.3 1960.2h0M701 1951.3h0M658.7 1935.7h0M722.3 1903.3h0M727.3 2032.7h0M691.1 1993h0M694.8 1946.4h0M627.9 1931.4h0M735.8 1958.4h0M679.7 2007.7h0M687.1 1890.7h0M673.1 2005.7h0M723.8 1945h0M714.2 1952.2h0M763.5 1980.9h0M726 1972.9h0M723.3 1980h0M694.1 1943.1h0M681 1954h0M714.6 1980h0M733.7 1952.7h0M697.4 1889.1h0M670.4 1936.3h0M691.1 1962h0M676.4 1970.4h0M676.7 1956.7h0M671.6 1963.3h0M672.5 1949.3h0M665.9 1912.2h0M728.6 1931.2h0M721.6 1944.9h0M688.5 1958.4h0M663.1 1899.6h0M712.7 1962.7h0M639.9 1931.6h0M669.9 1991.4h0M704.4 1954.8h0M722.1 1968.9h0M666.9 1909.4h0M718.1 1899h0M724.6 1896.1h0M668.9 1995.4h0M715.3 1993.7h0M644 1945h0M686.8 1941.3h0M670.8 1964.6h0M688.7 1923.2h0M671.3 1946h0M687.4 1946.1h0M642.4 1957.7h0M703.4 2006.7h0M673.3 1985.1h0M672.1 1996.9h0M685 1958.9h0M682.8 1960.8h0M694.7 1910h0M709.2 1922.2h0M683.9 1987h0M682.9 1934.3h0M740 2002.3h0M732.2 1990.8h0M704.7 1963.4h0M646.5 1925.7h0M664.3 1992.2h0M762.3 1982.8h0M683.9 2001.9h0M687.9 1948.7h0M687.8 1993.2h0M727.4 1966.3h0M658.6 1984.6h0M665.9 1925.7h0M672.2 1920.2h0M667.5 2013.3h0M659.6 1953.1h0M643.6 1928.4h0M678 1959.1h0M692.1 1953h0M667.6 2004.6h0M710.5 1937.3h0M681.8 1940.4h0M688.3 1934.3h0M711.2 1986.6h0M685.2 1967.6h0M671.7 1997.4h0M677.1 1972.2h0M700.2 1924.7h0M634.5 1930.3h0M657.3 1933.9h0M686.4 1952.5h0M672.5 2012.8h0M652 1986.7h0M711.1 1928h0M749.2 1999.2h0M699 1971.3h0M691.2 1976.5h0M674.1 1994.1h0M719.8 1943.4h0M644.4 1993.8h0M695.1 1926.3h0M733.2 1962.9h0M643.5 1987.2h0M654.1 1892.7h0M666.7 1948.4h0M697.7 1962.2h0M682.9 1965.3h0M664 1946.1h0M724.1 1946h0M695.7 1948.3h0M746.7 1996.1h0M702.4 1981.6h0M700.3 1966.4h0M684.6 1957.6h0M718.7 1905.4h0M669.7 1969.6h0M630.9 1974.4h0M756.1 1924.2h0M627 1978.6h0M680.8 2026.2h0M677 1934.3h0M725.6 1999.4h0M723.1 2033h0M707.8 1957.9h0M673.3 1951.8h0M675.4 1937.6h0M656.7 1876.6h0M702.9 1969.9h0M637.7 1985.4h0M693.7 1943.7h0M712 1996.8h0M726.3 1959.9h0M738.9 1943.4h0M672.5 1934.3h0M667.1 1941.7h0M648.6 1900.7h0M736.9 1975.8h0M719.5 1967.7h0M657 1999.8h0M712.2 1914.9h0M712.6 1885.2h0M720.4 1927h0M720.7 1927.2h0M722.3 1968.1h0M707.9 1965.4h0M705.7 1978.6h0M713.6 1879.3h0M677.4 1937.5h0M679.8 1950.8h0M751 1974.5h0M645.7 1940.3h0M719 1918.6h0M696.2 1935.7h0M700.1 1948.6h0M688 1946.5h0M663.5 1997.6h0M700.7 1959.6h0M736.6 1964.9h0M688.1 1962.8h0M677 1928.5h0M745.8 1928.5h0M727.4 1971.4h0M653.8 1947.4h0M665.7 1953.3h0M714.7 1924.9h0M661.8 1915.1h0M733.9 1959.7h0M699.4 1961h0M653.9 2011.5h0M654.7 1881.6h0M711.3 1924.8h0M719.7 1979h0M692.6 1978.5h0M712.1 1938.2h0M665.4 1911.6h0M676 1930h0M655.3 1930.4h0M766.7 1976.9h0M646.5 2011h0M633.2 1951h0M655.3 1918.9h0M673.1 1971.1h0M723.5 1892.8h0M674.8 1925.9h0M704.8 1982.3h0M649.3 1926.7h0M664 1979.5h0M674.1 1927h0M667 1929.2h0M691.2 2014.4h0M634.5 1929.9h0M699.8 1878.8h0M700.1 1967.7h0M688.9 1908.6h0M742.9 1961h0M680.2 1993.3h0M640.6 1927.9h0M629.8 1947.6h0M691.2 1943.2h0M680.3 1977h0M667 1943.9h0M648 1973.7h0M678.3 2009.3h0M670 1972.2h0M699.2 1911.5h0M711 1970.9h0M718.4 1985.1h0M679.5 2007.7h0M701.1 1981.5h0M634.5 1951.8h0M688.4 1975h0M691.1 1898.9h0M674.5 2003.8h0M721.8 1902.6h0M679.2 1906.5h0M700.7 1989.4h0M713.6 1919h0M673.1 1950.1h0M741.7 1965.4h0M692.4 1959.7h0M695.5 1927.2h0M654.7 1937.2h0M679.8 1933.9h0M710.1 1956h0M712 1931.1h0M613.9 1937.8h0M715.6 1961.4h0M611.2 1936.2h0M666.6 1945.2h0M667.3 1952.2h0M669.9 1938.4h0M716.6 1963.3h0M683.1 1908.1h0M662.1 1934.4h0M701.1 1900.1h0M695.7 2000.7h0M695.2 1908.8h0M718.7 1956h0M708.2 1986.8h0M708.9 1950.8h0M662.2 2029.4h0M664.2 1985.3h0M661.8 1998.6h0M747.8 1985.6h0M667.5 1945h0M734.7 2006.3h0M709.5 1964.5h0M737.9 1974.9h0M700.7 1986.3h0M701.8 1996.4h0M735.8 1973.7h0M619.5 1957.5h0M676.3 1918.9h0M675.6 2000.5h0M647.1 1944.5h0M668.1 1906.4h0M644.6 1974.1h0M649.7 2017.3h0M683.7 1967.6h0M706.4 1903.9h0M721.6 1961.5h0M687.3 1974.6h0M694.7 1957.5h0M652.2 1952.3h0M708.5 1929.1h0M713.5 1944.6h0M706 1957.5h0M658.6 1948.9h0M672.4 1929h0M664.1 1884.9h0M679.5 1950.2h0M657.1 1902.3h0M708.2 1966.8h0M722.2 1990.5h0M659.4 1955.6h0M684.7 1984.5h0M660.1 1925h0M726.5 1919.2h0M692.1 1961.2h0M644.5 1932h0M663.1 1937.7h0M656.7 1985.7h0M679.3 1986.2h0M714.3 1898h0M714.3 1937.5h0M710.3 1987.8h0M728 1988.2h0M685.3 1936h0M692.5 1963.7h0M690.7 1948.6h0M706.7 1942.7h0M697.4 1960.9h0M722.9 1936.3h0M671.3 1927.3h0M712.7 1968.6h0M681.4 2012.6h0M662.2 1983.3h0M701.2 1942.8h0M657.6 1930.8h0M714.7 1908.2h0M680.8 1927.8h0M689.6 1930.4h0M674.4 1910.5h0M693.5 1926.9h0M689.4 1896.3h0M650.6 1941.8h0M665.2 1947.1h0M669.1 1977.7h0M703 1989.9h0M707.5 1992.7h0M722.6 1965.8h0M675.2 1953h0M693.1 1930.3h0M676.4 1988.9h0M710.5 1930.1h0M659.5 1937.2h0M639.5 1988.3h0M701.2 1916.4h0M680.5 1932.2h0M726.8 1913.5h0M668 2008h0M738.6 2007.7h0M699.2 1940.4h0M663.7 1980.9h0M665.3 1951.6h0M684.2 1988.4h0M668.4 1988h0M671.8 1939h0M655.8 1963.4h0M684.1 1958.6h0M679.3 1958.7h0M738.5 1970.9h0M719.3 1954.2h0M688.4 1994.4h0M703.9 1940.3h0M705.2 1962.5h0M672.9 1905.5h0M641.2 1999.4h0M691.4 1956.6h0M707.1 1954h0M753 1960.8h0M720.2 1962.9h0M646.2 1974.6h0M698.2 1941.3h0M731 1978.1h0M714.3 1916.3h0M675.9 1901.1h0M707.8 1991.6h0M672.1 2032.9h0M657.3 1964.5h0M700.5 1960.4h0M750.5 1964.3h0M729.7 1931.2h0M708.6 2003h0M692.7 2003h0M723 1965.9h0M659.2 1936.6h0M640.3 1989.2h0M735.8 1966.8h0M702.8 1891.5h0M723.4 1911.7h0M673.3 2022.7h0M704.7 1932h0M664.7 1966h0M724.4 1964.2h0M693.7 1973.1h0M711.5 1905.9h0M635.4 1999.6h0M668 1885.6h0M674.7 1950.2h0M679.4 1995.5h0M656.1 1954h0M646 2024.3h0M653.8 1901.1h0M710.4 1962.7h0M651.1 1974.5h0M712.1 1941.1h0M705.6 1986.3h0M709.5 1939.8h0M687.1 1940.3h0M676.5 1953.3h0M675.1 1949.8h0M684.6 1947.9h0M705 1916.5h0M662.8 1935.6h0M663.3 1971.2h0M695.9 1953.3h0M680.7 1972.9h0M713.8 1984.7h0M682.2 1957.4h0M638.5 1947.5h0M752.8 1931.6h0M716.9 1975.8h0M660 1895.5h0M664.8 1997.5h0M720 1976.2h0M676.5 1977.6h0M654.8 1984h0M701.8 1978.6h0M663.8 1963.4h0M688.6 1966.6h0M760.2 1918.6h0M686.8 2000.3h0M672 2009.8h0M692.8 1953.3h0M708.3 1948.4h0M719.7 2013.9h0M616.2 1990.9h0M631.5 1895.4h0M714.3 1968.4h0M701 1926.8h0M672.4 1946h0M640 1972.1h0M681.7 1974.2h0M670.9 1947.4h0M704.2 1938.1h0M664.3 1923.1h0M716.3 1959h0M740.4 1952.5h0M700.6 1951.7h0M679.6 1966.6h0M653.2 1938.8h0M700.6 1930.2h0M624.3 1936.5h0M654.1 1968.4h0M650.2 1924.4h0M690.5 1939.9h0M704.9 1958.8h0M681.8 1974.9h0M697.3 1935.7h0M717 1953.6h0M701.5 1952.4h0M700.3 1934.9h0M701.2 1960.8h0M684 1956.5h0M679.4 1972.7h0M735.2 1929.4h0M682 1907.5h0M679.1 1954.8h0M700.5 1913.9h0M667.7 1955.8h0M692.5 1931.7h0M677.2 1875h0M667.2 1929.3h0M677.6 1940.4h0M750.7 1986.7h0M685.2 1891.9h0M740.4 1935.9h0M662.1 1950h0M683.7 2000.9h0M691 1970.1h0M706.6 2004.6h0M708.8 1950.2h0M676.3 1908.8h0M720 1929.9h0M671.5 1978.5h0M677.9 1963.3h0M668.8 1944.7h0M689.1 2007.9h0M640.1 1926.1h0M699 1974.5h0M678.5 1953.7h0M685.5 1977.9h0M644.3 1950.4h0M728.8 1988.4h0M669.4 1969.1h0M656.2 1971.5h0M700.8 1955.6h0M699.1 1947.8h0M721.9 1984.5h0M708.9 1992.4h0M723.7 1960h0M707.9 1953.9h0M638.1 1995h0M684.8 1952.7h0M749.5 1950.6h0M679.3 1896.3h0M698.9 1959.8h0M708.4 1833.4h0M636.2 1856.5h0M748.5 1869.2h0M740.5 1873.3h0M600 1914.1h0M598.2 1992.2h0M600.4 2038.1h0M633.8 2056.5h0M769.7 1933.1h0M770.4 1948.8h0M769.7 1993.6h0M744.1 2038.9h0M736.4 2050.6h0M717.6 2053.3h0M696.7 2056.1h0M667.3 2048.4h0M651.5 2041.8h0" stroke="#FF0000" stroke-width="5.6" stroke-linecap="round" fill="none"/>
<circle cx="800" cy="1880.1" r="8.4" fill="none" stroke="#000" stroke-width="2"/>
<circle cx="800" cy="2098.1" r="8.4" fill="none" stroke="#000" stroke-width="2"/>
<path d="M689 1931.9L701 1947.5L689 1963.1L677 1947.5Z" fill="#41BE41"/>
<rect x="680.1" y="1980.2" width="17.7" height="17.7" fill="#BF40BF"/>
<ellipse cx="800" cy="1989.1" rx="222.5" ry="217.8" fill="none" stroke="#000" stroke-width="2"/>
<rect x="577.5" y="1771.3" width="445" height="435.5" fill="none" stroke="#262626" stroke-width="2"/>
<rect x="1251.2" y="255" width="51.6" height="229.3" fill="#0072BD" stroke="#000" stroke-width="1.7"/>
<rect x="1315.9" y="274.7" width="51.2" height="209.6" fill="#D95319" stroke="#000" stroke-width="1.7"/>
<line x1="1343.1" y1="262" x2="1343.1" y2="287.1" stroke="#000" stroke-width="1.8"/>
<text x="1343.1" y="262.6" font-size="35" text-anchor="middle" fill="#000">**</text>
<rect x="1476.9" y="254.9" width="51.5" height="229.4" fill="#0072BD" stroke="#000" stroke-width="1.7"/>
<rect x="1541.2" y="274.7" width="51.9" height="209.6" fill="#D95319" stroke="#000" stroke-width="1.7"/>
<line x1="1569" y1="262.2" x2="1569" y2="287" stroke="#000" stroke-width="1.8"/>
<text x="1569" y="262.8" font-size="35" text-anchor="middle" fill="#000">**</text>
<rect x="1199.8" y="48.2" width="444.3" height="436.1" fill="none" stroke="#262626" stroke-width="2"/>
<text x="1182.8" y="502.1" font-size="44.5" text-anchor="end" fill="#262626">0</text>
<text x="1182.8" y="377.5" font-size="44.5" text-anchor="end" fill="#262626">0.1</text>
<text x="1182.8" y="252.9" font-size="44.5" text-anchor="end" fill="#262626">0.2</text>
<text x="1182.8" y="128.3" font-size="44.5" text-anchor="end" fill="#262626">0.3</text>
<path d="M1199.8 484.3h5.2M1644.1 484.3h-5.2M1199.8 359.7h5.2M1644.1 359.7h-5.2M1199.8 235.1h5.2M1644.1 235.1h-5.2M1199.8 110.5h5.2M1644.1 110.5h-5.2M1309.3 484.3v-5.2M1309.3 48.2v5.2M1535.2 484.3v-5.2M1535.2 48.2v5.2" stroke="#262626" stroke-width="2" fill="none"/>
<text x="1309.3" y="546.1" font-size="44.5" text-anchor="middle" fill="#262626">Beacon</text>
<text x="1535.2" y="546.1" font-size="44.5" text-anchor="middle" fill="#262626">Prior Mode</text>
<text transform="translate(1099 266.2) rotate(-90)" font-size="49" text-anchor="middle" fill="#262626">Mean Distance (m)</text>
<rect x="1282.2" y="74.3" width="339.2" height="116.8" fill="#fff" stroke="#262626" stroke-width="1.5"/>
<rect x="1292.9" y="85.5" width="110.8" height="41.4" fill="#0072BD" stroke="#000" stroke-width="1.8"/>
<rect x="1292.9" y="138.4" width="110.8" height="41.4" fill="#D95319" stroke="#000" stroke-width="1.8"/>
<text x="1411" y="122.2" font-size="40.5" fill="#000">Targets</text>
<text x="1411" y="175.6" font-size="40.5" fill="#000">Responses</text>
<rect x="1251.2" y="835" width="51.6" height="216.7" fill="#0072BD" stroke="#000" stroke-width="1.7"/>
<rect x="1315.9" y="848.2" width="51.2" height="203.5" fill="#D95319" stroke="#000" stroke-width="1.7"/>
<line x1="1343.1" y1="839.5" x2="1343.1" y2="857.3" stroke="#000" stroke-width="1.8"/>
<text x="1343.1" y="840.1" font-size="35" text-anchor="middle" fill="#000">**</text>
<rect x="1476.9" y="1018" width="51.5" height="33.7" fill="#0072BD" stroke="#000" stroke-width="1.7"/>
<rect x="1541.2" y="1012.7" width="51.9" height="39" fill="#D95319" stroke="#000" stroke-width="1.7"/>
<line x1="1569" y1="1009.3" x2="1569" y2="1015.9" stroke="#000" stroke-width="1.8"/>
<rect x="1199.8" y="614.9" width="444.3" height="436.8" fill="none" stroke="#262626" stroke-width="2"/>
<text x="1182.8" y="1069.5" font-size="44.5" text-anchor="end" fill="#262626">0</text>
<text x="1182.8" y="944.7" font-size="44.5" text-anchor="end" fill="#262626">0.2</text>
<text x="1182.8" y="819.9" font-size="44.5" text-anchor="end" fill="#262626">0.4</text>
<text x="1182.8" y="695.1" font-size="44.5" text-anchor="end" fill="#262626">0.6</text>
<path d="M1199.8 1051.7h5.2M1644.1 1051.7h-5.2M1199.8 926.9h5.2M1644.1 926.9h-5.2M1199.8 802.1h5.2M1644.1 802.1h-5.2M1199.8 677.3h5.2M1644.1 677.3h-5.2M1309.3 1051.7v-5.2M1309.3 614.9v5.2M1535.2 1051.7v-5.2M1535.2 614.9v5.2" stroke="#262626" stroke-width="2" fill="none"/>
<text x="1309.3" y="1113.5" font-size="44.5" text-anchor="middle" fill="#262626">Beacon</text>
<text x="1535.2" y="1113.5" font-size="44.5" text-anchor="middle" fill="#262626">Prior Mode</text>
<text transform="translate(1099 833.3) rotate(-90)" font-size="49" text-anchor="middle" fill="#262626">Mean Distance (m)</text>
<rect x="1282.2" y="641" width="339.2" height="116.8" fill="#fff" stroke="#262626" stroke-width="1.5"/>
<rect x="1292.9" y="652.2" width="110.8" height="41.4" fill="#0072BD" stroke="#000" stroke-width="1.8"/>
<rect x="1292.9" y="705.1" width="110.8" height="41.4" fill="#D95319" stroke="#000" stroke-width="1.8"/>
<text x="1411" y="688.9" font-size="40.5" fill="#000">Targets</text>
<text x="1411" y="742.3" font-size="40.5" fill="#000">Responses</text>
<rect x="1251.2" y="1423.8" width="51.6" height="203" fill="#0072BD" stroke="#000" stroke-width="1.7"/>
<rect x="1315.9" y="1434.9" width="51.2" height="191.9" fill="#D95319" stroke="#000" stroke-width="1.7"/>
<line x1="1343.1" y1="1423.2" x2="1343.1" y2="1447.2" stroke="#000" stroke-width="1.8"/>
<text x="1343.1" y="1423.8" font-size="35" text-anchor="middle" fill="#000">*</text>
<rect x="1476.9" y="1569.8" width="51.5" height="57" fill="#0072BD" stroke="#000" stroke-width="1.7"/>
<rect x="1541.2" y="1550.9" width="51.9" height="75.9" fill="#D95319" stroke="#000" stroke-width="1.7"/>
<line x1="1569" y1="1545.7" x2="1569" y2="1556.6" stroke="#000" stroke-width="1.8"/>
<rect x="1199.8" y="1190.7" width="444.3" height="436.1" fill="none" stroke="#262626" stroke-width="2"/>
<text x="1182.8" y="1644.6" font-size="44.5" text-anchor="end" fill="#262626">0</text>
<text x="1182.8" y="1488.8" font-size="44.5" text-anchor="end" fill="#262626">0.5</text>
<text x="1182.8" y="1333.1" font-size="44.5" text-anchor="end" fill="#262626">1</text>
<path d="M1199.8 1626.8h5.2M1644.1 1626.8h-5.2M1199.8 1471h5.2M1644.1 1471h-5.2M1199.8 1315.3h5.2M1644.1 1315.3h-5.2M1309.3 1626.8v-5.2M1309.3 1190.7v5.2M1535.2 1626.8v-5.2M1535.2 1190.7v5.2" stroke="#262626" stroke-width="2" fill="none"/>
<text x="1309.3" y="1688.6" font-size="44.5" text-anchor="middle" fill="#262626">Beacon</text>
<text x="1535.2" y="1688.6" font-size="44.5" text-anchor="middle" fill="#262626">Prior Mode</text>
<text transform="translate(1099 1408.8) rotate(-90)" font-size="49" text-anchor="middle" fill="#262626">Mean Distance (m)</text>
<rect x="1282.2" y="1216.8" width="339.2" height="116.8" fill="#fff" stroke="#262626" stroke-width="1.5"/>
<rect x="1292.9" y="1228" width="110.8" height="41.4" fill="#0072BD" stroke="#000" stroke-width="1.8"/>
<rect x="1292.9" y="1280.9" width="110.8" height="41.4" fill="#D95319" stroke="#000" stroke-width="1.8"/>
<text x="1411" y="1264.7" font-size="40.5" fill="#000">Targets</text>
<text x="1411" y="1318.1" font-size="40.5" fill="#000">Responses</text>
<rect x="1251.2" y="1958.3" width="51.6" height="248.5" fill="#0072BD" stroke="#000" stroke-width="1.7"/>
<rect x="1315.9" y="1981.9" width="51.2" height="224.9" fill="#D95319" stroke="#000" stroke-width="1.7"/>
<line x1="1343.1" y1="1966.2" x2="1343.1" y2="1997.7" stroke="#000" stroke-width="1.8"/>
<text x="1343.1" y="1966.8" font-size="35" text-anchor="middle" fill="#000">**</text>
<rect x="1476.9" y="2057.9" width="51.5" height="148.9" fill="#0072BD" stroke="#000" stroke-width="1.7"/>
<rect x="1541.2" y="2013.9" width="51.9" height="192.9" fill="#D95319" stroke="#000" stroke-width="1.7"/>
<line x1="1569" y1="1993.2" x2="1569" y2="2034" stroke="#000" stroke-width="1.8"/>
<rect x="1199.8" y="1771.3" width="444.3" height="435.5" fill="none" stroke="#262626" stroke-width="2"/>
<text x="1182.8" y="2224.6" font-size="44.5" text-anchor="end" fill="#262626">0</text>
<text x="1182.8" y="2062" font-size="44.5" text-anchor="end" fill="#262626">0.2</text>
<text x="1182.8" y="1899.4" font-size="44.5" text-anchor="end" fill="#262626">0.4</text>
<path d="M1199.8 2206.8h5.2M1644.1 2206.8h-5.2M1199.8 2044.2h5.2M1644.1 2044.2h-5.2M1199.8 1881.6h5.2M1644.1 1881.6h-5.2M1309.3 2206.8v-5.2M1309.3 1771.3v5.2M1535.2 2206.8v-5.2M1535.2 1771.3v5.2" stroke="#262626" stroke-width="2" fill="none"/>
<text x="1309.3" y="2268.6" font-size="44.5" text-anchor="middle" fill="#262626">Beacon</text>
<text x="1535.2" y="2268.6" font-size="44.5" text-anchor="middle" fill="#262626">Prior Mode</text>
<text transform="translate(1099 1989.1) rotate(-90)" font-size="49" text-anchor="middle" fill="#262626">Mean Distance (m)</text>
<rect x="1282.2" y="1797.4" width="339.2" height="116.8" fill="#fff" stroke="#262626" stroke-width="1.5"/>
<rect x="1292.9" y="1808.6" width="110.8" height="41.4" fill="#0072BD" stroke="#000" stroke-width="1.8"/>
<rect x="1292.9" y="1861.5" width="110.8" height="41.4" fill="#D95319" stroke="#000" stroke-width="1.8"/>
<text x="1411" y="1845.3" font-size="40.5" fill="#000">Targets</text>
<text x="1411" y="1898.7" font-size="40.5" fill="#000">Responses</text>
</svg>
</body></html>
